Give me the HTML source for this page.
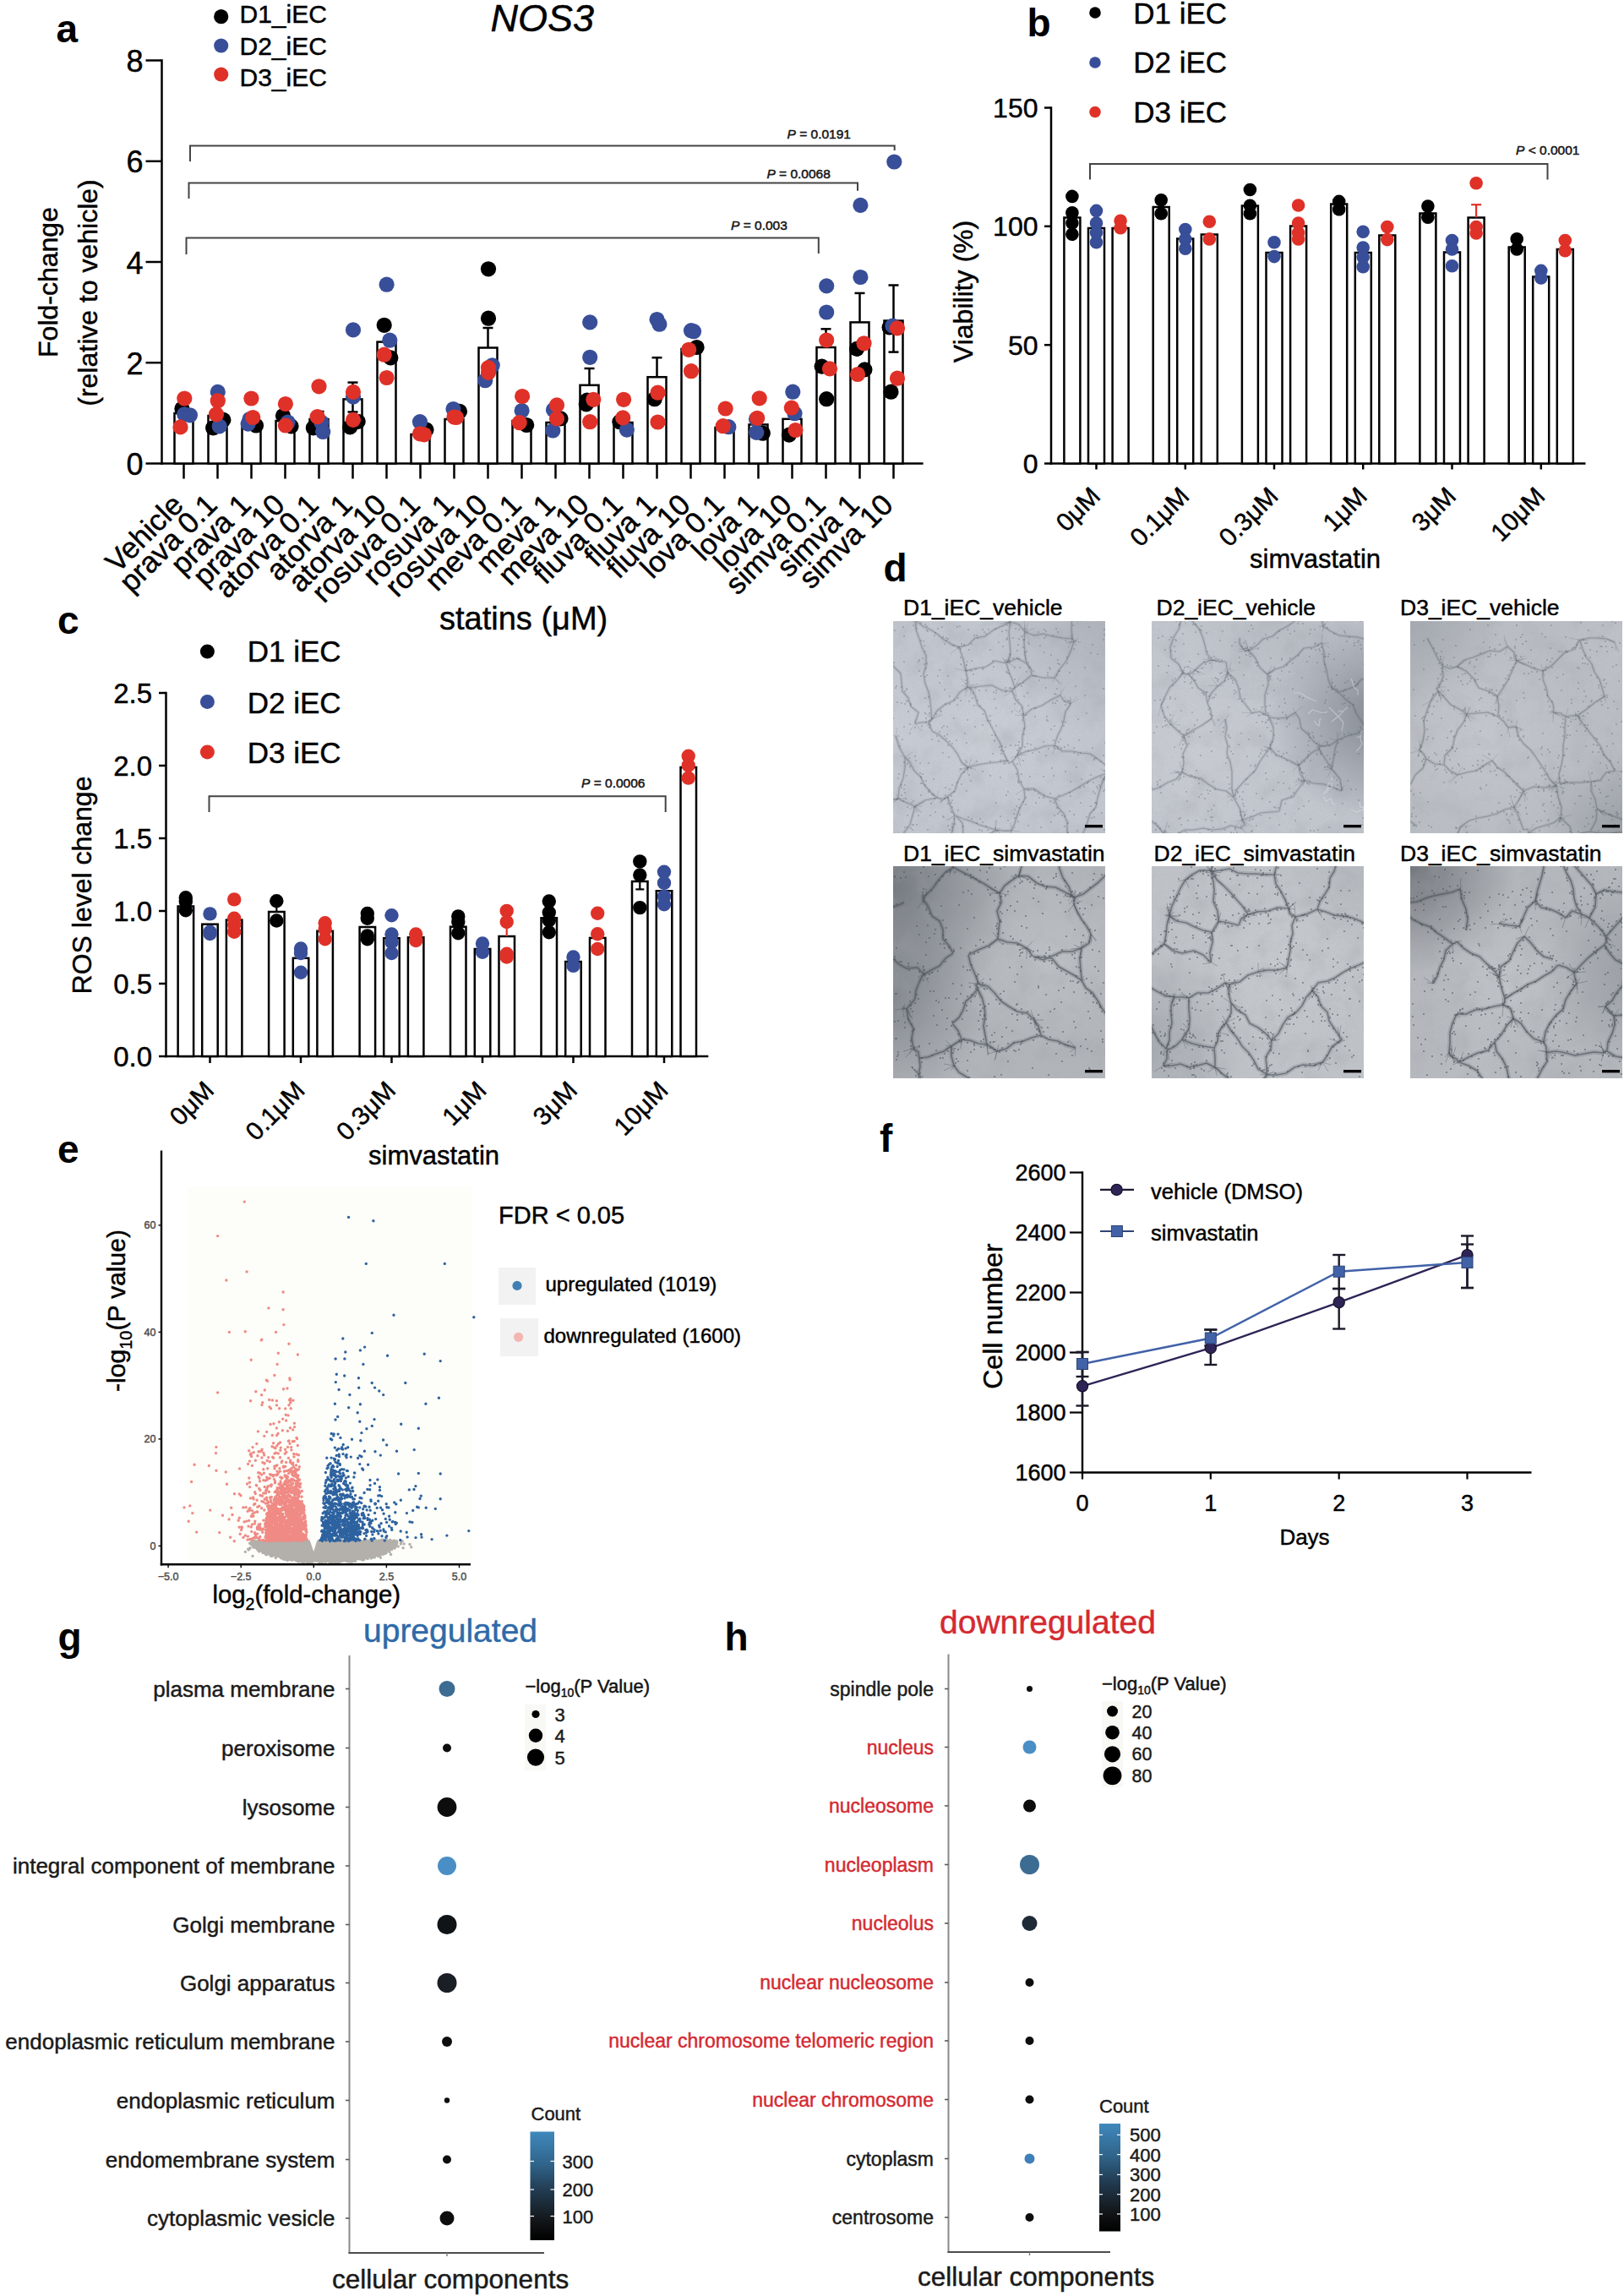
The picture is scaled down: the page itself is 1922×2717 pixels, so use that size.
<!DOCTYPE html>
<html><head><meta charset="utf-8"><style>
html,body{margin:0;padding:0;background:#fff;}
svg{display:block;}
text{font-family:'Liberation Sans', Arial, Helvetica, sans-serif;stroke:#000;stroke-width:0.45px;}
</style></head><body>
<svg width="1922" height="2717" viewBox="0 0 1922 2717">
<rect width="1922" height="2717" fill="#fff"/>
<text x="66.5" y="49.5" font-size="46" font-weight="bold" style="stroke-width:0">a</text>
<text x="1215.5" y="43.1" font-size="46" font-weight="bold" style="stroke-width:0">b</text>
<text x="68.0" y="750.0" font-size="46" font-weight="bold" style="stroke-width:0">c</text>
<text x="1045.5" y="688.0" font-size="46" font-weight="bold" style="stroke-width:0">d</text>
<text x="68.0" y="1375.5" font-size="46" font-weight="bold" style="stroke-width:0">e</text>
<text x="1041.0" y="1362.5" font-size="46" font-weight="bold" style="stroke-width:0">f</text>
<text x="68.5" y="1953.0" font-size="46" font-weight="bold" style="stroke-width:0">g</text>
<text x="857.5" y="1952.5" font-size="46" font-weight="bold" style="stroke-width:0">h</text>
<line x1="191.5" y1="70.3" x2="191.5" y2="549.7" stroke="#000" stroke-width="2.5"/>
<line x1="190.3" y1="548.5" x2="1092.6" y2="548.5" stroke="#000" stroke-width="2.5"/>
<line x1="172.5" y1="548.5" x2="191.5" y2="548.5" stroke="#000" stroke-width="2.5"/>
<text x="169.5" y="562.0" font-size="36" text-anchor="end">0</text>
<line x1="172.5" y1="429.2" x2="191.5" y2="429.2" stroke="#000" stroke-width="2.5"/>
<text x="169.5" y="442.8" font-size="36" text-anchor="end">2</text>
<line x1="172.5" y1="310.0" x2="191.5" y2="310.0" stroke="#000" stroke-width="2.5"/>
<text x="169.5" y="323.5" font-size="36" text-anchor="end">4</text>
<line x1="172.5" y1="190.8" x2="191.5" y2="190.8" stroke="#000" stroke-width="2.5"/>
<text x="169.5" y="204.2" font-size="36" text-anchor="end">6</text>
<line x1="172.5" y1="71.5" x2="191.5" y2="71.5" stroke="#000" stroke-width="2.5"/>
<text x="169.5" y="85.0" font-size="36" text-anchor="end">8</text>
<line x1="217.5" y1="548.5" x2="217.5" y2="566.5" stroke="#000" stroke-width="2.5"/>
<rect x="206.5" y="489.0" width="22" height="59.5" fill="#fff" stroke="#000" stroke-width="2.5"/>
<line x1="257.5" y1="548.5" x2="257.5" y2="566.5" stroke="#000" stroke-width="2.5"/>
<rect x="246.5" y="492.0" width="22" height="56.5" fill="#fff" stroke="#000" stroke-width="2.5"/>
<line x1="297.5" y1="548.5" x2="297.5" y2="566.5" stroke="#000" stroke-width="2.5"/>
<rect x="286.5" y="500.0" width="22" height="48.5" fill="#fff" stroke="#000" stroke-width="2.5"/>
<line x1="337.5" y1="548.5" x2="337.5" y2="566.5" stroke="#000" stroke-width="2.5"/>
<rect x="326.5" y="498.0" width="22" height="50.5" fill="#fff" stroke="#000" stroke-width="2.5"/>
<line x1="377.5" y1="548.5" x2="377.5" y2="566.5" stroke="#000" stroke-width="2.5"/>
<rect x="366.5" y="496.0" width="22" height="52.5" fill="#fff" stroke="#000" stroke-width="2.5"/>
<line x1="377.5" y1="496.0" x2="377.5" y2="487.0" stroke="#000" stroke-width="2.5"/>
<line x1="371.5" y1="487.0" x2="383.5" y2="487.0" stroke="#000" stroke-width="2.5"/>
<line x1="417.5" y1="548.5" x2="417.5" y2="566.5" stroke="#000" stroke-width="2.5"/>
<rect x="406.5" y="472.4" width="22" height="76.1" fill="#fff" stroke="#000" stroke-width="2.5"/>
<line x1="417.5" y1="472.4" x2="417.5" y2="452.6" stroke="#000" stroke-width="2.5"/>
<line x1="411.5" y1="452.6" x2="423.5" y2="452.6" stroke="#000" stroke-width="2.5"/>
<line x1="417.5" y1="472.4" x2="417.5" y2="487.5" stroke="#000" stroke-width="2.5"/>
<line x1="411.5" y1="487.5" x2="423.5" y2="487.5" stroke="#000" stroke-width="2.5"/>
<line x1="457.5" y1="548.5" x2="457.5" y2="566.5" stroke="#000" stroke-width="2.5"/>
<rect x="446.5" y="404.6" width="22" height="143.9" fill="#fff" stroke="#000" stroke-width="2.5"/>
<line x1="497.5" y1="548.5" x2="497.5" y2="566.5" stroke="#000" stroke-width="2.5"/>
<rect x="486.5" y="514.0" width="22" height="34.5" fill="#fff" stroke="#000" stroke-width="2.5"/>
<line x1="537.5" y1="548.5" x2="537.5" y2="566.5" stroke="#000" stroke-width="2.5"/>
<rect x="526.5" y="496.0" width="22" height="52.5" fill="#fff" stroke="#000" stroke-width="2.5"/>
<line x1="577.5" y1="548.5" x2="577.5" y2="566.5" stroke="#000" stroke-width="2.5"/>
<rect x="566.5" y="411.5" width="22" height="137.0" fill="#fff" stroke="#000" stroke-width="2.5"/>
<line x1="577.5" y1="411.5" x2="577.5" y2="388.0" stroke="#000" stroke-width="2.5"/>
<line x1="571.5" y1="388.0" x2="583.5" y2="388.0" stroke="#000" stroke-width="2.5"/>
<line x1="617.5" y1="548.5" x2="617.5" y2="566.5" stroke="#000" stroke-width="2.5"/>
<rect x="606.5" y="498.0" width="22" height="50.5" fill="#fff" stroke="#000" stroke-width="2.5"/>
<line x1="657.5" y1="548.5" x2="657.5" y2="566.5" stroke="#000" stroke-width="2.5"/>
<rect x="646.5" y="500.0" width="22" height="48.5" fill="#fff" stroke="#000" stroke-width="2.5"/>
<line x1="697.5" y1="548.5" x2="697.5" y2="566.5" stroke="#000" stroke-width="2.5"/>
<rect x="686.5" y="455.8" width="22" height="92.7" fill="#fff" stroke="#000" stroke-width="2.5"/>
<line x1="697.5" y1="455.8" x2="697.5" y2="436.0" stroke="#000" stroke-width="2.5"/>
<line x1="691.5" y1="436.0" x2="703.5" y2="436.0" stroke="#000" stroke-width="2.5"/>
<line x1="737.5" y1="548.5" x2="737.5" y2="566.5" stroke="#000" stroke-width="2.5"/>
<rect x="726.5" y="500.0" width="22" height="48.5" fill="#fff" stroke="#000" stroke-width="2.5"/>
<line x1="777.5" y1="548.5" x2="777.5" y2="566.5" stroke="#000" stroke-width="2.5"/>
<rect x="766.5" y="446.2" width="22" height="102.3" fill="#fff" stroke="#000" stroke-width="2.5"/>
<line x1="777.5" y1="446.2" x2="777.5" y2="423.2" stroke="#000" stroke-width="2.5"/>
<line x1="771.5" y1="423.2" x2="783.5" y2="423.2" stroke="#000" stroke-width="2.5"/>
<line x1="817.5" y1="548.5" x2="817.5" y2="566.5" stroke="#000" stroke-width="2.5"/>
<rect x="806.5" y="413.0" width="22" height="135.5" fill="#fff" stroke="#000" stroke-width="2.5"/>
<line x1="857.5" y1="548.5" x2="857.5" y2="566.5" stroke="#000" stroke-width="2.5"/>
<rect x="846.5" y="506.0" width="22" height="42.5" fill="#fff" stroke="#000" stroke-width="2.5"/>
<line x1="897.5" y1="548.5" x2="897.5" y2="566.5" stroke="#000" stroke-width="2.5"/>
<rect x="886.5" y="502.4" width="22" height="46.1" fill="#fff" stroke="#000" stroke-width="2.5"/>
<line x1="937.5" y1="548.5" x2="937.5" y2="566.5" stroke="#000" stroke-width="2.5"/>
<rect x="926.5" y="495.8" width="22" height="52.7" fill="#fff" stroke="#000" stroke-width="2.5"/>
<line x1="977.5" y1="548.5" x2="977.5" y2="566.5" stroke="#000" stroke-width="2.5"/>
<rect x="966.5" y="411.0" width="22" height="137.5" fill="#fff" stroke="#000" stroke-width="2.5"/>
<line x1="977.5" y1="411.0" x2="977.5" y2="389.3" stroke="#000" stroke-width="2.5"/>
<line x1="971.5" y1="389.3" x2="983.5" y2="389.3" stroke="#000" stroke-width="2.5"/>
<line x1="1017.5" y1="548.5" x2="1017.5" y2="566.5" stroke="#000" stroke-width="2.5"/>
<rect x="1006.5" y="381.4" width="22" height="167.1" fill="#fff" stroke="#000" stroke-width="2.5"/>
<line x1="1017.5" y1="381.4" x2="1017.5" y2="346.9" stroke="#000" stroke-width="2.5"/>
<line x1="1011.5" y1="346.9" x2="1023.5" y2="346.9" stroke="#000" stroke-width="2.5"/>
<line x1="1057.5" y1="548.5" x2="1057.5" y2="566.5" stroke="#000" stroke-width="2.5"/>
<rect x="1046.5" y="379.5" width="22" height="169.0" fill="#fff" stroke="#000" stroke-width="2.5"/>
<line x1="1057.5" y1="379.5" x2="1057.5" y2="337.5" stroke="#000" stroke-width="2.5"/>
<line x1="1051.5" y1="337.5" x2="1063.5" y2="337.5" stroke="#000" stroke-width="2.5"/>
<line x1="1057.5" y1="379.5" x2="1057.5" y2="416.6" stroke="#000" stroke-width="2.5"/>
<line x1="1051.5" y1="416.6" x2="1063.5" y2="416.6" stroke="#000" stroke-width="2.5"/>
<circle cx="215.4" cy="483.7" r="9.1" fill="#000"/>
<circle cx="218.3" cy="490.3" r="9.1" fill="#384e98"/>
<circle cx="224.9" cy="491.3" r="9.1" fill="#384e98"/>
<circle cx="218.3" cy="471.5" r="9.1" fill="#df3128"/>
<circle cx="213.5" cy="505.4" r="9.1" fill="#df3128"/>
<circle cx="264.4" cy="496.9" r="9.1" fill="#000"/>
<circle cx="252.2" cy="506.3" r="9.1" fill="#000"/>
<circle cx="257.8" cy="463.9" r="9.1" fill="#384e98"/>
<circle cx="259.7" cy="504.4" r="9.1" fill="#384e98"/>
<circle cx="257.8" cy="474.3" r="9.1" fill="#df3128"/>
<circle cx="256.0" cy="490.3" r="9.1" fill="#df3128"/>
<circle cx="303.0" cy="503.5" r="9.1" fill="#000"/>
<circle cx="295.5" cy="496.0" r="9.1" fill="#384e98"/>
<circle cx="293.6" cy="501.6" r="9.1" fill="#384e98"/>
<circle cx="297.4" cy="471.5" r="9.1" fill="#df3128"/>
<circle cx="299.3" cy="494.0" r="9.1" fill="#df3128"/>
<circle cx="335.0" cy="492.0" r="9.1" fill="#000"/>
<circle cx="344.5" cy="504.4" r="9.1" fill="#000"/>
<circle cx="340.7" cy="499.7" r="9.1" fill="#384e98"/>
<circle cx="337.9" cy="478.0" r="9.1" fill="#df3128"/>
<circle cx="337.9" cy="503.5" r="9.1" fill="#df3128"/>
<circle cx="370.9" cy="506.3" r="9.1" fill="#000"/>
<circle cx="380.3" cy="499.7" r="9.1" fill="#384e98"/>
<circle cx="382.2" cy="511.0" r="9.1" fill="#384e98"/>
<circle cx="377.5" cy="457.3" r="9.1" fill="#df3128"/>
<circle cx="375.6" cy="493.1" r="9.1" fill="#df3128"/>
<circle cx="423.7" cy="498.8" r="9.1" fill="#000"/>
<circle cx="414.2" cy="505.4" r="9.1" fill="#000"/>
<circle cx="418.0" cy="390.4" r="9.1" fill="#384e98"/>
<circle cx="418.0" cy="469.6" r="9.1" fill="#384e98"/>
<circle cx="418.0" cy="463.9" r="9.1" fill="#df3128"/>
<circle cx="418.0" cy="496.9" r="9.1" fill="#df3128"/>
<circle cx="454.7" cy="384.8" r="9.1" fill="#000"/>
<circle cx="462.3" cy="423.4" r="9.1" fill="#000"/>
<circle cx="457.6" cy="336.7" r="9.1" fill="#384e98"/>
<circle cx="461.3" cy="402.7" r="9.1" fill="#384e98"/>
<circle cx="454.7" cy="419.7" r="9.1" fill="#df3128"/>
<circle cx="457.6" cy="447.0" r="9.1" fill="#df3128"/>
<circle cx="504.5" cy="508.6" r="9.1" fill="#000"/>
<circle cx="497.0" cy="499.2" r="9.1" fill="#384e98"/>
<circle cx="497.0" cy="513.3" r="9.1" fill="#df3128"/>
<circle cx="502.0" cy="514.3" r="9.1" fill="#df3128"/>
<circle cx="544.0" cy="486.9" r="9.1" fill="#000"/>
<circle cx="536.5" cy="484.0" r="9.1" fill="#384e98"/>
<circle cx="537.5" cy="493.5" r="9.1" fill="#df3128"/>
<circle cx="540.0" cy="494.0" r="9.1" fill="#df3128"/>
<circle cx="578.0" cy="318.3" r="9.1" fill="#000"/>
<circle cx="578.0" cy="376.7" r="9.1" fill="#000"/>
<circle cx="582.7" cy="432.3" r="9.1" fill="#384e98"/>
<circle cx="574.2" cy="450.2" r="9.1" fill="#384e98"/>
<circle cx="578.0" cy="435.1" r="9.1" fill="#df3128"/>
<circle cx="578.0" cy="440.8" r="9.1" fill="#df3128"/>
<circle cx="623.2" cy="503.0" r="9.1" fill="#000"/>
<circle cx="617.6" cy="486.0" r="9.1" fill="#384e98"/>
<circle cx="618.1" cy="469.0" r="9.1" fill="#df3128"/>
<circle cx="614.7" cy="500.1" r="9.1" fill="#df3128"/>
<circle cx="663.5" cy="495.4" r="9.1" fill="#000"/>
<circle cx="655.0" cy="485.0" r="9.1" fill="#384e98"/>
<circle cx="654.3" cy="509.5" r="9.1" fill="#384e98"/>
<circle cx="659.0" cy="479.4" r="9.1" fill="#df3128"/>
<circle cx="659.0" cy="495.4" r="9.1" fill="#df3128"/>
<circle cx="694.8" cy="473.7" r="9.1" fill="#000"/>
<circle cx="693.8" cy="478.4" r="9.1" fill="#000"/>
<circle cx="698.2" cy="381.4" r="9.1" fill="#384e98"/>
<circle cx="698.2" cy="422.8" r="9.1" fill="#384e98"/>
<circle cx="702.3" cy="472.8" r="9.1" fill="#df3128"/>
<circle cx="698.2" cy="499.2" r="9.1" fill="#df3128"/>
<circle cx="733.4" cy="499.2" r="9.1" fill="#000"/>
<circle cx="741.9" cy="508.6" r="9.1" fill="#384e98"/>
<circle cx="738.1" cy="472.8" r="9.1" fill="#df3128"/>
<circle cx="737.2" cy="494.4" r="9.1" fill="#df3128"/>
<circle cx="774.7" cy="472.2" r="9.1" fill="#000"/>
<circle cx="777.5" cy="378.0" r="9.1" fill="#384e98"/>
<circle cx="780.4" cy="383.7" r="9.1" fill="#384e98"/>
<circle cx="778.5" cy="464.7" r="9.1" fill="#df3128"/>
<circle cx="778.5" cy="499.5" r="9.1" fill="#df3128"/>
<circle cx="824.6" cy="411.0" r="9.1" fill="#000"/>
<circle cx="818.0" cy="391.2" r="9.1" fill="#384e98"/>
<circle cx="821.0" cy="392.2" r="9.1" fill="#384e98"/>
<circle cx="815.2" cy="413.8" r="9.1" fill="#df3128"/>
<circle cx="818.0" cy="439.2" r="9.1" fill="#df3128"/>
<circle cx="862.3" cy="505.2" r="9.1" fill="#384e98"/>
<circle cx="858.6" cy="483.5" r="9.1" fill="#df3128"/>
<circle cx="855.7" cy="504.2" r="9.1" fill="#df3128"/>
<circle cx="902.8" cy="512.7" r="9.1" fill="#000"/>
<circle cx="895.0" cy="496.0" r="9.1" fill="#384e98"/>
<circle cx="895.3" cy="511.8" r="9.1" fill="#384e98"/>
<circle cx="898.7" cy="471.3" r="9.1" fill="#df3128"/>
<circle cx="896.2" cy="494.8" r="9.1" fill="#df3128"/>
<circle cx="933.9" cy="514.6" r="9.1" fill="#000"/>
<circle cx="938.3" cy="463.7" r="9.1" fill="#384e98"/>
<circle cx="940.5" cy="489.2" r="9.1" fill="#384e98"/>
<circle cx="936.8" cy="482.6" r="9.1" fill="#df3128"/>
<circle cx="941.5" cy="509.0" r="9.1" fill="#df3128"/>
<circle cx="972.6" cy="433.6" r="9.1" fill="#000"/>
<circle cx="978.2" cy="472.2" r="9.1" fill="#000"/>
<circle cx="978.2" cy="338.4" r="9.1" fill="#384e98"/>
<circle cx="978.2" cy="369.5" r="9.1" fill="#384e98"/>
<circle cx="978.2" cy="402.5" r="9.1" fill="#df3128"/>
<circle cx="982.0" cy="436.4" r="9.1" fill="#df3128"/>
<circle cx="1014.0" cy="412.9" r="9.1" fill="#000"/>
<circle cx="1023.4" cy="437.4" r="9.1" fill="#000"/>
<circle cx="1018.4" cy="242.9" r="9.1" fill="#384e98"/>
<circle cx="1018.4" cy="328.0" r="9.1" fill="#384e98"/>
<circle cx="1022.5" cy="406.3" r="9.1" fill="#df3128"/>
<circle cx="1015.0" cy="443.0" r="9.1" fill="#df3128"/>
<circle cx="1052.6" cy="387.4" r="9.1" fill="#000"/>
<circle cx="1054.5" cy="463.7" r="9.1" fill="#000"/>
<circle cx="1058.3" cy="191.5" r="9.1" fill="#384e98"/>
<circle cx="1056.4" cy="385.5" r="9.1" fill="#384e98"/>
<circle cx="1062.0" cy="388.4" r="9.1" fill="#df3128"/>
<circle cx="1062.0" cy="447.7" r="9.1" fill="#df3128"/>
<path d="M225.0,191.0V172.4H1058.7V178.0" fill="none" stroke="#444" stroke-width="2"/>
<path d="M223.5,235.0V216.6H1015.0V225.7" fill="none" stroke="#444" stroke-width="2"/>
<path d="M220.5,301.0V281.5H968.8V300.0" fill="none" stroke="#444" stroke-width="2"/>
<text x="931.5" y="163.8" font-size="15.5" fill="#222"><tspan font-style="italic">P</tspan> = 0.0191</text>
<text x="907.4" y="210.5" font-size="15.5" fill="#222"><tspan font-style="italic">P</tspan> = 0.0068</text>
<text x="865.0" y="272.0" font-size="15.5" fill="#222"><tspan font-style="italic">P</tspan> = 0.003</text>
<circle cx="261.7" cy="19.7" r="8.6" fill="#000"/>
<text x="283.5" y="27.1" font-size="30">D1_iEC</text>
<circle cx="261.7" cy="54.0" r="8.6" fill="#384e98"/>
<text x="283.5" y="65.0" font-size="30">D2_iEC</text>
<circle cx="261.7" cy="88.0" r="8.6" fill="#df3128"/>
<text x="283.5" y="101.5" font-size="30">D3_iEC</text>
<text x="580.5" y="37.0" font-size="45" font-style="italic">NOS3</text>
<text x="219.0" y="599.5" font-size="35" text-anchor="end" transform="rotate(-45 219.0 599.5)">Vehicle</text>
<text x="259.0" y="599.5" font-size="35" text-anchor="end" transform="rotate(-45 259.0 599.5)">prava 0.1</text>
<text x="299.0" y="599.5" font-size="35" text-anchor="end" transform="rotate(-45 299.0 599.5)">prava 1</text>
<text x="339.0" y="599.5" font-size="35" text-anchor="end" transform="rotate(-45 339.0 599.5)">prava 10</text>
<text x="379.0" y="599.5" font-size="35" text-anchor="end" transform="rotate(-45 379.0 599.5)">atorva 0.1</text>
<text x="419.0" y="599.5" font-size="35" text-anchor="end" transform="rotate(-45 419.0 599.5)">atorva 1</text>
<text x="459.0" y="599.5" font-size="35" text-anchor="end" transform="rotate(-45 459.0 599.5)">atorva 10</text>
<text x="499.0" y="599.5" font-size="35" text-anchor="end" transform="rotate(-45 499.0 599.5)">rosuva 0.1</text>
<text x="539.0" y="599.5" font-size="35" text-anchor="end" transform="rotate(-45 539.0 599.5)">rosuva 1</text>
<text x="579.0" y="599.5" font-size="35" text-anchor="end" transform="rotate(-45 579.0 599.5)">rosuva 10</text>
<text x="619.0" y="599.5" font-size="35" text-anchor="end" transform="rotate(-45 619.0 599.5)">meva 0.1</text>
<text x="659.0" y="599.5" font-size="35" text-anchor="end" transform="rotate(-45 659.0 599.5)">meva 1</text>
<text x="699.0" y="599.5" font-size="35" text-anchor="end" transform="rotate(-45 699.0 599.5)">meva 10</text>
<text x="739.0" y="599.5" font-size="35" text-anchor="end" transform="rotate(-45 739.0 599.5)">fluva 0.1</text>
<text x="779.0" y="599.5" font-size="35" text-anchor="end" transform="rotate(-45 779.0 599.5)">fluva 1</text>
<text x="819.0" y="599.5" font-size="35" text-anchor="end" transform="rotate(-45 819.0 599.5)">fluva 10</text>
<text x="859.0" y="599.5" font-size="35" text-anchor="end" transform="rotate(-45 859.0 599.5)">lova 0.1</text>
<text x="899.0" y="599.5" font-size="35" text-anchor="end" transform="rotate(-45 899.0 599.5)">lova 1</text>
<text x="939.0" y="599.5" font-size="35" text-anchor="end" transform="rotate(-45 939.0 599.5)">lova 10</text>
<text x="979.0" y="599.5" font-size="35" text-anchor="end" transform="rotate(-45 979.0 599.5)">simva 0.1</text>
<text x="1019.0" y="599.5" font-size="35" text-anchor="end" transform="rotate(-45 1019.0 599.5)">simva 1</text>
<text x="1059.0" y="599.5" font-size="35" text-anchor="end" transform="rotate(-45 1059.0 599.5)">simva 10</text>
<text x="520.0" y="745.0" font-size="38">statins (μM)</text>
<text font-size="32" text-anchor="middle" transform="translate(67.6 334) rotate(-90)">Fold-change</text>
<text font-size="32" text-anchor="middle" transform="translate(115 346.5) rotate(-90)">(relative to vehicle)</text>
<line x1="1244.0" y1="126.3" x2="1244.0" y2="549.7" stroke="#000" stroke-width="2.5"/>
<line x1="1242.8" y1="548.5" x2="1876.5" y2="548.5" stroke="#000" stroke-width="2.5"/>
<line x1="1236.0" y1="548.5" x2="1244.0" y2="548.5" stroke="#000" stroke-width="2.5"/>
<text x="1228.5" y="560.0" font-size="32" text-anchor="end">0</text>
<line x1="1236.0" y1="408.2" x2="1244.0" y2="408.2" stroke="#000" stroke-width="2.5"/>
<text x="1228.5" y="419.7" font-size="32" text-anchor="end">50</text>
<line x1="1236.0" y1="267.8" x2="1244.0" y2="267.8" stroke="#000" stroke-width="2.5"/>
<text x="1228.5" y="279.3" font-size="32" text-anchor="end">100</text>
<line x1="1236.0" y1="127.5" x2="1244.0" y2="127.5" stroke="#000" stroke-width="2.5"/>
<text x="1228.5" y="139.0" font-size="32" text-anchor="end">150</text>
<line x1="1297.5" y1="548.5" x2="1297.5" y2="555.5" stroke="#000" stroke-width="2.5"/>
<rect x="1259.4" y="257.5" width="19" height="291.0" fill="#fff" stroke="#000" stroke-width="2.5"/>
<rect x="1288.0" y="270.0" width="19" height="278.5" fill="#fff" stroke="#000" stroke-width="2.5"/>
<rect x="1316.6" y="270.0" width="19" height="278.5" fill="#fff" stroke="#000" stroke-width="2.5"/>
<line x1="1402.8" y1="548.5" x2="1402.8" y2="555.5" stroke="#000" stroke-width="2.5"/>
<rect x="1364.7" y="245.0" width="19" height="303.5" fill="#fff" stroke="#000" stroke-width="2.5"/>
<rect x="1393.2" y="282.5" width="19" height="266.0" fill="#fff" stroke="#000" stroke-width="2.5"/>
<rect x="1421.8" y="277.5" width="19" height="271.0" fill="#fff" stroke="#000" stroke-width="2.5"/>
<line x1="1508.0" y1="548.5" x2="1508.0" y2="555.5" stroke="#000" stroke-width="2.5"/>
<rect x="1469.9" y="243.5" width="19" height="305.0" fill="#fff" stroke="#000" stroke-width="2.5"/>
<rect x="1498.5" y="299.0" width="19" height="249.5" fill="#fff" stroke="#000" stroke-width="2.5"/>
<rect x="1527.1" y="267.5" width="19" height="281.0" fill="#fff" stroke="#000" stroke-width="2.5"/>
<line x1="1613.2" y1="548.5" x2="1613.2" y2="555.5" stroke="#000" stroke-width="2.5"/>
<rect x="1575.2" y="241.5" width="19" height="307.0" fill="#fff" stroke="#000" stroke-width="2.5"/>
<rect x="1603.8" y="299.0" width="19" height="249.5" fill="#fff" stroke="#000" stroke-width="2.5"/>
<rect x="1632.3" y="278.5" width="19" height="270.0" fill="#fff" stroke="#000" stroke-width="2.5"/>
<line x1="1718.5" y1="548.5" x2="1718.5" y2="555.5" stroke="#000" stroke-width="2.5"/>
<rect x="1680.4" y="252.5" width="19" height="296.0" fill="#fff" stroke="#000" stroke-width="2.5"/>
<rect x="1709.0" y="298.5" width="19" height="250.0" fill="#fff" stroke="#000" stroke-width="2.5"/>
<rect x="1737.6" y="257.5" width="19" height="291.0" fill="#fff" stroke="#000" stroke-width="2.5"/>
<line x1="1823.8" y1="548.5" x2="1823.8" y2="555.5" stroke="#000" stroke-width="2.5"/>
<rect x="1785.7" y="292.5" width="19" height="256.0" fill="#fff" stroke="#000" stroke-width="2.5"/>
<rect x="1814.2" y="327.5" width="19" height="221.0" fill="#fff" stroke="#000" stroke-width="2.5"/>
<rect x="1842.8" y="295.0" width="19" height="253.5" fill="#fff" stroke="#000" stroke-width="2.5"/>
<line x1="1747.1" y1="257.3" x2="1747.1" y2="242.2" stroke="#df3128" stroke-width="2.2"/>
<line x1="1741.1" y1="242.2" x2="1753.1" y2="242.2" stroke="#df3128" stroke-width="2.2"/>
<circle cx="1268.9" cy="232.4" r="7.8" fill="#000"/>
<circle cx="1268.9" cy="251.8" r="7.8" fill="#000"/>
<circle cx="1268.9" cy="264.0" r="7.8" fill="#000"/>
<circle cx="1268.9" cy="277.3" r="7.8" fill="#000"/>
<circle cx="1297.5" cy="249.4" r="7.8" fill="#384e98"/>
<circle cx="1297.5" cy="264.0" r="7.8" fill="#384e98"/>
<circle cx="1297.5" cy="275.4" r="7.8" fill="#384e98"/>
<circle cx="1297.5" cy="286.7" r="7.8" fill="#384e98"/>
<circle cx="1326.1" cy="261.2" r="7.8" fill="#df3128"/>
<circle cx="1326.1" cy="269.7" r="7.8" fill="#df3128"/>
<circle cx="1374.2" cy="236.7" r="7.8" fill="#000"/>
<circle cx="1374.2" cy="252.8" r="7.8" fill="#000"/>
<circle cx="1402.8" cy="271.6" r="7.8" fill="#384e98"/>
<circle cx="1402.8" cy="282.9" r="7.8" fill="#384e98"/>
<circle cx="1402.8" cy="294.2" r="7.8" fill="#384e98"/>
<circle cx="1431.3" cy="262.2" r="7.8" fill="#df3128"/>
<circle cx="1431.3" cy="282.9" r="7.8" fill="#df3128"/>
<circle cx="1479.4" cy="224.5" r="7.8" fill="#000"/>
<circle cx="1479.4" cy="243.3" r="7.8" fill="#000"/>
<circle cx="1479.4" cy="252.8" r="7.8" fill="#000"/>
<circle cx="1508.0" cy="286.7" r="7.8" fill="#384e98"/>
<circle cx="1508.0" cy="303.6" r="7.8" fill="#384e98"/>
<circle cx="1536.6" cy="243.0" r="7.8" fill="#df3128"/>
<circle cx="1536.6" cy="264.0" r="7.8" fill="#df3128"/>
<circle cx="1536.6" cy="275.4" r="7.8" fill="#df3128"/>
<circle cx="1536.6" cy="283.0" r="7.8" fill="#df3128"/>
<circle cx="1584.7" cy="238.4" r="7.8" fill="#000"/>
<circle cx="1584.7" cy="247.8" r="7.8" fill="#000"/>
<circle cx="1613.2" cy="274.2" r="7.8" fill="#384e98"/>
<circle cx="1613.2" cy="293.0" r="7.8" fill="#384e98"/>
<circle cx="1613.2" cy="304.4" r="7.8" fill="#384e98"/>
<circle cx="1613.2" cy="315.7" r="7.8" fill="#384e98"/>
<circle cx="1641.8" cy="268.6" r="7.8" fill="#df3128"/>
<circle cx="1641.8" cy="283.6" r="7.8" fill="#df3128"/>
<circle cx="1689.9" cy="244.0" r="7.8" fill="#000"/>
<circle cx="1689.9" cy="257.3" r="7.8" fill="#000"/>
<circle cx="1718.5" cy="284.6" r="7.8" fill="#384e98"/>
<circle cx="1718.5" cy="295.0" r="7.8" fill="#384e98"/>
<circle cx="1718.5" cy="314.7" r="7.8" fill="#384e98"/>
<circle cx="1747.1" cy="216.7" r="7.8" fill="#df3128"/>
<circle cx="1747.1" cy="268.6" r="7.8" fill="#df3128"/>
<circle cx="1747.1" cy="276.0" r="7.8" fill="#df3128"/>
<circle cx="1795.2" cy="282.7" r="7.8" fill="#000"/>
<circle cx="1795.2" cy="295.0" r="7.8" fill="#000"/>
<circle cx="1823.8" cy="320.4" r="7.8" fill="#384e98"/>
<circle cx="1823.8" cy="328.9" r="7.8" fill="#384e98"/>
<circle cx="1852.3" cy="284.6" r="7.8" fill="#df3128"/>
<circle cx="1852.3" cy="296.8" r="7.8" fill="#df3128"/>
<path d="M1290.0,212.5V194.0H1831.5V212.5" fill="none" stroke="#444" stroke-width="2"/>
<text x="1794.0" y="183.0" font-size="15.5" fill="#222"><tspan font-style="italic">P</tspan> &lt; 0.0001</text>
<circle cx="1296.0" cy="15.0" r="6.8" fill="#000"/>
<text x="1341.2" y="27.5" font-size="35">D1 iEC</text>
<circle cx="1296.0" cy="74.0" r="6.8" fill="#384e98"/>
<text x="1341.2" y="86.0" font-size="35">D2 iEC</text>
<circle cx="1296.0" cy="132.5" r="6.8" fill="#df3128"/>
<text x="1341.2" y="145.0" font-size="35">D3 iEC</text>
<text font-size="32" text-anchor="middle" transform="translate(1150.5 345) rotate(-90)">Viability (%)</text>
<text x="1304.0" y="589.0" font-size="30" text-anchor="end" transform="rotate(-45 1304.0 589.0)">0μM</text>
<text x="1409.2" y="589.0" font-size="30" text-anchor="end" transform="rotate(-45 1409.2 589.0)">0.1μM</text>
<text x="1514.5" y="589.0" font-size="30" text-anchor="end" transform="rotate(-45 1514.5 589.0)">0.3μM</text>
<text x="1619.8" y="589.0" font-size="30" text-anchor="end" transform="rotate(-45 1619.8 589.0)">1μM</text>
<text x="1725.0" y="589.0" font-size="30" text-anchor="end" transform="rotate(-45 1725.0 589.0)">3μM</text>
<text x="1830.2" y="589.0" font-size="30" text-anchor="end" transform="rotate(-45 1830.2 589.0)">10μM</text>
<text x="1479.0" y="671.9" font-size="31">simvastatin</text>
<line x1="196.5" y1="818.8" x2="196.5" y2="1251.2" stroke="#000" stroke-width="2.5"/>
<line x1="195.3" y1="1250.0" x2="838.3" y2="1250.0" stroke="#000" stroke-width="2.5"/>
<line x1="188.0" y1="1250.0" x2="196.5" y2="1250.0" stroke="#000" stroke-width="2.5"/>
<text x="180.0" y="1262.0" font-size="33" text-anchor="end">0.0</text>
<line x1="188.0" y1="1164.0" x2="196.5" y2="1164.0" stroke="#000" stroke-width="2.5"/>
<text x="180.0" y="1176.0" font-size="33" text-anchor="end">0.5</text>
<line x1="188.0" y1="1078.0" x2="196.5" y2="1078.0" stroke="#000" stroke-width="2.5"/>
<text x="180.0" y="1090.0" font-size="33" text-anchor="end">1.0</text>
<line x1="188.0" y1="992.0" x2="196.5" y2="992.0" stroke="#000" stroke-width="2.5"/>
<text x="180.0" y="1004.0" font-size="33" text-anchor="end">1.5</text>
<line x1="188.0" y1="906.0" x2="196.5" y2="906.0" stroke="#000" stroke-width="2.5"/>
<text x="180.0" y="918.0" font-size="33" text-anchor="end">2.0</text>
<line x1="188.0" y1="820.0" x2="196.5" y2="820.0" stroke="#000" stroke-width="2.5"/>
<text x="180.0" y="832.0" font-size="33" text-anchor="end">2.5</text>
<line x1="248.5" y1="1250.0" x2="248.5" y2="1258.0" stroke="#000" stroke-width="2.5"/>
<rect x="210.6" y="1072.5" width="18.5" height="177.5" fill="#fff" stroke="#000" stroke-width="2.5"/>
<rect x="239.2" y="1093.7" width="18.5" height="156.3" fill="#fff" stroke="#000" stroke-width="2.5"/>
<rect x="267.9" y="1088.6" width="18.5" height="161.4" fill="#fff" stroke="#000" stroke-width="2.5"/>
<line x1="356.0" y1="1250.0" x2="356.0" y2="1258.0" stroke="#000" stroke-width="2.5"/>
<rect x="318.1" y="1079.0" width="18.5" height="171.0" fill="#fff" stroke="#000" stroke-width="2.5"/>
<rect x="346.8" y="1133.8" width="18.5" height="116.2" fill="#fff" stroke="#000" stroke-width="2.5"/>
<rect x="375.4" y="1101.8" width="18.5" height="148.2" fill="#fff" stroke="#000" stroke-width="2.5"/>
<line x1="463.5" y1="1250.0" x2="463.5" y2="1258.0" stroke="#000" stroke-width="2.5"/>
<rect x="425.6" y="1097.0" width="18.5" height="153.0" fill="#fff" stroke="#000" stroke-width="2.5"/>
<rect x="454.2" y="1110.2" width="18.5" height="139.8" fill="#fff" stroke="#000" stroke-width="2.5"/>
<rect x="482.9" y="1109.3" width="18.5" height="140.7" fill="#fff" stroke="#000" stroke-width="2.5"/>
<line x1="571.0" y1="1250.0" x2="571.0" y2="1258.0" stroke="#000" stroke-width="2.5"/>
<rect x="533.0" y="1096.7" width="18.5" height="153.3" fill="#fff" stroke="#000" stroke-width="2.5"/>
<rect x="561.8" y="1123.0" width="18.5" height="127.0" fill="#fff" stroke="#000" stroke-width="2.5"/>
<rect x="590.5" y="1108.0" width="18.5" height="142.0" fill="#fff" stroke="#000" stroke-width="2.5"/>
<line x1="678.5" y1="1250.0" x2="678.5" y2="1258.0" stroke="#000" stroke-width="2.5"/>
<rect x="640.5" y="1086.3" width="18.5" height="163.7" fill="#fff" stroke="#000" stroke-width="2.5"/>
<rect x="669.2" y="1138.0" width="18.5" height="112.0" fill="#fff" stroke="#000" stroke-width="2.5"/>
<rect x="698.0" y="1109.9" width="18.5" height="140.1" fill="#fff" stroke="#000" stroke-width="2.5"/>
<line x1="786.0" y1="1250.0" x2="786.0" y2="1258.0" stroke="#000" stroke-width="2.5"/>
<rect x="748.0" y="1043.0" width="18.5" height="207.0" fill="#fff" stroke="#000" stroke-width="2.5"/>
<rect x="776.8" y="1054.3" width="18.5" height="195.7" fill="#fff" stroke="#000" stroke-width="2.5"/>
<rect x="805.5" y="908.0" width="18.5" height="342.0" fill="#fff" stroke="#000" stroke-width="2.5"/>
<line x1="599.7" y1="1108.0" x2="599.7" y2="1090.0" stroke="#df3128" stroke-width="2.2"/>
<line x1="594.7" y1="1090.0" x2="604.7" y2="1090.0" stroke="#df3128" stroke-width="2.2"/>
<line x1="757.3" y1="1043.0" x2="757.3" y2="1033.0" stroke="#000" stroke-width="2.2"/>
<line x1="752.3" y1="1033.0" x2="762.3" y2="1033.0" stroke="#000" stroke-width="2.2"/>
<line x1="757.3" y1="1043.0" x2="757.3" y2="1052.4" stroke="#000" stroke-width="2.2"/>
<line x1="752.3" y1="1052.4" x2="762.3" y2="1052.4" stroke="#000" stroke-width="2.2"/>
<line x1="327.3" y1="1079.0" x2="327.3" y2="1070.0" stroke="#000" stroke-width="2.2"/>
<line x1="322.3" y1="1070.0" x2="332.3" y2="1070.0" stroke="#000" stroke-width="2.2"/>
<circle cx="219.8" cy="1062.2" r="8.2" fill="#000"/>
<circle cx="219.8" cy="1066.9" r="8.2" fill="#000"/>
<circle cx="219.8" cy="1077.3" r="8.2" fill="#000"/>
<circle cx="248.5" cy="1081.4" r="8.2" fill="#384e98"/>
<circle cx="248.5" cy="1102.7" r="8.2" fill="#384e98"/>
<circle cx="248.5" cy="1105.0" r="8.2" fill="#384e98"/>
<circle cx="277.2" cy="1064.4" r="8.2" fill="#df3128"/>
<circle cx="277.2" cy="1086.7" r="8.2" fill="#df3128"/>
<circle cx="277.2" cy="1094.2" r="8.2" fill="#df3128"/>
<circle cx="277.2" cy="1102.7" r="8.2" fill="#df3128"/>
<circle cx="327.3" cy="1066.3" r="8.2" fill="#000"/>
<circle cx="327.3" cy="1089.5" r="8.2" fill="#000"/>
<circle cx="356.0" cy="1122.5" r="8.2" fill="#384e98"/>
<circle cx="356.0" cy="1128.0" r="8.2" fill="#384e98"/>
<circle cx="356.0" cy="1150.7" r="8.2" fill="#384e98"/>
<circle cx="384.7" cy="1092.3" r="8.2" fill="#df3128"/>
<circle cx="384.7" cy="1099.9" r="8.2" fill="#df3128"/>
<circle cx="384.7" cy="1111.2" r="8.2" fill="#df3128"/>
<circle cx="434.8" cy="1081.0" r="8.2" fill="#000"/>
<circle cx="434.8" cy="1086.7" r="8.2" fill="#000"/>
<circle cx="434.8" cy="1107.4" r="8.2" fill="#000"/>
<circle cx="434.8" cy="1111.2" r="8.2" fill="#000"/>
<circle cx="463.5" cy="1083.3" r="8.2" fill="#384e98"/>
<circle cx="463.5" cy="1105.5" r="8.2" fill="#384e98"/>
<circle cx="463.5" cy="1115.0" r="8.2" fill="#384e98"/>
<circle cx="463.5" cy="1128.0" r="8.2" fill="#384e98"/>
<circle cx="492.2" cy="1105.5" r="8.2" fill="#df3128"/>
<circle cx="492.2" cy="1113.0" r="8.2" fill="#df3128"/>
<circle cx="542.3" cy="1084.4" r="8.2" fill="#000"/>
<circle cx="542.3" cy="1091.0" r="8.2" fill="#000"/>
<circle cx="542.3" cy="1104.2" r="8.2" fill="#000"/>
<circle cx="571.0" cy="1116.5" r="8.2" fill="#384e98"/>
<circle cx="571.0" cy="1126.8" r="8.2" fill="#384e98"/>
<circle cx="599.7" cy="1077.9" r="8.2" fill="#df3128"/>
<circle cx="599.7" cy="1091.0" r="8.2" fill="#df3128"/>
<circle cx="599.7" cy="1128.7" r="8.2" fill="#df3128"/>
<circle cx="599.7" cy="1132.5" r="8.2" fill="#df3128"/>
<circle cx="649.8" cy="1066.5" r="8.2" fill="#000"/>
<circle cx="649.8" cy="1079.7" r="8.2" fill="#000"/>
<circle cx="649.8" cy="1089.2" r="8.2" fill="#000"/>
<circle cx="649.8" cy="1103.3" r="8.2" fill="#000"/>
<circle cx="678.5" cy="1132.5" r="8.2" fill="#384e98"/>
<circle cx="678.5" cy="1142.9" r="8.2" fill="#384e98"/>
<circle cx="707.2" cy="1080.7" r="8.2" fill="#df3128"/>
<circle cx="707.2" cy="1105.2" r="8.2" fill="#df3128"/>
<circle cx="707.2" cy="1123.0" r="8.2" fill="#df3128"/>
<circle cx="757.3" cy="1019.4" r="8.2" fill="#000"/>
<circle cx="757.3" cy="1035.5" r="8.2" fill="#000"/>
<circle cx="757.3" cy="1074.1" r="8.2" fill="#000"/>
<circle cx="786.0" cy="1031.7" r="8.2" fill="#384e98"/>
<circle cx="786.0" cy="1044.9" r="8.2" fill="#384e98"/>
<circle cx="786.0" cy="1060.9" r="8.2" fill="#384e98"/>
<circle cx="786.0" cy="1070.3" r="8.2" fill="#384e98"/>
<circle cx="814.7" cy="894.7" r="8.2" fill="#df3128"/>
<circle cx="814.7" cy="905.8" r="8.2" fill="#df3128"/>
<circle cx="814.7" cy="920.6" r="8.2" fill="#df3128"/>
<path d="M247.5,961.0V942.2H787.7V961.0" fill="none" stroke="#444" stroke-width="2"/>
<text x="688.0" y="931.5" font-size="15.5" fill="#222"><tspan font-style="italic">P</tspan> = 0.0006</text>
<circle cx="245.4" cy="770.9" r="8.5" fill="#000"/>
<text x="292.7" y="783.3" font-size="35">D1 iEC</text>
<circle cx="245.4" cy="830.5" r="8.5" fill="#384e98"/>
<text x="292.7" y="843.6" font-size="35">D2 iEC</text>
<circle cx="245.4" cy="890.1" r="8.5" fill="#df3128"/>
<text x="292.7" y="902.6" font-size="35">D3 iEC</text>
<text font-size="32" text-anchor="middle" transform="translate(108 1047.5) rotate(-90)">ROS level change</text>
<text x="255.0" y="1292.0" font-size="30" text-anchor="end" transform="rotate(-45 255.0 1292.0)">0μM</text>
<text x="362.5" y="1292.0" font-size="30" text-anchor="end" transform="rotate(-45 362.5 1292.0)">0.1μM</text>
<text x="470.0" y="1292.0" font-size="30" text-anchor="end" transform="rotate(-45 470.0 1292.0)">0.3μM</text>
<text x="577.5" y="1292.0" font-size="30" text-anchor="end" transform="rotate(-45 577.5 1292.0)">1μM</text>
<text x="685.0" y="1292.0" font-size="30" text-anchor="end" transform="rotate(-45 685.0 1292.0)">3μM</text>
<text x="792.5" y="1292.0" font-size="30" text-anchor="end" transform="rotate(-45 792.5 1292.0)">10μM</text>
<text x="436.0" y="1377.5" font-size="31">simvastatin</text>
<defs>
<filter id="grain" x="0" y="0" width="100%" height="100%"><feTurbulence type="fractalNoise" baseFrequency="0.9" numOctaves="2" seed="3" result="n"/><feColorMatrix type="matrix" values="0 0 0 0 0.3  0 0 0 0 0.32  0 0 0 0 0.35  0 0 0 -2.2 1.25"/></filter>
<filter id="grain2" x="0" y="0" width="100%" height="100%"><feTurbulence type="fractalNoise" baseFrequency="0.035" numOctaves="3" seed="8"/><feColorMatrix type="matrix" values="0 0 0 0 0.35  0 0 0 0 0.37  0 0 0 0 0.4  0 0 0 -1.4 0.75"/></filter>
<clipPath id="clip0"><rect x="1057" y="735" width="251" height="251"/></clipPath>
<radialGradient id="g0_0" cx="1321" cy="722" r="151" gradientUnits="userSpaceOnUse"><stop offset="0" stop-color="#959aa2" stop-opacity="0.5"/><stop offset="1" stop-color="#959aa2" stop-opacity="0"/></radialGradient>
<radialGradient id="g0_1" cx="1170" cy="873" r="113" gradientUnits="userSpaceOnUse"><stop offset="0" stop-color="#d2d6dc" stop-opacity="0.5"/><stop offset="1" stop-color="#d2d6dc" stop-opacity="0"/></radialGradient>
<radialGradient id="g0_2" cx="1044" cy="860" r="75" gradientUnits="userSpaceOnUse"><stop offset="0" stop-color="#d4d7dc" stop-opacity="0.4"/><stop offset="1" stop-color="#d4d7dc" stop-opacity="0"/></radialGradient>
<clipPath id="clip1"><rect x="1363" y="735" width="251" height="251"/></clipPath>
<radialGradient id="g1_0" cx="1627" cy="848" r="126" gradientUnits="userSpaceOnUse"><stop offset="0" stop-color="#767c85" stop-opacity="0.8"/><stop offset="1" stop-color="#767c85" stop-opacity="0"/></radialGradient>
<radialGradient id="g1_1" cx="1514" cy="735" r="113" gradientUnits="userSpaceOnUse"><stop offset="0" stop-color="#a9aeb5" stop-opacity="0.4"/><stop offset="1" stop-color="#a9aeb5" stop-opacity="0"/></radialGradient>
<radialGradient id="g1_2" cx="1413" cy="886" r="113" gradientUnits="userSpaceOnUse"><stop offset="0" stop-color="#cfd3d8" stop-opacity="0.5"/><stop offset="1" stop-color="#cfd3d8" stop-opacity="0"/></radialGradient>
<clipPath id="clip2"><rect x="1669" y="735" width="251" height="251"/></clipPath>
<radialGradient id="g2_0" cx="1656" cy="722" r="126" gradientUnits="userSpaceOnUse"><stop offset="0" stop-color="#8f949b" stop-opacity="0.6"/><stop offset="1" stop-color="#8f949b" stop-opacity="0"/></radialGradient>
<radialGradient id="g2_1" cx="1933" cy="999" r="113" gradientUnits="userSpaceOnUse"><stop offset="0" stop-color="#7f848b" stop-opacity="0.7"/><stop offset="1" stop-color="#7f848b" stop-opacity="0"/></radialGradient>
<radialGradient id="g2_2" cx="1757" cy="873" r="113" gradientUnits="userSpaceOnUse"><stop offset="0" stop-color="#cdd0d5" stop-opacity="0.55"/><stop offset="1" stop-color="#cdd0d5" stop-opacity="0"/></radialGradient>
<radialGradient id="g2_3" cx="1920" cy="760" r="75" gradientUnits="userSpaceOnUse"><stop offset="0" stop-color="#c6c9ce" stop-opacity="0.4"/><stop offset="1" stop-color="#c6c9ce" stop-opacity="0"/></radialGradient>
<clipPath id="clip3"><rect x="1057" y="1025" width="251" height="251"/></clipPath>
<radialGradient id="g3_0" cx="1057" cy="1050" r="151" gradientUnits="userSpaceOnUse"><stop offset="0" stop-color="#6a6f75" stop-opacity="0.85"/><stop offset="1" stop-color="#6a6f75" stop-opacity="0"/></radialGradient>
<radialGradient id="g3_1" cx="1057" cy="1188" r="113" gradientUnits="userSpaceOnUse"><stop offset="0" stop-color="#72777d" stop-opacity="0.7"/><stop offset="1" stop-color="#72777d" stop-opacity="0"/></radialGradient>
<radialGradient id="g3_2" cx="1245" cy="1138" r="113" gradientUnits="userSpaceOnUse"><stop offset="0" stop-color="#c4c7cb" stop-opacity="0.6"/><stop offset="1" stop-color="#c4c7cb" stop-opacity="0"/></radialGradient>
<clipPath id="clip4"><rect x="1363" y="1025" width="251" height="251"/></clipPath>
<radialGradient id="g4_0" cx="1363" cy="1238" r="113" gradientUnits="userSpaceOnUse"><stop offset="0" stop-color="#92979d" stop-opacity="0.55"/><stop offset="1" stop-color="#92979d" stop-opacity="0"/></radialGradient>
<radialGradient id="g4_1" cx="1514" cy="1138" r="113" gradientUnits="userSpaceOnUse"><stop offset="0" stop-color="#cfd2d6" stop-opacity="0.5"/><stop offset="1" stop-color="#cfd2d6" stop-opacity="0"/></radialGradient>
<radialGradient id="g4_2" cx="1614" cy="1038" r="88" gradientUnits="userSpaceOnUse"><stop offset="0" stop-color="#aaaeb4" stop-opacity="0.45"/><stop offset="1" stop-color="#aaaeb4" stop-opacity="0"/></radialGradient>
<clipPath id="clip5"><rect x="1669" y="1025" width="251" height="251"/></clipPath>
<radialGradient id="g5_0" cx="1669" cy="1025" r="126" gradientUnits="userSpaceOnUse"><stop offset="0" stop-color="#65696f" stop-opacity="0.85"/><stop offset="1" stop-color="#65696f" stop-opacity="0"/></radialGradient>
<radialGradient id="g5_1" cx="1933" cy="1150" r="113" gradientUnits="userSpaceOnUse"><stop offset="0" stop-color="#888d93" stop-opacity="0.6"/><stop offset="1" stop-color="#888d93" stop-opacity="0"/></radialGradient>
<radialGradient id="g5_2" cx="1782" cy="1163" r="100" gradientUnits="userSpaceOnUse"><stop offset="0" stop-color="#cbced2" stop-opacity="0.55"/><stop offset="1" stop-color="#cbced2" stop-opacity="0"/></radialGradient>
<radialGradient id="g5_3" cx="1744" cy="1276" r="88" gradientUnits="userSpaceOnUse"><stop offset="0" stop-color="#c4c7cb" stop-opacity="0.4"/><stop offset="1" stop-color="#c4c7cb" stop-opacity="0"/></radialGradient>
</defs>
<g clip-path="url(#clip0)">
<rect x="1057" y="735" width="251" height="251" fill="#c3c7cf"/>
<rect x="1057" y="735" width="251" height="251" fill="url(#g0_0)"/>
<rect x="1057" y="735" width="251" height="251" fill="url(#g0_1)"/>
<rect x="1057" y="735" width="251" height="251" fill="url(#g0_2)"/>
<rect x="1057" y="735" width="251" height="251" filter="url(#grain2)" opacity="0.5"/>
<rect x="1057" y="735" width="251" height="251" filter="url(#grain)" opacity="0.2"/>
<path d="M1058 994L1050 988L1041 981L1033 974L1025 967L1016 962L1009 953L999 949L990 943L983 934M1197 983L1201 974L1204 964L1208 954L1213 945L1212 934M1276 1003L1270 994L1263 985L1263 973L1259 963L1252 955L1248 945M1248 945L1236 942L1225 934L1212 934M1310 915L1299 919L1289 924L1279 930L1269 936L1258 941L1248 945M1310 915L1305 924L1302 934L1299 944L1297 955L1290 963L1287 973L1283 983L1279 993L1276 1003M983 934L993 937L1004 935L1013 937L1023 942L1033 942L1043 945L1053 947L1063 945M1063 945L1064 933L1069 921L1071 908L1071 896M1060 871L1064 884L1071 896M1197 691L1206 696L1213 704L1223 709L1231 714L1242 714L1252 718L1260 725L1269 728M1271 722L1269 725L1269 728M1269 728L1268 742L1269 756M1271 759L1270 757L1269 756M1310 915L1316 913L1319 907M1016 685L1018 695L1019 705L1025 714L1030 723L1036 731L1037 742L1038 753L1045 761L1048 771L1052 780L1058 789L1066 797L1067 807L1068 818L1075 826L1078 836L1087 843L1083 856M1084 734L1084 745L1088 756L1091 766L1096 776L1096 787L1093 798L1095 809L1099 819L1101 830L1102 841L1103 851M1083 856L1091 855L1099 855M1103 851L1101 853L1099 855M1058 994L1063 997L1068 997M1063 945L1073 950L1083 954M1083 954L1080 965L1077 976L1070 985L1068 997M1071 896L1077 903L1082 912L1090 920L1094 929L1101 937L1109 944M1083 954L1095 947L1109 944M1146 908L1138 916L1133 926L1130 936L1121 943M1146 908L1138 902L1133 892L1127 884L1120 877L1112 870L1103 865L1099 855M1109 944L1115 946L1121 943M1197 691L1198 702L1198 714L1195 724L1195 736M1084 734L1092 741L1101 745L1109 750L1117 757L1126 762L1135 766M1195 736L1185 741L1175 746L1166 753L1154 755L1146 763L1135 766M1319 907L1308 905L1299 898L1290 892L1279 891L1269 889L1257 889L1248 882M1267 833L1261 842L1259 853L1256 862L1251 872L1248 882M1121 943L1125 954L1130 965M1068 997L1072 1008L1080 1017L1086 1027L1090 1038L1098 1048M1130 965L1129 976L1126 987L1121 997L1116 1007L1111 1017L1108 1028L1103 1038L1098 1048M1269 756L1257 755L1246 753L1235 750L1224 752L1213 748M1195 736L1194 738L1196 736M1213 748L1206 739L1196 736M1103 851L1109 841L1118 834L1129 829L1136 819L1145 813M1135 766L1140 780L1143 794M1145 813L1145 803L1143 794M1178 982L1169 979L1159 976L1150 972L1140 969L1131 965M1178 982L1169 990L1158 997L1151 1008M1151 1008L1149 996L1140 987L1139 974L1131 965M1197 983L1187 983L1178 982M1146 908L1157 905L1169 903L1180 902L1192 900M1145 813L1146 814L1148 814M1148 814L1154 823L1157 834L1165 841L1169 852L1174 861L1179 871L1184 880L1187 890L1192 900M1212 934L1206 923L1204 911L1198 901M1248 882L1236 883L1226 887L1215 889L1204 894M1204 894L1201 898L1198 901M1192 900L1194 903L1198 901M1271 759L1267 771L1262 782L1254 792L1248 802M1267 833L1259 829L1255 823M1204 894L1210 883L1210 871L1213 860L1211 847M1255 823L1244 828L1233 835L1221 839L1211 847M1148 814L1161 812L1174 811L1186 817L1198 818M1211 847L1210 836L1202 828L1198 818M1201 814L1211 807L1221 799M1201 814L1198 804L1194 795L1191 785M1192 784L1204 779L1215 785M1192 784L1189 783L1191 785M1215 785L1220 791L1221 799M1248 802L1234 802L1221 799M1198 818L1199 816L1201 814M1143 794L1155 791L1167 789L1178 782L1191 785M1213 748L1212 760L1213 773L1215 785M1196 736L1194 748L1195 760L1196 773L1192 784" fill="none" stroke="#5a6068" stroke-opacity="0.10" stroke-width="3.8" stroke-linejoin="round"/>
<path d="M1058 994L1050 988L1041 981L1033 974L1025 967L1016 962L1009 953L999 949L990 943L983 934M1197 983L1201 974L1204 964L1208 954L1213 945L1212 934M1276 1003L1270 994L1263 985L1263 973L1259 963L1252 955L1248 945M1248 945L1236 942L1225 934L1212 934M1310 915L1299 919L1289 924L1279 930L1269 936L1258 941L1248 945M1310 915L1305 924L1302 934L1299 944L1297 955L1290 963L1287 973L1283 983L1279 993L1276 1003M983 934L993 937L1004 935L1013 937L1023 942L1033 942L1043 945L1053 947L1063 945M1063 945L1064 933L1069 921L1071 908L1071 896M1060 871L1064 884L1071 896M1197 691L1206 696L1213 704L1223 709L1231 714L1242 714L1252 718L1260 725L1269 728M1271 722L1269 725L1269 728M1269 728L1268 742L1269 756M1271 759L1270 757L1269 756M1310 915L1316 913L1319 907M1016 685L1018 695L1019 705L1025 714L1030 723L1036 731L1037 742L1038 753L1045 761L1048 771L1052 780L1058 789L1066 797L1067 807L1068 818L1075 826L1078 836L1087 843L1083 856M1084 734L1084 745L1088 756L1091 766L1096 776L1096 787L1093 798L1095 809L1099 819L1101 830L1102 841L1103 851M1083 856L1091 855L1099 855M1103 851L1101 853L1099 855M1058 994L1063 997L1068 997M1063 945L1073 950L1083 954M1083 954L1080 965L1077 976L1070 985L1068 997M1071 896L1077 903L1082 912L1090 920L1094 929L1101 937L1109 944M1083 954L1095 947L1109 944M1146 908L1138 916L1133 926L1130 936L1121 943M1146 908L1138 902L1133 892L1127 884L1120 877L1112 870L1103 865L1099 855M1109 944L1115 946L1121 943M1197 691L1198 702L1198 714L1195 724L1195 736M1084 734L1092 741L1101 745L1109 750L1117 757L1126 762L1135 766M1195 736L1185 741L1175 746L1166 753L1154 755L1146 763L1135 766M1319 907L1308 905L1299 898L1290 892L1279 891L1269 889L1257 889L1248 882M1267 833L1261 842L1259 853L1256 862L1251 872L1248 882M1121 943L1125 954L1130 965M1068 997L1072 1008L1080 1017L1086 1027L1090 1038L1098 1048M1130 965L1129 976L1126 987L1121 997L1116 1007L1111 1017L1108 1028L1103 1038L1098 1048M1269 756L1257 755L1246 753L1235 750L1224 752L1213 748M1195 736L1194 738L1196 736M1213 748L1206 739L1196 736M1103 851L1109 841L1118 834L1129 829L1136 819L1145 813M1135 766L1140 780L1143 794M1145 813L1145 803L1143 794M1178 982L1169 979L1159 976L1150 972L1140 969L1131 965M1178 982L1169 990L1158 997L1151 1008M1151 1008L1149 996L1140 987L1139 974L1131 965M1197 983L1187 983L1178 982M1146 908L1157 905L1169 903L1180 902L1192 900M1145 813L1146 814L1148 814M1148 814L1154 823L1157 834L1165 841L1169 852L1174 861L1179 871L1184 880L1187 890L1192 900M1212 934L1206 923L1204 911L1198 901M1248 882L1236 883L1226 887L1215 889L1204 894M1204 894L1201 898L1198 901M1192 900L1194 903L1198 901M1271 759L1267 771L1262 782L1254 792L1248 802M1267 833L1259 829L1255 823M1204 894L1210 883L1210 871L1213 860L1211 847M1255 823L1244 828L1233 835L1221 839L1211 847M1148 814L1161 812L1174 811L1186 817L1198 818M1211 847L1210 836L1202 828L1198 818M1201 814L1211 807L1221 799M1201 814L1198 804L1194 795L1191 785M1192 784L1204 779L1215 785M1192 784L1189 783L1191 785M1215 785L1220 791L1221 799M1248 802L1234 802L1221 799M1198 818L1199 816L1201 814M1143 794L1155 791L1167 789L1178 782L1191 785M1213 748L1212 760L1213 773L1215 785M1196 736L1194 748L1195 760L1196 773L1192 784" fill="none" stroke="#4a5058" stroke-opacity="0.30" stroke-width="1.2" stroke-linejoin="round"/>
<path d="M1058 994l-1 -9M1058 994l-4 -11M1058 994l5 0M1197 983l10 1M1197 983l-10 1M1197 983l-1 -10M1276 1003l2 4M1276 1003l6 3M1276 1003l-9 5M1248 945l-6 6M1248 945l7 3M1248 945l1 6M1310 915l-8 -6M1310 915l2 -7M1310 915l-5 12M1310 915l-3 9M1310 915l9 4M1310 915l3 7M983 934l3 8M983 934l-11 -4M983 934l-9 -3M1063 945l-7 6M1063 945l4 3M1063 945l-3 -6M1060 871l-14 -3M1060 871l6 11M1060 871l2 -10M1197 691l-4 -9M1197 691l0 11M1197 691l-2 -9M1271 722l7 -3M1271 722l3 8M1271 722l-10 -1M1269 728l10 8M1269 728l7 9M1269 728l-8 4M1271 759l-9 1M1271 759l-5 2M1271 759l9 1M1310 915l-5 8M1310 915l4 -9M1310 915l4 -11M1016 685l5 5M1016 685l5 1M1016 685l11 7M1084 734l8 -3M1084 734l-3 4M1084 734l-5 2M1083 856l0 -5M1083 856l-6 9M1083 856l8 9M1103 851l-9 -8M1103 851l13 -5M1103 851l-5 9M1058 994l-7 4M1058 994l-5 -8M1058 994l5 -9M1063 945l10 -0M1063 945l-12 2M1063 945l-5 4M1083 954l11 -5M1083 954l7 8M1083 954l2 5M1071 896l9 -6M1071 896l-6 -2M1071 896l8 6M1083 954l8 7M1083 954l8 0M1083 954l-8 4M1146 908l-9 -4M1146 908l4 -11M1146 908l-1 8M1146 908l-5 1M1146 908l-12 5M1146 908l9 3M1109 944l-8 7M1109 944l6 1M1109 944l2 -8M1197 691l-6 -8M1197 691l-5 -13M1197 691l-1 7M1084 734l-1 10M1084 734l-3 -5M1084 734l-6 -9M1195 736l-12 2M1195 736l11 -7M1195 736l-1 6M1319 907l-6 -2M1319 907l12 -0M1319 907l-7 6M1267 833l1 -7M1267 833l10 -6M1267 833l7 -9M1121 943l-10 7M1121 943l-8 7M1121 943l4 6M1068 997l6 -5M1068 997l3 -11M1068 997l10 8M1130 965l-8 6M1130 965l-7 -8M1130 965l-11 6M1269 756l0 -5M1269 756l-5 11M1269 756l-3 -5M1195 736l2 -5M1195 736l4 6M1195 736l-9 6M1213 748l6 10M1213 748l-1 -14M1213 748l-0 -9M1103 851l12 -7M1103 851l-6 8M1103 851l-4 -6M1135 766l-11 -3M1135 766l-11 8M1135 766l7 -2M1145 813l-3 11M1145 813l-3 5M1145 813l13 -4M1178 982l6 -2M1178 982l6 2M1178 982l-0 10M1178 982l2 -12M1178 982l-0 -12M1178 982l-10 7M1151 1008l4 4M1151 1008l-3 14M1151 1008l7 8M1197 983l5 -5M1197 983l1 9M1197 983l-2 6M1146 908l-11 2M1146 908l10 -7M1146 908l-10 -9M1145 813l10 6M1145 813l0 -11M1145 813l-8 -11M1148 814l1 9M1148 814l3 -5M1148 814l-10 -3M1212 934l5 -3M1212 934l-10 6M1212 934l12 -2M1248 882l-2 11M1248 882l6 3M1248 882l10 3M1204 894l5 7M1204 894l-8 3M1204 894l11 -1M1192 900l-9 -1M1192 900l-3 -9M1192 900l-5 3M1271 759l6 -4M1271 759l-9 2M1271 759l3 5M1267 833l-4 7M1267 833l-1 -9M1267 833l-8 -9M1204 894l3 -9M1204 894l2 -10M1204 894l4 13M1255 823l-9 -2M1255 823l1 -8M1255 823l5 -10M1148 814l-1 -8M1148 814l-4 5M1148 814l7 2M1211 847l-11 -8M1211 847l1 -5M1211 847l-10 -1M1201 814l3 -7M1201 814l-7 1M1201 814l6 -12M1201 814l2 11M1201 814l-6 2M1201 814l-5 5M1192 784l4 -8M1192 784l-5 -4M1192 784l3 -5M1192 784l9 5M1192 784l-6 -6M1192 784l5 -7M1215 785l-3 -12M1215 785l3 9M1215 785l6 8M1248 802l-2 5M1248 802l9 8M1248 802l6 7M1198 818l5 6M1198 818l-2 -6M1198 818l-10 6M1143 794l-13 -3M1143 794l1 -9M1143 794l-6 -8M1213 748l-3 7M1213 748l4 -11M1213 748l12 -5M1196 736l6 -10M1196 736l-6 1M1196 736l3 -9" fill="none" stroke="#4a5058" stroke-opacity="0.18" stroke-width="1"/>
<path d="M1007 949h0M1001 953h0M1012 963h0M1033 975h0M1027 974h0M985 932h0M1043 984h0M1026 967h0M997 943h0M1046 980h0M1056 989h0M1028 967h0M1041 979h0M995 939h0M1015 950h0M998 943h0M1206 956h0M1201 968h0M1214 944h0M1214 952h0M1205 972h0M1206 946h0M1201 958h0M1203 954h0M1275 983h0M1247 950h0M1268 987h0M1276 987h0M1266 960h0M1257 965h0M1264 974h0M1251 956h0M1264 985h0M1271 990h0M1229 939h0M1217 935h0M1236 941h0M1243 948h0M1230 944h0M1235 944h0M1283 931h0M1287 927h0M1303 920h0M1291 917h0M1253 941h0M1278 932h0M1267 942h0M1288 925h0M1266 938h0M1280 922h0M1251 946h0M1296 939h0M1296 950h0M1272 999h0M1301 929h0M1298 951h0M1299 933h0M1306 936h0M1306 922h0M1281 990h0M1302 931h0M1298 931h0M1286 967h0M1280 987h0M1309 924h0M1295 958h0M1033 936h0M1024 934h0M985 929h0M1007 935h0M1006 936h0M1006 936h0M1048 944h0M1016 940h0M1025 931h0M1044 943h0M1005 937h0M988 938h0M1051 944h0M1067 932h0M1070 934h0M1061 946h0M1071 929h0M1071 938h0M1067 932h0M1067 941h0M1070 902h0M1065 883h0M1054 876h0M1063 871h0M1068 875h0M1260 726h0M1267 723h0M1234 709h0M1249 711h0M1269 725h0M1206 696h0M1215 699h0M1237 706h0M1237 712h0M1257 719h0M1223 708h0M1221 705h0M1229 708h0M1266 730h0M1270 731h0M1270 740h0M1269 756h0M1263 732h0M1307 912h0M1318 909h0M1074 830h0M1075 842h0M1038 742h0M1022 681h0M1023 705h0M1058 784h0M1071 818h0M1024 709h0M1061 812h0M1067 813h0M1049 782h0M1046 771h0M1023 701h0M1017 695h0M1047 774h0M1077 857h0M1052 783h0M1073 829h0M1027 702h0M1036 739h0M1040 743h0M1044 756h0M1056 765h0M1044 749h0M1024 722h0M1060 814h0M1042 749h0M1054 776h0M1058 784h0M1073 816h0M1099 836h0M1090 737h0M1097 785h0M1100 844h0M1095 826h0M1088 794h0M1096 850h0M1097 799h0M1095 801h0M1095 771h0M1094 786h0M1094 764h0M1081 740h0M1099 825h0M1096 791h0M1087 783h0M1085 744h0M1088 781h0M1103 850h0M1091 859h0M1096 854h0M1064 988h0M1079 950h0M1081 948h0M1072 945h0M1071 979h0M1078 980h0M1082 955h0M1070 996h0M1080 982h0M1080 976h0M1074 979h0M1077 907h0M1096 924h0M1105 941h0M1100 935h0M1089 915h0M1090 927h0M1091 927h0M1092 916h0M1090 919h0M1074 904h0M1102 951h0M1103 940h0M1099 937h0M1106 945h0M1124 934h0M1126 942h0M1129 937h0M1119 941h0M1118 945h0M1138 928h0M1141 914h0M1118 871h0M1111 877h0M1109 871h0M1149 909h0M1123 896h0M1099 853h0M1112 866h0M1122 882h0M1124 877h0M1145 910h0M1121 869h0M1114 948h0M1122 944h0M1196 728h0M1198 727h0M1198 719h0M1198 696h0M1199 731h0M1195 691h0M1197 704h0M1107 749h0M1116 754h0M1118 762h0M1097 746h0M1110 744h0M1120 758h0M1097 741h0M1135 765h0M1095 739h0M1098 747h0M1186 747h0M1153 752h0M1170 745h0M1178 744h0M1192 740h0M1165 748h0M1167 750h0M1191 746h0M1157 755h0M1150 762h0M1137 768h0M1271 891h0M1295 898h0M1306 894h0M1279 891h0M1260 884h0M1303 901h0M1297 897h0M1295 899h0M1252 886h0M1256 886h0M1313 905h0M1264 882h0M1247 876h0M1259 859h0M1261 855h0M1261 834h0M1249 886h0M1266 830h0M1255 875h0M1257 854h0M1122 944h0M1126 950h0M1122 951h0M1083 1017h0M1102 1051h0M1075 1013h0M1083 1008h0M1084 1021h0M1090 1031h0M1080 1015h0M1089 1033h0M1091 1034h0M1108 1028h0M1124 982h0M1106 1014h0M1115 1012h0M1114 1017h0M1099 1041h0M1116 999h0M1129 969h0M1122 977h0M1118 1002h0M1127 975h0M1105 1020h0M1130 975h0M1098 1039h0M1216 748h0M1229 748h0M1261 758h0M1252 748h0M1238 747h0M1236 755h0M1215 745h0M1238 753h0M1246 752h0M1215 745h0M1206 745h0M1212 744h0M1124 833h0M1129 828h0M1114 842h0M1119 833h0M1113 841h0M1133 834h0M1137 829h0M1134 826h0M1143 815h0M1137 778h0M1128 764h0M1137 786h0M1134 767h0M1143 809h0M1144 793h0M1144 794h0M1156 974h0M1160 969h0M1163 973h0M1169 982h0M1150 969h0M1167 978h0M1134 959h0M1171 986h0M1159 991h0M1155 1007h0M1150 1000h0M1179 984h0M1178 980h0M1155 1005h0M1127 980h0M1140 978h0M1145 987h0M1149 995h0M1147 1001h0M1127 978h0M1146 1006h0M1182 986h0M1181 983h0M1187 987h0M1147 917h0M1143 900h0M1172 901h0M1156 901h0M1190 903h0M1163 913h0M1144 902h0M1174 870h0M1163 845h0M1177 877h0M1188 889h0M1163 858h0M1190 884h0M1153 835h0M1160 835h0M1157 829h0M1184 901h0M1169 853h0M1178 870h0M1183 884h0M1151 826h0M1177 876h0M1209 916h0M1205 926h0M1205 924h0M1203 916h0M1209 925h0M1206 926h0M1241 886h0M1247 884h0M1225 885h0M1208 891h0M1222 891h0M1230 890h0M1204 893h0M1202 896h0M1193 900h0M1254 786h0M1251 799h0M1254 794h0M1252 781h0M1253 794h0M1273 758h0M1252 785h0M1271 768h0M1264 829h0M1260 830h0M1212 862h0M1204 888h0M1202 882h0M1211 900h0M1205 882h0M1206 878h0M1207 885h0M1225 848h0M1226 838h0M1207 841h0M1246 832h0M1251 829h0M1249 832h0M1249 821h0M1225 838h0M1155 814h0M1159 817h0M1152 820h0M1167 817h0M1179 820h0M1190 819h0M1176 819h0M1191 818h0M1205 828h0M1211 845h0M1201 833h0M1215 846h0M1209 838h0M1209 812h0M1205 810h0M1211 808h0M1207 809h0M1193 783h0M1192 796h0M1191 795h0M1201 804h0M1194 797h0M1204 779h0M1191 781h0M1199 779h0M1223 794h0M1218 790h0M1230 805h0M1240 799h0M1240 796h0M1223 800h0M1150 794h0M1148 793h0M1195 784h0M1176 789h0M1163 792h0M1144 787h0M1155 792h0M1164 791h0M1206 780h0M1206 756h0M1212 757h0M1215 771h0M1217 784h0M1211 766h0M1192 756h0M1196 775h0M1199 755h0M1192 740h0M1195 774h0M1202 744h0M1192 755h0M1191 757h0M1115 742h0M1090 758h0M1179 817h0M1253 878h0M1239 852h0M1191 941h0M1289 742h0M1244 775h0M1220 881h0M1099 903h0M1133 926h0M1276 851h0M1073 918h0M1273 812h0M1245 909h0M1150 782h0M1143 805h0M1235 878h0M1244 973h0M1267 925h0M1188 904h0M1145 852h0M1090 800h0M1195 782h0M1286 844h0M1212 824h0M1217 977h0M1195 814h0M1307 982h0M1204 770h0M1070 783h0M1210 852h0M1216 880h0M1211 849h0M1057 850h0M1276 893h0M1118 816h0M1152 798h0M1074 965h0M1266 796h0M1231 764h0M1100 861h0M1250 744h0M1284 790h0M1107 961h0M1110 800h0M1299 774h0M1112 808h0M1172 847h0M1121 860h0M1117 859h0M1211 949h0M1073 815h0M1200 963h0M1076 897h0M1172 853h0M1067 832h0M1129 850h0M1127 955h0M1252 963h0M1132 876h0M1211 757h0M1095 844h0M1182 760h0M1163 745h0M1090 920h0M1226 950h0M1247 918h0M1205 763h0M1236 772h0M1232 979h0M1271 964h0M1142 868h0M1185 892h0M1306 757h0M1154 860h0M1201 790h0M1184 966h0M1120 755h0M1185 888h0M1294 937h0M1184 920h0M1117 967h0M1306 815h0M1263 785h0M1084 900h0M1308 879h0M1238 814h0M1293 763h0M1119 932h0M1291 954h0M1242 790h0M1144 879h0M1212 869h0M1243 792h0M1136 741h0M1064 916h0M1175 782h0M1077 868h0M1304 962h0M1243 939h0M1138 762h0M1162 983h0M1146 967h0M1224 934h0M1124 824h0M1101 858h0M1085 960h0M1122 800h0M1069 948h0M1112 793h0M1248 859h0M1127 947h0M1062 945h0M1235 919h0M1115 861h0M1209 753h0M1293 885h0M1083 861h0M1295 967h0M1207 790h0M1217 835h0M1193 937h0M1240 853h0M1294 926h0M1126 961h0M1070 753h0M1239 848h0M1236 745h0M1070 860h0M1120 874h0M1179 859h0M1291 773h0M1238 894h0M1215 795h0M1260 966h0M1271 885h0M1297 950h0M1175 892h0M1307 745h0M1284 823h0M1244 863h0M1093 759h0M1260 978h0M1274 908h0M1127 929h0M1308 935h0M1263 778h0M1225 936h0M1279 950h0M1187 765h0M1098 982h0M1147 769h0M1207 964h0M1069 742h0M1103 875h0M1156 752h0M1172 918h0M1101 852h0M1074 955h0M1186 883h0M1219 919h0M1105 922h0M1190 814h0M1216 820h0M1127 880h0M1127 983h0M1198 842h0M1146 745h0M1144 936h0M1108 845h0M1213 847h0M1179 838h0M1217 889h0M1179 950h0M1149 924h0M1141 763h0M1172 769h0M1292 968h0M1090 941h0M1078 833h0M1122 756h0M1085 976h0M1081 976h0M1116 891h0M1067 929h0M1063 921h0M1083 895h0M1159 982h0M1092 779h0M1254 961h0M1062 831h0M1071 833h0M1087 965h0M1248 965h0M1217 760h0M1078 834h0M1059 746h0M1204 904h0M1196 882h0M1147 830h0M1213 884h0M1137 910h0M1095 929h0M1101 965h0M1177 827h0M1193 971h0M1307 751h0M1261 913h0M1218 762h0M1145 783h0M1213 772h0M1116 966h0M1133 742h0M1277 876h0M1089 903h0M1270 740h0M1226 800h0M1106 752h0M1251 815h0" stroke="#4f555c" stroke-opacity="0.30" stroke-width="2.2" stroke-linecap="round"/>
</g>
<rect x="1284" y="976" width="21" height="3.4" fill="#000"/>
<text x="1069.0" y="727.5" font-size="26.5">D1_iEC_vehicle</text>
<g clip-path="url(#clip1)">
<rect x="1363" y="735" width="251" height="251" fill="#c3c7ce"/>
<rect x="1363" y="735" width="251" height="251" fill="url(#g1_0)"/>
<rect x="1363" y="735" width="251" height="251" fill="url(#g1_1)"/>
<rect x="1363" y="735" width="251" height="251" fill="url(#g1_2)"/>
<rect x="1363" y="735" width="251" height="251" filter="url(#grain2)" opacity="0.5"/>
<rect x="1363" y="735" width="251" height="251" filter="url(#grain)" opacity="0.2"/>
<path d="M1333 950L1343 944L1355 944L1362 935L1372 932L1382 926L1392 922L1399 914M1399 914L1401 903L1400 892L1405 882L1401 871M1385 857L1393 864L1401 871M1544 924L1537 933L1530 943L1517 947L1514 960M1544 924L1555 927L1567 928L1578 932L1588 936M1377 986L1379 983L1380 986M1333 950L1341 959L1350 966L1360 970L1370 977L1377 986M1468 980L1457 977L1446 981L1435 982L1424 980L1413 982L1402 982L1391 989L1380 986M1398 731L1396 743L1389 754L1385 766L1386 779M1374 835L1379 824L1384 814L1393 805L1400 796M1400 796L1395 786L1386 779M1385 857L1378 847L1374 835M1398 731L1400 728L1403 726M1414 793L1411 796L1406 797M1406 797L1413 805L1418 814L1427 820L1429 832M1441 812L1433 821L1429 832M1401 871L1412 864L1423 858L1434 850M1400 796L1403 798L1406 797M1434 850L1433 841L1429 832M1453 796L1462 804L1466 815L1468 826L1475 835L1482 844M1453 796L1449 806L1441 812M1399 914L1409 919L1421 921L1430 928L1440 934L1451 936L1460 943M1450 851L1452 861L1450 872L1453 882L1452 892L1456 902L1458 913L1458 923L1458 933L1460 943M1470 970L1467 956L1460 944M1470 970L1481 967L1492 962L1503 961L1514 960M1544 924L1539 916L1537 906M1537 906L1528 901L1519 897L1510 893L1503 885M1503 885L1497 893L1491 901L1486 911L1479 918L1471 926L1464 934L1460 944M1470 970L1473 976L1468 980M1460 943L1461 943L1460 944M1588 936L1586 922L1576 910M1537 906L1544 899L1552 891L1561 886M1576 910L1569 899L1561 886M1434 781L1428 773L1426 763L1423 753L1419 744M1434 781L1443 783L1451 783M1471 768L1467 762L1467 755M1414 793L1423 785L1434 781M1403 726L1411 735L1419 744M1453 796L1452 790L1451 783M1482 844L1491 842L1498 846M1478 770L1486 779L1491 790L1500 798M1478 770L1475 767L1471 768M1500 798L1501 810L1497 822L1497 834L1498 846M1503 885L1507 873L1507 861L1502 849M1498 846L1501 847L1502 849M1566 741L1575 747L1585 752L1596 753L1607 754L1617 757L1626 762L1636 767L1644 775L1656 775L1666 777M1566 741L1565 730L1560 719M1669 777L1667 778L1666 777M1478 770L1487 764L1495 756L1506 753L1514 746L1524 741L1532 735L1540 727L1551 724L1560 719M1500 798L1509 792L1519 789L1527 782L1536 775L1543 767L1554 766L1564 761M1576 814L1581 816L1584 819M1584 819L1592 827L1601 834L1605 844L1611 853L1617 863M1533 843L1538 851L1540 862L1548 869L1554 877L1563 883M1563 883L1574 882L1583 876M1583 876L1594 871L1606 868L1617 863M1502 849L1513 850L1524 849L1533 843M1564 761L1567 772L1567 783L1570 793L1572 804L1576 814M1666 777L1656 781L1646 784L1638 790L1630 797L1621 802L1611 804L1604 812L1594 816L1584 819M1561 886L1561 884L1563 883M1576 910L1578 899L1580 887L1583 876" fill="none" stroke="#5a6068" stroke-opacity="0.10" stroke-width="3.8" stroke-linejoin="round"/>
<path d="M1333 950L1343 944L1355 944L1362 935L1372 932L1382 926L1392 922L1399 914M1399 914L1401 903L1400 892L1405 882L1401 871M1385 857L1393 864L1401 871M1544 924L1537 933L1530 943L1517 947L1514 960M1544 924L1555 927L1567 928L1578 932L1588 936M1377 986L1379 983L1380 986M1333 950L1341 959L1350 966L1360 970L1370 977L1377 986M1468 980L1457 977L1446 981L1435 982L1424 980L1413 982L1402 982L1391 989L1380 986M1398 731L1396 743L1389 754L1385 766L1386 779M1374 835L1379 824L1384 814L1393 805L1400 796M1400 796L1395 786L1386 779M1385 857L1378 847L1374 835M1398 731L1400 728L1403 726M1414 793L1411 796L1406 797M1406 797L1413 805L1418 814L1427 820L1429 832M1441 812L1433 821L1429 832M1401 871L1412 864L1423 858L1434 850M1400 796L1403 798L1406 797M1434 850L1433 841L1429 832M1453 796L1462 804L1466 815L1468 826L1475 835L1482 844M1453 796L1449 806L1441 812M1399 914L1409 919L1421 921L1430 928L1440 934L1451 936L1460 943M1450 851L1452 861L1450 872L1453 882L1452 892L1456 902L1458 913L1458 923L1458 933L1460 943M1470 970L1467 956L1460 944M1470 970L1481 967L1492 962L1503 961L1514 960M1544 924L1539 916L1537 906M1537 906L1528 901L1519 897L1510 893L1503 885M1503 885L1497 893L1491 901L1486 911L1479 918L1471 926L1464 934L1460 944M1470 970L1473 976L1468 980M1460 943L1461 943L1460 944M1588 936L1586 922L1576 910M1537 906L1544 899L1552 891L1561 886M1576 910L1569 899L1561 886M1434 781L1428 773L1426 763L1423 753L1419 744M1434 781L1443 783L1451 783M1471 768L1467 762L1467 755M1414 793L1423 785L1434 781M1403 726L1411 735L1419 744M1453 796L1452 790L1451 783M1482 844L1491 842L1498 846M1478 770L1486 779L1491 790L1500 798M1478 770L1475 767L1471 768M1500 798L1501 810L1497 822L1497 834L1498 846M1503 885L1507 873L1507 861L1502 849M1498 846L1501 847L1502 849M1566 741L1575 747L1585 752L1596 753L1607 754L1617 757L1626 762L1636 767L1644 775L1656 775L1666 777M1566 741L1565 730L1560 719M1669 777L1667 778L1666 777M1478 770L1487 764L1495 756L1506 753L1514 746L1524 741L1532 735L1540 727L1551 724L1560 719M1500 798L1509 792L1519 789L1527 782L1536 775L1543 767L1554 766L1564 761M1576 814L1581 816L1584 819M1584 819L1592 827L1601 834L1605 844L1611 853L1617 863M1533 843L1538 851L1540 862L1548 869L1554 877L1563 883M1563 883L1574 882L1583 876M1583 876L1594 871L1606 868L1617 863M1502 849L1513 850L1524 849L1533 843M1564 761L1567 772L1567 783L1570 793L1572 804L1576 814M1666 777L1656 781L1646 784L1638 790L1630 797L1621 802L1611 804L1604 812L1594 816L1584 819M1561 886L1561 884L1563 883M1576 910L1578 899L1580 887L1583 876" fill="none" stroke="#4a5058" stroke-opacity="0.30" stroke-width="1.2" stroke-linejoin="round"/>
<path d="M1333 950l-3 12M1333 950l4 -9M1333 950l-10 -3M1399 914l-3 -13M1399 914l-14 1M1399 914l-3 8M1385 857l12 1M1385 857l3 -4M1385 857l4 -12M1544 924l-8 -3M1544 924l-5 1M1544 924l-11 -1M1544 924l5 -2M1544 924l-4 -12M1544 924l-13 2M1377 986l5 -13M1377 986l4 9M1377 986l-6 -6M1333 950l-6 2M1333 950l9 -2M1333 950l6 -6M1468 980l2 -9M1468 980l5 2M1468 980l10 8M1398 731l-6 4M1398 731l6 8M1398 731l7 -2M1374 835l-3 12M1374 835l5 -9M1374 835l2 -5M1400 796l-5 8M1400 796l-4 5M1400 796l-5 -10M1385 857l-3 5M1385 857l8 -3M1385 857l8 5M1398 731l-4 12M1398 731l-10 1M1398 731l4 -6M1414 793l-11 -5M1414 793l12 5M1414 793l12 -4M1406 797l5 6M1406 797l-5 6M1406 797l10 1M1441 812l7 -1M1441 812l-7 -10M1441 812l-11 -1M1401 871l2 10M1401 871l-6 12M1401 871l12 -5M1400 796l-6 -4M1400 796l2 7M1400 796l8 3M1434 850l-7 6M1434 850l5 8M1434 850l4 10M1453 796l-8 6M1453 796l-6 -3M1453 796l4 -12M1453 796l-0 6M1453 796l8 -3M1453 796l8 10M1399 914l-11 -2M1399 914l5 -4M1399 914l5 2M1450 851l-0 13M1450 851l-8 9M1450 851l5 -6M1470 970l-8 2M1470 970l-2 -13M1470 970l-9 9M1470 970l10 2M1470 970l6 -12M1470 970l4 4M1544 924l-2 6M1544 924l2 -7M1544 924l-12 6M1537 906l-7 6M1537 906l5 10M1537 906l-2 -6M1503 885l-12 6M1503 885l-7 -2M1503 885l-8 -1M1470 970l11 8M1470 970l6 8M1470 970l5 -7M1460 943l-8 -0M1460 943l-8 7M1460 943l-3 -12M1588 936l3 -7M1588 936l-1 -10M1588 936l1 -5M1537 906l5 -8M1537 906l-2 -6M1537 906l-10 -4M1576 910l-5 10M1576 910l-9 1M1576 910l-5 -3M1434 781l6 1M1434 781l10 0M1434 781l0 11M1434 781l-5 1M1434 781l-11 -1M1434 781l13 2M1471 768l-3 -7M1471 768l6 -2M1471 768l6 4M1414 793l7 6M1414 793l6 3M1414 793l-4 11M1403 726l-7 6M1403 726l5 10M1403 726l5 -5M1453 796l-3 6M1453 796l-4 -5M1453 796l1 8M1482 844l-13 -1M1482 844l6 -5M1482 844l-7 4M1478 770l-5 -1M1478 770l-13 1M1478 770l-4 -12M1478 770l-5 -13M1478 770l13 -4M1478 770l-12 -2M1500 798l8 -6M1500 798l6 8M1500 798l8 -4M1503 885l1 -8M1503 885l-7 3M1503 885l2 7M1498 846l7 1M1498 846l-10 0M1498 846l-6 -8M1566 741l-5 2M1566 741l-6 -1M1566 741l6 -6M1566 741l-1 7M1566 741l1 5M1566 741l-6 -10M1669 777l-5 -12M1669 777l8 5M1669 777l8 8M1478 770l-0 7M1478 770l-7 -1M1478 770l6 -8M1500 798l5 -10M1500 798l-5 -4M1500 798l4 -5M1576 814l5 4M1576 814l8 7M1576 814l0 -12M1584 819l-2 -5M1584 819l-5 1M1584 819l-7 -6M1533 843l-3 -5M1533 843l9 -7M1533 843l-2 6M1563 883l6 -7M1563 883l-3 -7M1563 883l-6 10M1583 876l-1 -10M1583 876l2 -9M1583 876l-10 -2M1502 849l-4 -8M1502 849l-5 7M1502 849l7 9M1564 761l9 0M1564 761l1 -11M1564 761l9 5M1666 777l-9 1M1666 777l6 2M1666 777l-4 4M1561 886l3 8M1561 886l0 -5M1561 886l3 5M1576 910l6 6M1576 910l-0 -8M1576 910l-9 -3" fill="none" stroke="#4a5058" stroke-opacity="0.18" stroke-width="1"/>
<path d="M1337 942h0M1373 923h0M1340 951h0M1394 913h0M1337 951h0M1363 932h0M1370 928h0M1395 915h0M1356 930h0M1355 936h0M1370 925h0M1392 914h0M1400 881h0M1399 896h0M1400 910h0M1400 876h0M1401 896h0M1407 872h0M1398 886h0M1404 867h0M1399 872h0M1396 865h0M1521 963h0M1513 956h0M1528 942h0M1521 951h0M1531 938h0M1540 924h0M1549 928h0M1550 924h0M1583 929h0M1547 927h0M1547 927h0M1574 931h0M1582 934h0M1575 925h0M1370 978h0M1370 987h0M1362 972h0M1368 982h0M1349 970h0M1344 957h0M1373 980h0M1368 974h0M1358 968h0M1462 980h0M1434 984h0M1401 988h0M1430 982h0M1436 979h0M1450 973h0M1405 986h0M1395 985h0M1420 986h0M1462 982h0M1460 986h0M1403 984h0M1450 982h0M1387 987h0M1386 770h0M1394 734h0M1390 765h0M1400 750h0M1391 757h0M1396 739h0M1391 771h0M1392 758h0M1388 805h0M1373 828h0M1385 825h0M1388 811h0M1385 827h0M1401 796h0M1399 797h0M1402 790h0M1391 780h0M1401 793h0M1376 841h0M1385 852h0M1385 846h0M1385 853h0M1403 727h0M1409 794h0M1429 819h0M1409 809h0M1428 819h0M1409 809h0M1415 805h0M1423 820h0M1413 805h0M1435 826h0M1435 826h0M1437 825h0M1401 873h0M1401 869h0M1417 852h0M1407 863h0M1414 858h0M1413 866h0M1432 845h0M1430 840h0M1432 838h0M1459 805h0M1473 827h0M1470 830h0M1466 827h0M1457 803h0M1463 819h0M1461 821h0M1456 800h0M1459 808h0M1450 806h0M1454 804h0M1441 806h0M1409 917h0M1401 919h0M1432 936h0M1415 921h0M1414 919h0M1396 916h0M1419 922h0M1410 918h0M1429 935h0M1411 918h0M1436 925h0M1455 933h0M1455 884h0M1451 903h0M1457 889h0M1459 892h0M1465 938h0M1462 941h0M1453 920h0M1452 897h0M1455 883h0M1448 861h0M1462 935h0M1448 861h0M1454 872h0M1455 928h0M1473 964h0M1468 965h0M1472 954h0M1471 960h0M1510 956h0M1492 965h0M1483 969h0M1508 955h0M1472 961h0M1503 968h0M1479 970h0M1544 901h0M1541 914h0M1537 922h0M1519 892h0M1523 891h0M1538 911h0M1499 889h0M1517 895h0M1513 889h0M1465 937h0M1492 892h0M1486 905h0M1485 907h0M1470 946h0M1474 928h0M1504 886h0M1490 895h0M1471 937h0M1477 928h0M1463 945h0M1480 906h0M1473 965h0M1577 907h0M1579 920h0M1582 923h0M1574 905h0M1548 893h0M1539 909h0M1559 893h0M1548 896h0M1537 905h0M1563 892h0M1571 879h0M1571 907h0M1571 894h0M1429 771h0M1422 746h0M1439 779h0M1437 777h0M1434 778h0M1420 745h0M1446 781h0M1442 780h0M1472 761h0M1470 765h0M1430 779h0M1423 791h0M1427 786h0M1412 739h0M1415 739h0M1403 733h0M1456 792h0M1446 796h0M1490 847h0M1484 839h0M1488 784h0M1486 784h0M1480 777h0M1488 788h0M1503 800h0M1480 774h0M1474 771h0M1500 821h0M1502 805h0M1504 800h0M1499 836h0M1495 845h0M1503 835h0M1494 837h0M1503 881h0M1501 852h0M1506 878h0M1500 861h0M1504 865h0M1607 760h0M1571 743h0M1608 758h0M1658 777h0M1658 776h0M1659 773h0M1597 754h0M1592 749h0M1650 769h0M1610 763h0M1623 765h0M1639 766h0M1628 767h0M1594 759h0M1591 747h0M1579 750h0M1656 773h0M1559 731h0M1558 723h0M1568 739h0M1530 733h0M1512 755h0M1542 738h0M1558 723h0M1524 745h0M1480 766h0M1536 738h0M1546 728h0M1544 728h0M1548 727h0M1556 715h0M1527 750h0M1549 725h0M1514 747h0M1555 724h0M1537 735h0M1508 790h0M1527 779h0M1523 787h0M1530 785h0M1517 794h0M1557 769h0M1517 781h0M1550 777h0M1556 762h0M1564 766h0M1557 761h0M1502 801h0M1577 808h0M1596 826h0M1602 834h0M1590 818h0M1597 836h0M1610 860h0M1611 862h0M1592 832h0M1591 823h0M1550 868h0M1553 867h0M1555 873h0M1549 869h0M1558 880h0M1548 866h0M1554 871h0M1550 873h0M1565 883h0M1568 883h0M1570 878h0M1591 869h0M1596 867h0M1614 866h0M1588 875h0M1611 869h0M1608 865h0M1501 844h0M1513 851h0M1523 849h0M1522 846h0M1518 843h0M1565 774h0M1568 786h0M1568 795h0M1572 777h0M1580 812h0M1573 774h0M1569 777h0M1567 777h0M1576 813h0M1665 772h0M1626 792h0M1653 786h0M1595 806h0M1644 789h0M1665 781h0M1664 782h0M1647 790h0M1592 808h0M1603 807h0M1640 790h0M1592 816h0M1657 779h0M1616 805h0M1635 788h0M1573 882h0M1584 879h0M1580 893h0M1580 893h0M1583 890h0M1571 881h0M1406 789h0M1430 939h0M1537 957h0M1536 862h0M1487 977h0M1491 871h0M1561 768h0M1438 934h0M1408 783h0M1416 971h0M1611 768h0M1461 817h0M1440 803h0M1519 913h0M1392 735h0M1407 880h0M1543 954h0M1483 744h0M1503 949h0M1481 984h0M1582 799h0M1590 769h0M1547 783h0M1383 788h0M1514 976h0M1419 927h0M1458 764h0M1570 819h0M1381 858h0M1519 927h0M1569 829h0M1595 924h0M1444 758h0M1526 795h0M1507 935h0M1411 843h0M1456 873h0M1468 815h0M1526 857h0M1562 770h0M1603 761h0M1404 937h0M1549 948h0M1538 824h0M1515 805h0M1523 900h0M1469 868h0M1480 966h0M1514 836h0M1426 945h0M1367 829h0M1431 824h0M1526 933h0M1552 768h0M1411 814h0M1555 983h0M1374 938h0M1559 884h0M1608 892h0M1533 884h0M1379 853h0M1432 785h0M1422 741h0M1494 945h0M1538 825h0M1482 983h0M1458 947h0M1462 760h0M1508 817h0M1421 894h0M1568 908h0M1603 764h0M1383 978h0M1523 851h0M1549 889h0M1494 854h0M1381 796h0M1482 970h0M1500 895h0M1371 755h0M1395 969h0M1467 943h0M1612 976h0M1613 968h0M1398 841h0M1530 815h0M1402 807h0M1386 754h0M1481 740h0M1434 971h0M1508 870h0M1579 780h0M1464 985h0M1376 860h0M1521 832h0M1532 747h0M1568 832h0M1495 811h0M1478 747h0M1382 837h0M1573 979h0M1369 860h0M1520 827h0M1422 940h0M1478 875h0M1430 960h0M1401 762h0M1457 985h0M1500 757h0M1427 970h0M1391 803h0M1454 870h0M1442 852h0M1467 784h0M1371 788h0M1434 889h0M1591 787h0M1370 929h0M1391 827h0M1504 779h0M1438 802h0M1472 799h0M1548 882h0M1551 983h0M1379 769h0M1425 821h0M1379 859h0M1416 912h0M1425 822h0M1418 774h0M1405 948h0M1551 969h0M1517 779h0M1447 747h0M1551 745h0M1433 866h0M1542 826h0M1434 958h0M1468 961h0M1400 794h0M1454 837h0M1390 884h0M1498 855h0M1475 775h0M1384 757h0M1512 803h0M1397 968h0M1580 964h0M1605 934h0M1589 951h0M1487 855h0M1405 864h0M1498 751h0M1550 750h0M1484 914h0M1376 753h0M1566 845h0M1608 947h0M1466 881h0M1366 867h0M1610 735h0M1428 749h0M1373 931h0M1503 803h0M1576 816h0M1556 745h0M1589 833h0M1537 776h0M1471 951h0M1398 976h0M1564 871h0M1560 982h0M1551 900h0M1433 967h0M1475 922h0M1378 849h0M1418 795h0M1410 807h0M1599 934h0M1510 894h0M1448 866h0M1435 847h0M1489 768h0M1614 786h0M1444 797h0M1487 939h0M1560 764h0M1572 813h0M1559 784h0M1467 778h0M1439 822h0M1549 877h0M1498 915h0M1435 967h0M1523 860h0M1437 953h0M1419 943h0M1493 887h0M1592 808h0M1485 761h0M1499 922h0M1395 923h0M1442 804h0M1543 915h0M1388 928h0M1406 971h0M1397 921h0M1420 872h0M1511 856h0M1484 959h0M1476 895h0M1425 783h0M1607 810h0M1541 802h0M1533 971h0M1415 748h0M1599 869h0M1513 926h0M1574 898h0" stroke="#4f555c" stroke-opacity="0.30" stroke-width="2.2" stroke-linecap="round"/>
<path d="M1566 940L1569 936L1571 933L1576 932L1576 926M1573 837L1579 843L1585 849L1590 855L1588 865M1580 952L1577 951L1575 945L1569 948L1567 943M1607 823L1607 817L1602 813L1601 808L1599 803M1558 830L1551 827L1545 824L1539 820L1531 820M1605 889L1609 885L1612 880L1610 875L1610 870M1589 842L1588 842L1586 841L1585 841L1584 843M1576 854L1581 850L1586 846L1590 841L1595 837M1564 851L1562 851L1561 859L1558 857L1555 853M1599 958L1606 961L1611 959L1617 956L1622 954M1569 939L1572 935L1571 929L1575 925L1577 920M1605 873L1608 872L1611 871L1611 866L1614 865M1571 842L1566 844L1560 842L1553 840L1548 845M1609 949L1610 955L1617 956L1622 959L1624 964" fill="none" stroke="#e4e7eb" stroke-opacity="0.45" stroke-width="1.2"/>
</g>
<rect x="1590" y="976" width="21" height="3.4" fill="#000"/>
<text x="1368.5" y="727.5" font-size="26.5">D2_iEC_vehicle</text>
<g clip-path="url(#clip2)">
<rect x="1669" y="735" width="251" height="251" fill="#bbbfc5"/>
<rect x="1669" y="735" width="251" height="251" fill="url(#g2_0)"/>
<rect x="1669" y="735" width="251" height="251" fill="url(#g2_1)"/>
<rect x="1669" y="735" width="251" height="251" fill="url(#g2_2)"/>
<rect x="1669" y="735" width="251" height="251" fill="url(#g2_3)"/>
<rect x="1669" y="735" width="251" height="251" filter="url(#grain2)" opacity="0.5"/>
<rect x="1669" y="735" width="251" height="251" filter="url(#grain)" opacity="0.2"/>
<path d="M1680 888L1684 877L1686 865L1685 853L1689 841L1693 830M1911 760L1901 756L1891 755L1880 755L1870 758M1899 824L1896 814L1893 804L1887 795L1884 786L1877 777L1873 768L1870 758M1795 782L1792 772L1784 765M1795 782L1805 786L1815 791L1826 794M1826 794L1836 788L1844 780L1852 772L1864 768L1869 757M1869 757L1867 761L1870 758M1795 782L1790 793L1785 804L1779 814L1772 824M1784 765L1775 771L1763 770L1753 774L1743 778L1733 781L1724 789M1772 824L1762 818L1750 814L1744 803L1735 794L1724 789M1794 860L1797 871L1803 880L1811 887L1817 895L1823 904L1829 913L1834 922L1841 930M1794 860L1789 860L1785 861M1841 930L1828 932L1815 931L1803 936M1803 936L1796 929L1788 921L1781 914L1772 908L1766 900M1839 843L1838 833L1832 824L1830 814L1826 804L1826 794M1772 824L1774 836L1773 848M1785 861L1780 854L1773 848M1867 847L1860 847L1853 848M1867 847L1873 856L1880 865L1887 874L1894 883L1898 893L1906 902L1911 912M1853 848L1852 860L1852 871L1850 882L1850 894L1848 905L1845 916L1846 927M1846 927L1859 926L1871 926L1883 925M1911 912L1901 914L1894 923L1883 925M1899 824L1888 831L1878 839L1867 847M1839 843L1847 844L1853 848M1841 930L1842 929L1842 930M1703 813L1708 801L1707 788M1707 788L1701 778L1695 766L1689 755M1702 818L1710 826L1717 834L1727 839L1736 845M1702 818L1700 815L1703 813M1724 789L1716 791L1707 788M1736 845L1748 844L1761 843L1773 848M1693 830L1697 824L1702 818M1883 925L1883 936L1888 946L1890 957M1953 978L1944 972L1931 974L1921 970L1910 966L1900 962L1890 957M1842 930L1844 943L1848 955L1847 968M1847 968L1858 978L1862 993M1890 957L1889 971L1882 984M1862 993L1871 986L1882 984M1953 978L1941 980L1930 984L1918 985L1906 986M1906 986L1894 986L1882 984M1847 968L1838 974L1828 977L1818 980L1809 986M1766 900L1756 906L1747 912L1736 914L1725 917M1736 845L1732 855L1725 864L1721 875L1719 885L1710 894L1709 905M1725 917L1716 912L1709 905M1654 944L1659 953L1666 961L1668 971L1677 978M1680 888L1685 892L1688 898M1654 944L1662 936L1670 927L1675 917L1684 909L1688 898M1688 898L1698 904L1709 905M1792 955L1781 958L1771 963L1760 966L1749 968L1739 971L1729 978M1792 955L1798 968L1803 982M1729 978L1725 986L1724 994M1731 1025L1732 1014L1726 1004L1724 994M1803 936L1798 946L1792 955M1809 986L1808 981L1803 982" fill="none" stroke="#5a6068" stroke-opacity="0.11" stroke-width="3.8" stroke-linejoin="round"/>
<path d="M1680 888L1684 877L1686 865L1685 853L1689 841L1693 830M1911 760L1901 756L1891 755L1880 755L1870 758M1899 824L1896 814L1893 804L1887 795L1884 786L1877 777L1873 768L1870 758M1795 782L1792 772L1784 765M1795 782L1805 786L1815 791L1826 794M1826 794L1836 788L1844 780L1852 772L1864 768L1869 757M1869 757L1867 761L1870 758M1795 782L1790 793L1785 804L1779 814L1772 824M1784 765L1775 771L1763 770L1753 774L1743 778L1733 781L1724 789M1772 824L1762 818L1750 814L1744 803L1735 794L1724 789M1794 860L1797 871L1803 880L1811 887L1817 895L1823 904L1829 913L1834 922L1841 930M1794 860L1789 860L1785 861M1841 930L1828 932L1815 931L1803 936M1803 936L1796 929L1788 921L1781 914L1772 908L1766 900M1839 843L1838 833L1832 824L1830 814L1826 804L1826 794M1772 824L1774 836L1773 848M1785 861L1780 854L1773 848M1867 847L1860 847L1853 848M1867 847L1873 856L1880 865L1887 874L1894 883L1898 893L1906 902L1911 912M1853 848L1852 860L1852 871L1850 882L1850 894L1848 905L1845 916L1846 927M1846 927L1859 926L1871 926L1883 925M1911 912L1901 914L1894 923L1883 925M1899 824L1888 831L1878 839L1867 847M1839 843L1847 844L1853 848M1841 930L1842 929L1842 930M1703 813L1708 801L1707 788M1707 788L1701 778L1695 766L1689 755M1702 818L1710 826L1717 834L1727 839L1736 845M1702 818L1700 815L1703 813M1724 789L1716 791L1707 788M1736 845L1748 844L1761 843L1773 848M1693 830L1697 824L1702 818M1883 925L1883 936L1888 946L1890 957M1953 978L1944 972L1931 974L1921 970L1910 966L1900 962L1890 957M1842 930L1844 943L1848 955L1847 968M1847 968L1858 978L1862 993M1890 957L1889 971L1882 984M1862 993L1871 986L1882 984M1953 978L1941 980L1930 984L1918 985L1906 986M1906 986L1894 986L1882 984M1847 968L1838 974L1828 977L1818 980L1809 986M1766 900L1756 906L1747 912L1736 914L1725 917M1736 845L1732 855L1725 864L1721 875L1719 885L1710 894L1709 905M1725 917L1716 912L1709 905M1654 944L1659 953L1666 961L1668 971L1677 978M1680 888L1685 892L1688 898M1654 944L1662 936L1670 927L1675 917L1684 909L1688 898M1688 898L1698 904L1709 905M1792 955L1781 958L1771 963L1760 966L1749 968L1739 971L1729 978M1792 955L1798 968L1803 982M1729 978L1725 986L1724 994M1731 1025L1732 1014L1726 1004L1724 994M1803 936L1798 946L1792 955M1809 986L1808 981L1803 982" fill="none" stroke="#4a5058" stroke-opacity="0.32" stroke-width="1.2" stroke-linejoin="round"/>
<path d="M1680 888l-2 8M1680 888l3 -7M1680 888l-2 7M1911 760l2 10M1911 760l-9 -4M1911 760l5 12M1899 824l5 -2M1899 824l-10 7M1899 824l1 8M1795 782l-8 -5M1795 782l10 -6M1795 782l-10 -1M1795 782l-4 -8M1795 782l-4 -6M1795 782l8 -2M1826 794l3 -5M1826 794l-2 -8M1826 794l2 7M1869 757l11 1M1869 757l6 -2M1869 757l-12 -2M1795 782l9 5M1795 782l12 -3M1795 782l12 6M1784 765l-3 10M1784 765l-4 -13M1784 765l-4 -9M1772 824l-6 -1M1772 824l7 -4M1772 824l-1 9M1794 860l4 4M1794 860l5 7M1794 860l2 -8M1794 860l6 2M1794 860l10 4M1794 860l-7 2M1841 930l-3 -5M1841 930l3 -10M1841 930l-5 6M1803 936l2 13M1803 936l5 11M1803 936l-3 7M1839 843l-1 12M1839 843l-2 7M1839 843l-7 -1M1772 824l-3 10M1772 824l7 6M1772 824l-8 -9M1785 861l-4 -4M1785 861l-2 7M1785 861l2 12M1867 847l8 5M1867 847l-4 -5M1867 847l-5 0M1867 847l6 -6M1867 847l10 1M1867 847l5 9M1853 848l10 4M1853 848l-12 -3M1853 848l3 -10M1846 927l8 -1M1846 927l-8 -1M1846 927l5 12M1911 912l13 2M1911 912l5 6M1911 912l-3 5M1899 824l-5 -2M1899 824l4 -2M1899 824l2 5M1839 843l-6 2M1839 843l11 7M1839 843l5 2M1841 930l-5 8M1841 930l6 -6M1841 930l-9 4M1703 813l8 0M1703 813l9 10M1703 813l-1 -7M1707 788l2 -12M1707 788l-2 -11M1707 788l6 7M1702 818l4 13M1702 818l-2 -8M1702 818l9 -1M1702 818l4 9M1702 818l4 10M1702 818l6 2M1724 789l8 2M1724 789l-5 1M1724 789l12 -8M1736 845l5 9M1736 845l4 -8M1736 845l9 6M1693 830l4 -10M1693 830l5 -3M1693 830l-10 5M1883 925l13 -1M1883 925l3 13M1883 925l-3 -12M1953 978l2 9M1953 978l3 -13M1953 978l11 -3M1842 930l-6 -8M1842 930l-9 5M1842 930l10 3M1847 968l-6 12M1847 968l-2 6M1847 968l-5 -8M1890 957l10 9M1890 957l8 8M1890 957l12 8M1862 993l-8 3M1862 993l4 10M1862 993l-6 -0M1953 978l4 -7M1953 978l9 9M1953 978l3 -5M1906 986l-3 7M1906 986l8 5M1906 986l8 -1M1847 968l13 -4M1847 968l1 6M1847 968l-1 5M1766 900l5 5M1766 900l7 -8M1766 900l-12 -7M1736 845l-6 4M1736 845l-9 -0M1736 845l4 -9M1725 917l6 -10M1725 917l-9 10M1725 917l-11 8M1654 944l-8 -9M1654 944l-3 6M1654 944l-6 0M1680 888l-13 4M1680 888l-0 -12M1680 888l-6 -3M1654 944l11 -6M1654 944l3 -6M1654 944l-3 10M1688 898l-6 -7M1688 898l4 2M1688 898l-6 2M1792 955l8 10M1792 955l-0 7M1792 955l-5 12M1792 955l-3 -8M1792 955l-4 -12M1792 955l6 -0M1729 978l12 -1M1729 978l-7 3M1729 978l-4 10M1731 1025l-4 -5M1731 1025l-0 -8M1731 1025l-9 -7M1803 936l-6 12M1803 936l-10 -8M1803 936l6 3M1809 986l6 -11M1809 986l9 -1M1809 986l-6 8" fill="none" stroke="#4a5058" stroke-opacity="0.19" stroke-width="1"/>
<path d="M1689 863h0M1681 882h0M1689 853h0M1683 850h0M1682 884h0M1692 836h0M1685 848h0M1690 843h0M1685 853h0M1917 761h0M1900 759h0M1874 757h0M1866 763h0M1878 761h0M1894 765h0M1873 779h0M1876 776h0M1901 809h0M1870 767h0M1876 785h0M1879 786h0M1883 799h0M1898 805h0M1892 811h0M1899 813h0M1902 825h0M1882 769h0M1795 776h0M1788 779h0M1793 767h0M1800 777h0M1819 795h0M1816 790h0M1794 785h0M1813 795h0M1854 772h0M1829 793h0M1848 771h0M1853 770h0M1855 771h0M1831 781h0M1845 771h0M1830 789h0M1863 766h0M1785 799h0M1779 811h0M1790 790h0M1786 804h0M1785 799h0M1788 793h0M1782 803h0M1761 777h0M1748 780h0M1770 775h0M1769 768h0M1745 789h0M1763 777h0M1775 763h0M1740 783h0M1764 774h0M1752 773h0M1737 809h0M1726 789h0M1734 797h0M1746 806h0M1740 806h0M1741 803h0M1762 820h0M1731 798h0M1749 804h0M1841 925h0M1829 909h0M1800 864h0M1803 871h0M1798 876h0M1796 871h0M1803 872h0M1831 916h0M1834 929h0M1828 917h0M1829 922h0M1823 909h0M1809 896h0M1839 909h0M1789 854h0M1827 934h0M1833 930h0M1821 936h0M1821 930h0M1821 932h0M1818 928h0M1803 933h0M1786 919h0M1769 912h0M1780 910h0M1795 935h0M1783 918h0M1772 909h0M1795 935h0M1837 842h0M1837 830h0M1826 794h0M1822 804h0M1831 823h0M1832 830h0M1834 836h0M1828 816h0M1771 817h0M1775 847h0M1770 840h0M1773 856h0M1785 852h0M1865 846h0M1865 845h0M1878 862h0M1906 900h0M1876 865h0M1892 890h0M1890 875h0M1870 857h0M1890 882h0M1894 886h0M1898 893h0M1911 910h0M1876 858h0M1879 858h0M1887 873h0M1850 871h0M1850 894h0M1850 861h0M1846 921h0M1855 870h0M1852 894h0M1848 928h0M1852 923h0M1850 918h0M1856 859h0M1856 849h0M1853 925h0M1854 886h0M1875 924h0M1863 928h0M1855 925h0M1851 927h0M1879 925h0M1860 927h0M1904 923h0M1904 914h0M1887 925h0M1902 909h0M1905 915h0M1869 849h0M1879 844h0M1895 830h0M1884 829h0M1880 836h0M1868 842h0M1850 851h0M1841 844h0M1708 806h0M1707 795h0M1702 803h0M1703 810h0M1708 786h0M1705 777h0M1706 771h0M1703 785h0M1701 773h0M1705 780h0M1703 823h0M1734 853h0M1708 823h0M1734 839h0M1714 817h0M1736 847h0M1721 836h0M1713 787h0M1717 788h0M1751 841h0M1759 847h0M1768 847h0M1734 841h0M1767 845h0M1747 842h0M1701 830h0M1696 822h0M1886 955h0M1894 938h0M1883 945h0M1888 930h0M1882 951h0M1913 962h0M1908 966h0M1899 959h0M1913 961h0M1906 964h0M1915 963h0M1909 954h0M1946 978h0M1904 964h0M1897 960h0M1940 974h0M1844 956h0M1841 937h0M1849 964h0M1841 930h0M1851 969h0M1843 937h0M1858 984h0M1846 972h0M1850 976h0M1850 993h0M1876 978h0M1880 975h0M1885 967h0M1885 966h0M1868 984h0M1873 990h0M1872 989h0M1951 980h0M1955 978h0M1910 990h0M1945 979h0M1933 971h0M1932 988h0M1948 978h0M1892 983h0M1884 987h0M1892 987h0M1881 990h0M1822 983h0M1820 994h0M1833 978h0M1832 971h0M1824 971h0M1845 968h0M1833 970h0M1755 900h0M1747 912h0M1733 910h0M1752 910h0M1743 906h0M1753 913h0M1763 905h0M1718 884h0M1720 872h0M1719 885h0M1722 889h0M1738 849h0M1732 840h0M1717 866h0M1714 894h0M1704 904h0M1712 888h0M1734 859h0M1719 909h0M1718 915h0M1710 911h0M1664 962h0M1680 973h0M1671 963h0M1657 952h0M1671 966h0M1656 947h0M1682 889h0M1679 894h0M1665 937h0M1661 930h0M1664 933h0M1657 936h0M1669 935h0M1664 932h0M1683 901h0M1662 942h0M1667 934h0M1700 893h0M1701 910h0M1698 907h0M1747 966h0M1780 961h0M1787 951h0M1788 958h0M1762 970h0M1747 972h0M1783 963h0M1766 962h0M1772 960h0M1783 964h0M1735 979h0M1790 964h0M1797 970h0M1797 961h0M1799 984h0M1723 979h0M1731 989h0M1730 1018h0M1727 1010h0M1730 1011h0M1724 1023h0M1727 1000h0M1793 943h0M1799 953h0M1799 938h0M1815 988h0M1877 824h0M1712 804h0M1843 802h0M1837 779h0M1795 740h0M1670 936h0M1752 932h0M1721 839h0M1912 737h0M1893 934h0M1897 753h0M1882 778h0M1793 765h0M1916 806h0M1901 906h0M1803 820h0M1844 897h0M1908 970h0M1836 942h0M1835 783h0M1829 754h0M1691 896h0M1802 751h0M1705 798h0M1807 963h0M1864 951h0M1753 826h0M1690 949h0M1774 950h0M1908 766h0M1812 785h0M1868 901h0M1850 937h0M1709 926h0M1809 797h0M1786 971h0M1804 797h0M1706 850h0M1875 818h0M1890 874h0M1819 972h0M1844 908h0M1791 925h0M1890 802h0M1835 767h0M1721 778h0M1896 765h0M1871 737h0M1800 754h0M1755 907h0M1731 810h0M1697 767h0M1848 968h0M1796 927h0M1730 920h0M1867 790h0M1909 880h0M1740 745h0M1727 906h0M1812 769h0M1911 976h0M1900 978h0M1910 830h0M1750 881h0M1764 913h0M1908 935h0M1675 847h0M1880 746h0M1729 806h0M1696 874h0M1903 942h0M1795 829h0M1884 915h0M1713 873h0M1736 985h0M1752 865h0M1894 903h0M1868 808h0M1847 860h0M1759 929h0M1762 892h0M1766 816h0M1739 785h0M1874 847h0M1825 918h0M1718 865h0M1869 791h0M1804 826h0M1886 881h0M1695 845h0M1673 940h0M1777 870h0M1892 814h0M1673 977h0M1919 913h0M1836 740h0M1723 764h0M1782 842h0M1697 836h0M1908 868h0M1689 875h0M1852 907h0M1753 934h0M1896 834h0M1848 817h0M1784 970h0M1770 751h0M1888 959h0M1883 830h0M1853 754h0M1860 832h0M1698 891h0M1726 904h0M1685 792h0M1806 759h0M1914 965h0M1826 953h0M1854 873h0M1690 872h0M1859 854h0M1674 763h0M1839 953h0M1861 767h0M1761 740h0M1914 839h0M1771 917h0M1897 740h0M1902 883h0M1724 886h0M1746 804h0M1749 905h0M1869 942h0M1712 914h0M1834 890h0M1890 771h0M1915 902h0M1865 851h0M1868 815h0M1832 887h0M1901 765h0M1846 951h0M1676 966h0M1878 968h0M1836 949h0M1850 798h0M1794 757h0M1691 977h0M1789 954h0M1826 868h0M1716 899h0M1917 922h0M1724 980h0M1809 784h0M1747 781h0M1779 849h0M1763 766h0M1899 804h0M1708 757h0M1903 838h0M1694 979h0M1751 828h0M1902 771h0M1849 939h0M1919 854h0M1673 816h0M1858 870h0M1734 838h0M1866 865h0M1759 814h0M1913 857h0M1805 940h0M1845 894h0M1788 942h0M1860 828h0M1913 787h0M1685 758h0M1917 930h0M1726 801h0M1763 819h0M1901 951h0M1706 791h0M1837 790h0M1885 890h0M1704 901h0M1827 951h0M1828 960h0M1756 760h0M1825 750h0M1868 984h0M1787 974h0M1901 943h0M1825 884h0M1681 938h0M1829 906h0M1849 856h0M1685 905h0M1908 735h0M1749 900h0M1685 898h0M1876 761h0M1763 893h0M1824 886h0M1873 785h0M1874 830h0M1871 942h0M1699 911h0M1721 871h0M1673 956h0M1723 926h0M1827 936h0M1802 762h0M1746 797h0M1910 979h0M1825 893h0M1763 816h0M1877 883h0M1895 961h0M1909 789h0M1808 897h0M1806 956h0" stroke="#4f555c" stroke-opacity="0.32" stroke-width="2.2" stroke-linecap="round"/>
</g>
<rect x="1896" y="976" width="21" height="3.4" fill="#000"/>
<text x="1657.0" y="727.5" font-size="26.5">D3_iEC_vehicle</text>
<g clip-path="url(#clip3)">
<rect x="1057" y="1025" width="251" height="251" fill="#b2b6bb"/>
<rect x="1057" y="1025" width="251" height="251" fill="url(#g3_0)"/>
<rect x="1057" y="1025" width="251" height="251" fill="url(#g3_1)"/>
<rect x="1057" y="1025" width="251" height="251" fill="url(#g3_2)"/>
<rect x="1057" y="1025" width="251" height="251" filter="url(#grain2)" opacity="0.5"/>
<rect x="1057" y="1025" width="251" height="251" filter="url(#grain)" opacity="0.2"/>
<path d="M1164 1300L1157 1292L1152 1283L1145 1275L1135 1269L1129 1261M1333 1016L1323 1022L1316 1030L1307 1037L1300 1044L1291 1051L1282 1058L1272 1062M1272 1062L1271 1066L1271 1070M1271 1070L1275 1079L1280 1088L1286 1096L1291 1105M1273 1240L1262 1237L1252 1232L1241 1230L1232 1225M1326 1215L1318 1208L1310 1201L1304 1193L1299 1184L1293 1175L1285 1169L1280 1160M1280 1160L1271 1154L1262 1149L1253 1144L1245 1134L1234 1133L1223 1132M1224 1207L1229 1215L1232 1225M1180 1244L1191 1241L1200 1234L1211 1232L1221 1228L1232 1225M1291 1105L1289 1116L1280 1122M1280 1122L1278 1135L1279 1147L1280 1160M1280 1122L1269 1126L1257 1126L1246 1131L1235 1136L1223 1132M1215 1122L1219 1127L1222 1132M1269 1060L1265 1049L1258 1039L1254 1028L1252 1016L1246 1005M1269 1060L1259 1055L1249 1050L1237 1049L1227 1045L1217 1037L1206 1036M1206 1036L1209 1025L1207 1013L1210 1002L1214 991L1211 980M1246 1005L1238 998L1228 994L1218 990L1211 980M1333 1016L1322 1013L1312 1010L1300 1012L1289 1013L1279 1008L1268 1008L1257 1007L1246 1005M1272 1062L1271 1061L1269 1060M991 1099L1001 1096L1011 1091L1022 1089L1031 1084L1041 1081L1050 1074L1061 1072L1070 1068M1206 1036L1197 1042L1189 1048L1183 1057M1128 1026L1137 1031L1147 1036L1156 1041L1165 1046L1174 1052L1183 1057M1128 1026L1119 1032L1111 1041L1104 1051L1096 1059M1096 1059L1092 1061L1093 1065M1215 1122L1204 1116L1192 1115L1181 1111M1183 1057L1185 1068L1180 1078L1183 1090L1182 1100L1181 1111M1099 1290L1093 1281L1087 1272M991 1099L1001 1103L1008 1111L1017 1117L1028 1120L1037 1125L1046 1131L1056 1134L1064 1141L1073 1146L1086 1145L1093 1153M1093 1065L1099 1074L1103 1084L1112 1090L1116 1100L1116 1111L1123 1119L1128 1128M1093 1153L1102 1148L1112 1143L1119 1134L1128 1128M1224 1207L1216 1199L1204 1197L1194 1191L1185 1185L1177 1175L1169 1167L1158 1164M1181 1111L1170 1119L1158 1124L1146 1130M1158 1164L1154 1153L1149 1142L1146 1130M1129 1261L1126 1250L1126 1238M1087 1272L1089 1262L1088 1252M1126 1238L1117 1244L1108 1247L1098 1251L1088 1252M1081 1241L1087 1245L1088 1252M1068 1194L1070 1193L1073 1194M1081 1241L1079 1229L1081 1217L1075 1206L1073 1194M1093 1153L1088 1162L1084 1172L1083 1182M1073 1194L1078 1188L1083 1182M1168 1236L1166 1225L1164 1214L1166 1202L1165 1191L1162 1180L1157 1170M1168 1236L1158 1235L1148 1231L1138 1230M1157 1170L1151 1178L1143 1185L1140 1195L1135 1204L1127 1211M1138 1230L1134 1220L1127 1211M1180 1244L1174 1240L1168 1236M1158 1164L1155 1166L1157 1170M1126 1238L1132 1234L1138 1230" fill="none" stroke="#5a6068" stroke-opacity="0.22" stroke-width="5.4" stroke-linejoin="round"/>
<path d="M1164 1300L1157 1292L1152 1283L1145 1275L1135 1269L1129 1261M1333 1016L1323 1022L1316 1030L1307 1037L1300 1044L1291 1051L1282 1058L1272 1062M1272 1062L1271 1066L1271 1070M1271 1070L1275 1079L1280 1088L1286 1096L1291 1105M1273 1240L1262 1237L1252 1232L1241 1230L1232 1225M1326 1215L1318 1208L1310 1201L1304 1193L1299 1184L1293 1175L1285 1169L1280 1160M1280 1160L1271 1154L1262 1149L1253 1144L1245 1134L1234 1133L1223 1132M1224 1207L1229 1215L1232 1225M1180 1244L1191 1241L1200 1234L1211 1232L1221 1228L1232 1225M1291 1105L1289 1116L1280 1122M1280 1122L1278 1135L1279 1147L1280 1160M1280 1122L1269 1126L1257 1126L1246 1131L1235 1136L1223 1132M1215 1122L1219 1127L1222 1132M1269 1060L1265 1049L1258 1039L1254 1028L1252 1016L1246 1005M1269 1060L1259 1055L1249 1050L1237 1049L1227 1045L1217 1037L1206 1036M1206 1036L1209 1025L1207 1013L1210 1002L1214 991L1211 980M1246 1005L1238 998L1228 994L1218 990L1211 980M1333 1016L1322 1013L1312 1010L1300 1012L1289 1013L1279 1008L1268 1008L1257 1007L1246 1005M1272 1062L1271 1061L1269 1060M991 1099L1001 1096L1011 1091L1022 1089L1031 1084L1041 1081L1050 1074L1061 1072L1070 1068M1206 1036L1197 1042L1189 1048L1183 1057M1128 1026L1137 1031L1147 1036L1156 1041L1165 1046L1174 1052L1183 1057M1128 1026L1119 1032L1111 1041L1104 1051L1096 1059M1096 1059L1092 1061L1093 1065M1215 1122L1204 1116L1192 1115L1181 1111M1183 1057L1185 1068L1180 1078L1183 1090L1182 1100L1181 1111M1099 1290L1093 1281L1087 1272M991 1099L1001 1103L1008 1111L1017 1117L1028 1120L1037 1125L1046 1131L1056 1134L1064 1141L1073 1146L1086 1145L1093 1153M1093 1065L1099 1074L1103 1084L1112 1090L1116 1100L1116 1111L1123 1119L1128 1128M1093 1153L1102 1148L1112 1143L1119 1134L1128 1128M1224 1207L1216 1199L1204 1197L1194 1191L1185 1185L1177 1175L1169 1167L1158 1164M1181 1111L1170 1119L1158 1124L1146 1130M1158 1164L1154 1153L1149 1142L1146 1130M1129 1261L1126 1250L1126 1238M1087 1272L1089 1262L1088 1252M1126 1238L1117 1244L1108 1247L1098 1251L1088 1252M1081 1241L1087 1245L1088 1252M1068 1194L1070 1193L1073 1194M1081 1241L1079 1229L1081 1217L1075 1206L1073 1194M1093 1153L1088 1162L1084 1172L1083 1182M1073 1194L1078 1188L1083 1182M1168 1236L1166 1225L1164 1214L1166 1202L1165 1191L1162 1180L1157 1170M1168 1236L1158 1235L1148 1231L1138 1230M1157 1170L1151 1178L1143 1185L1140 1195L1135 1204L1127 1211M1138 1230L1134 1220L1127 1211M1180 1244L1174 1240L1168 1236M1158 1164L1155 1166L1157 1170M1126 1238L1132 1234L1138 1230" fill="none" stroke="#4a5058" stroke-opacity="0.62" stroke-width="1.7" stroke-linejoin="round"/>
<path d="M1164 1300l11 -2M1164 1300l9 -8M1164 1300l0 -6M1333 1016l11 -1M1333 1016l-9 -11M1333 1016l-5 -1M1272 1062l-7 8M1272 1062l6 5M1272 1062l9 -7M1271 1070l5 13M1271 1070l-7 9M1271 1070l10 -4M1273 1240l-7 5M1273 1240l-8 -9M1273 1240l-1 10M1326 1215l10 2M1326 1215l1 -13M1326 1215l4 -4M1280 1160l-4 3M1280 1160l5 -1M1280 1160l3 -5M1224 1207l3 7M1224 1207l2 6M1224 1207l8 8M1180 1244l-3 11M1180 1244l2 -8M1180 1244l-11 3M1291 1105l7 8M1291 1105l6 9M1291 1105l1 10M1280 1122l-1 8M1280 1122l-1 -7M1280 1122l6 -7M1280 1122l3 -8M1280 1122l-13 1M1280 1122l-9 -4M1215 1122l-0 13M1215 1122l7 3M1215 1122l7 -8M1269 1060l-5 6M1269 1060l7 10M1269 1060l-7 -10M1269 1060l-11 1M1269 1060l-5 -3M1269 1060l5 -6M1206 1036l2 -7M1206 1036l12 5M1206 1036l3 9M1246 1005l7 -6M1246 1005l1 12M1246 1005l-1 -8M1333 1016l0 9M1333 1016l-8 9M1333 1016l4 -6M1272 1062l0 -9M1272 1062l-10 -1M1272 1062l-10 -5M991 1099l-13 -5M991 1099l-0 -10M991 1099l6 11M1206 1036l-10 1M1206 1036l5 2M1206 1036l2 -7M1128 1026l2 -9M1128 1026l-5 -3M1128 1026l-5 11M1128 1026l3 -12M1128 1026l-5 6M1128 1026l1 9M1096 1059l-4 12M1096 1059l-6 7M1096 1059l-0 -8M1215 1122l6 3M1215 1122l-9 2M1215 1122l-6 0M1183 1057l-13 -0M1183 1057l11 2M1183 1057l-11 -7M1099 1290l8 1M1099 1290l1 7M1099 1290l-0 8M991 1099l11 5M991 1099l-11 2M991 1099l-5 12M1093 1065l5 -9M1093 1065l-7 10M1093 1065l7 6M1093 1153l6 10M1093 1153l-7 3M1093 1153l12 -3M1224 1207l11 -0M1224 1207l-4 -12M1224 1207l1 10M1181 1111l4 6M1181 1111l-10 9M1181 1111l-6 -8M1158 1164l9 9M1158 1164l-12 -1M1158 1164l9 5M1129 1261l-12 6M1129 1261l-3 5M1129 1261l-12 -2M1087 1272l6 2M1087 1272l-8 -9M1087 1272l-9 -10M1126 1238l-7 3M1126 1238l4 7M1126 1238l7 -5M1081 1241l-5 6M1081 1241l-12 3M1081 1241l8 -2M1068 1194l2 10M1068 1194l-9 1M1068 1194l3 -6M1081 1241l7 -4M1081 1241l-9 10M1081 1241l6 10M1093 1153l-6 6M1093 1153l1 -7M1093 1153l-1 -11M1073 1194l7 12M1073 1194l5 4M1073 1194l6 10M1168 1236l1 5M1168 1236l11 -4M1168 1236l1 13M1168 1236l-5 -4M1168 1236l-5 4M1168 1236l2 12M1157 1170l9 -5M1157 1170l3 11M1157 1170l-2 8M1138 1230l-0 6M1138 1230l-1 11M1138 1230l9 2M1180 1244l-2 9M1180 1244l7 -2M1180 1244l-8 -7M1158 1164l-6 1M1158 1164l7 -7M1158 1164l-2 -9M1126 1238l-1 9M1126 1238l-7 -7M1126 1238l-7 -1" fill="none" stroke="#4a5058" stroke-opacity="0.37" stroke-width="1"/>
<path d="M1153 1279h0M1146 1285h0M1160 1295h0M1134 1256h0M1130 1261h0M1150 1283h0M1131 1258h0M1155 1288h0M1327 1024h0M1329 1029h0M1318 1026h0M1278 1057h0M1328 1017h0M1290 1050h0M1304 1035h0M1328 1019h0M1271 1066h0M1317 1028h0M1294 1041h0M1313 1030h0M1267 1061h0M1283 1092h0M1278 1075h0M1290 1100h0M1276 1069h0M1296 1101h0M1282 1082h0M1232 1227h0M1261 1236h0M1243 1227h0M1279 1238h0M1264 1233h0M1264 1237h0M1254 1235h0M1294 1186h0M1304 1197h0M1294 1179h0M1302 1190h0M1291 1175h0M1312 1201h0M1311 1199h0M1315 1201h0M1330 1210h0M1292 1163h0M1286 1158h0M1225 1136h0M1229 1132h0M1251 1146h0M1256 1149h0M1245 1137h0M1245 1140h0M1270 1161h0M1267 1161h0M1262 1153h0M1275 1163h0M1230 1220h0M1228 1218h0M1235 1221h0M1210 1232h0M1191 1244h0M1208 1236h0M1186 1240h0M1200 1234h0M1227 1224h0M1209 1234h0M1227 1218h0M1206 1242h0M1289 1114h0M1280 1115h0M1282 1107h0M1274 1144h0M1274 1155h0M1278 1133h0M1276 1162h0M1280 1133h0M1279 1149h0M1257 1124h0M1242 1131h0M1251 1131h0M1238 1128h0M1272 1128h0M1228 1125h0M1226 1133h0M1269 1130h0M1237 1132h0M1207 1124h0M1223 1126h0M1250 1024h0M1254 1019h0M1255 1020h0M1269 1055h0M1249 1013h0M1248 1014h0M1251 1021h0M1246 1012h0M1252 1019h0M1232 1043h0M1224 1051h0M1216 1041h0M1206 1037h0M1229 1038h0M1234 1047h0M1239 1050h0M1261 1059h0M1225 1047h0M1251 1059h0M1219 1044h0M1206 1005h0M1218 977h0M1212 1009h0M1212 983h0M1213 981h0M1209 1009h0M1211 981h0M1204 1007h0M1209 1008h0M1217 982h0M1220 988h0M1216 989h0M1227 992h0M1227 988h0M1214 982h0M1221 985h0M1253 1001h0M1319 1018h0M1303 1010h0M1275 1012h0M1266 1011h0M1314 1018h0M1274 1007h0M1255 1009h0M1320 1018h0M1305 1009h0M1302 1015h0M1322 1013h0M1256 999h0M1257 1005h0M1036 1079h0M1012 1085h0M1027 1083h0M1040 1076h0M1035 1086h0M1004 1093h0M1043 1080h0M1008 1098h0M1043 1075h0M1032 1086h0M1058 1073h0M1015 1100h0M1028 1090h0M1024 1085h0M1190 1060h0M1193 1055h0M1200 1039h0M1202 1035h0M1207 1045h0M1152 1038h0M1131 1032h0M1155 1040h0M1159 1044h0M1127 1019h0M1169 1053h0M1142 1035h0M1142 1035h0M1149 1035h0M1145 1029h0M1125 1030h0M1112 1042h0M1116 1037h0M1124 1032h0M1124 1031h0M1121 1032h0M1093 1052h0M1094 1063h0M1205 1118h0M1210 1127h0M1204 1118h0M1208 1113h0M1199 1111h0M1184 1090h0M1181 1105h0M1185 1061h0M1183 1056h0M1179 1096h0M1185 1091h0M1180 1093h0M1183 1068h0M1184 1079h0M1090 1277h0M1087 1276h0M1084 1273h0M1016 1116h0M1059 1132h0M1055 1128h0M1075 1140h0M1094 1153h0M1076 1148h0M1088 1150h0M994 1099h0M1059 1135h0M1067 1138h0M1025 1115h0M1007 1104h0M1075 1143h0M1010 1105h0M1014 1117h0M1026 1122h0M1065 1138h0M1086 1140h0M1053 1125h0M1120 1112h0M1113 1117h0M1100 1081h0M1097 1075h0M1096 1077h0M1117 1117h0M1123 1121h0M1119 1112h0M1092 1067h0M1118 1122h0M1107 1100h0M1116 1107h0M1100 1153h0M1103 1151h0M1129 1126h0M1129 1124h0M1119 1138h0M1110 1149h0M1095 1154h0M1165 1170h0M1204 1201h0M1163 1163h0M1183 1188h0M1229 1201h0M1210 1200h0M1224 1205h0M1179 1183h0M1185 1183h0M1168 1170h0M1217 1204h0M1204 1188h0M1184 1176h0M1171 1121h0M1164 1115h0M1155 1119h0M1158 1127h0M1187 1104h0M1187 1117h0M1148 1148h0M1156 1155h0M1150 1142h0M1158 1153h0M1157 1162h0M1128 1246h0M1132 1253h0M1130 1241h0M1083 1266h0M1089 1270h0M1088 1271h0M1091 1257h0M1103 1249h0M1118 1247h0M1084 1249h0M1122 1244h0M1091 1252h0M1082 1239h0M1089 1252h0M1078 1232h0M1079 1212h0M1075 1206h0M1078 1241h0M1080 1220h0M1078 1238h0M1080 1197h0M1085 1177h0M1093 1160h0M1087 1182h0M1094 1148h0M1098 1158h0M1078 1190h0M1077 1185h0M1160 1201h0M1154 1179h0M1161 1239h0M1158 1208h0M1166 1191h0M1168 1214h0M1167 1206h0M1165 1201h0M1160 1189h0M1172 1233h0M1163 1206h0M1149 1245h0M1145 1234h0M1153 1237h0M1141 1229h0M1161 1232h0M1145 1179h0M1155 1170h0M1150 1177h0M1140 1187h0M1144 1190h0M1149 1185h0M1157 1168h0M1144 1196h0M1134 1224h0M1135 1231h0M1138 1232h0M1177 1242h0M1172 1240h0M1136 1233h0M1134 1242h0M1077 1174h0M1203 1189h0M1271 1174h0M1223 1231h0M1163 1193h0M1290 1266h0M1145 1267h0M1177 1066h0M1193 1256h0M1108 1243h0M1113 1252h0M1123 1181h0M1128 1164h0M1284 1075h0M1092 1056h0M1229 1067h0M1078 1194h0M1185 1272h0M1198 1200h0M1204 1207h0M1291 1176h0M1072 1038h0M1270 1062h0M1306 1063h0M1189 1025h0M1198 1220h0M1063 1248h0M1137 1122h0M1061 1254h0M1202 1244h0M1292 1071h0M1209 1194h0M1160 1197h0M1099 1037h0M1219 1126h0M1186 1081h0M1177 1274h0M1171 1027h0M1277 1145h0M1223 1063h0M1093 1026h0M1206 1038h0M1188 1173h0M1253 1172h0M1126 1214h0M1255 1068h0M1085 1096h0M1300 1061h0M1261 1049h0M1242 1124h0M1195 1145h0M1306 1163h0M1070 1032h0M1201 1162h0M1059 1037h0M1093 1144h0M1272 1100h0M1160 1112h0M1101 1173h0M1238 1052h0M1149 1039h0M1247 1039h0M1164 1230h0M1204 1153h0M1063 1208h0M1269 1033h0M1061 1176h0M1174 1225h0M1209 1144h0M1204 1067h0M1289 1264h0M1180 1057h0M1102 1054h0M1257 1256h0M1081 1219h0M1220 1211h0M1148 1127h0M1145 1099h0M1234 1081h0M1059 1038h0M1259 1169h0M1184 1028h0M1109 1213h0M1261 1079h0M1169 1041h0M1114 1072h0M1214 1084h0M1239 1235h0M1059 1209h0M1207 1131h0M1239 1049h0M1236 1131h0M1100 1110h0M1168 1032h0M1250 1247h0M1115 1195h0M1062 1250h0M1296 1144h0M1085 1268h0M1061 1070h0M1120 1098h0M1305 1233h0M1137 1176h0M1242 1137h0M1250 1034h0M1210 1043h0M1116 1089h0M1193 1235h0M1238 1177h0M1292 1244h0M1119 1181h0M1108 1184h0M1145 1148h0M1116 1252h0M1303 1176h0M1222 1264h0M1061 1229h0M1229 1169h0M1170 1188h0M1096 1115h0M1098 1095h0M1150 1177h0M1121 1205h0M1177 1222h0M1301 1126h0M1146 1054h0M1172 1159h0M1105 1202h0M1271 1209h0M1305 1230h0M1091 1252h0M1201 1078h0M1303 1220h0M1191 1216h0M1165 1202h0M1285 1230h0M1302 1192h0M1159 1218h0M1250 1037h0M1183 1245h0M1079 1230h0M1140 1144h0M1100 1235h0M1285 1175h0M1287 1241h0M1082 1218h0M1215 1098h0M1184 1089h0M1066 1039h0M1269 1249h0M1080 1263h0M1153 1242h0M1186 1227h0M1172 1059h0M1192 1077h0M1196 1108h0M1105 1173h0M1092 1059h0M1150 1058h0M1135 1071h0M1153 1086h0M1111 1186h0M1176 1233h0M1107 1035h0M1180 1099h0M1200 1243h0M1145 1255h0M1201 1195h0M1096 1130h0M1216 1197h0M1248 1194h0M1088 1238h0M1106 1105h0M1201 1049h0M1229 1167h0M1288 1197h0M1295 1034h0M1071 1210h0M1233 1216h0M1208 1128h0M1178 1050h0M1160 1030h0M1090 1033h0M1120 1218h0M1273 1216h0M1293 1124h0M1138 1166h0M1140 1056h0M1298 1187h0M1196 1072h0M1260 1042h0M1063 1245h0M1088 1106h0M1060 1176h0M1071 1216h0M1139 1206h0M1243 1197h0M1300 1149h0M1161 1196h0M1242 1121h0M1209 1096h0M1240 1216h0M1220 1206h0M1258 1221h0M1083 1187h0M1153 1235h0M1061 1122h0M1241 1272h0M1148 1168h0M1290 1205h0M1060 1229h0M1262 1108h0M1256 1186h0M1219 1132h0M1147 1275h0M1132 1182h0M1236 1138h0M1272 1134h0M1153 1129h0M1127 1209h0" stroke="#4f555c" stroke-opacity="0.62" stroke-width="2.2" stroke-linecap="round"/>
</g>
<rect x="1284" y="1266" width="21" height="3.4" fill="#000"/>
<text x="1069.0" y="1019.0" font-size="26.5">D1_iEC_simvastatin</text>
<g clip-path="url(#clip4)">
<rect x="1363" y="1025" width="251" height="251" fill="#c0c4c9"/>
<rect x="1363" y="1025" width="251" height="251" fill="url(#g4_0)"/>
<rect x="1363" y="1025" width="251" height="251" fill="url(#g4_1)"/>
<rect x="1363" y="1025" width="251" height="251" fill="url(#g4_2)"/>
<rect x="1363" y="1025" width="251" height="251" filter="url(#grain2)" opacity="0.5"/>
<rect x="1363" y="1025" width="251" height="251" filter="url(#grain)" opacity="0.2"/>
<path d="M1384 1083L1387 1072L1392 1062L1397 1051L1403 1041M1403 1041L1411 1035L1420 1030L1431 1030M1384 1083L1382 1083L1384 1084M1325 1160L1333 1152L1343 1146L1350 1137L1360 1131L1369 1124L1378 1117M1384 1084L1381 1095L1380 1106L1378 1117M1384 1084L1393 1090L1404 1092L1414 1097L1424 1101L1434 1103M1378 1117L1388 1125L1399 1128L1413 1125L1424 1130L1433 1139M1433 1139L1432 1127L1435 1115L1434 1103M1582 1021L1579 1031L1574 1039L1573 1050L1568 1058L1562 1067L1559 1076M1559 1076L1569 1079L1579 1083L1589 1084L1600 1086L1610 1090L1619 1095L1630 1095L1641 1094L1651 1100L1660 1104L1671 1105L1682 1105M1533 1085L1546 1082L1559 1076M1533 1085L1527 1082L1525 1075M1521 1009L1512 1021L1508 1035M1521 1009L1531 1011L1542 1010L1551 1015L1561 1017L1572 1017L1582 1021M1525 1075L1521 1065L1516 1055L1510 1046L1508 1035M1433 1031L1436 1043L1437 1054L1436 1067L1441 1078L1442 1090M1433 1031L1434 1030L1434 1031M1434 1031L1440 1041L1448 1048L1456 1056L1463 1064L1471 1073L1477 1082M1442 1090L1454 1092L1466 1095M1477 1082L1469 1087L1466 1095M1431 1030L1432 1030L1433 1031M1434 1103L1439 1097L1442 1090M1508 1035L1497 1035L1486 1034L1476 1034L1465 1033L1455 1028L1444 1030L1434 1031M1525 1075L1512 1074L1501 1078L1489 1079L1477 1082M1523 1145L1512 1148L1500 1148L1489 1150M1523 1145L1525 1135L1527 1125L1527 1115L1530 1105L1529 1095L1533 1085M1489 1150L1477 1154L1467 1162L1455 1165M1450 1163L1452 1164L1455 1165M1479 1305L1484 1293L1493 1283L1499 1272M1565 1257L1554 1261L1542 1260L1532 1263L1522 1270L1511 1272L1499 1272M1565 1257L1571 1249L1576 1239L1584 1233M1584 1233L1588 1230L1585 1226M1682 1105L1673 1111L1665 1117L1653 1117L1644 1123L1636 1128L1625 1131L1617 1138L1608 1142L1598 1146L1589 1151L1580 1157L1571 1161L1560 1163L1553 1172M1585 1226L1579 1217L1573 1208L1571 1198L1563 1190L1560 1180L1553 1172M1553 1172L1554 1169L1553 1172M1326 1160L1336 1165L1348 1164L1359 1167L1369 1173L1379 1178L1390 1180M1326 1160L1331 1170L1338 1178L1347 1185L1351 1195L1357 1204L1362 1214L1367 1224L1372 1233L1380 1241M1390 1180L1386 1190L1386 1200L1387 1211L1384 1221L1384 1231L1380 1241M1325 1160L1326 1160L1326 1160M1450 1163L1440 1170L1430 1175L1417 1175L1407 1181M1390 1180L1399 1180L1407 1181M1505 1231L1504 1241L1498 1251L1499 1261L1499 1271M1505 1231L1498 1223L1489 1216L1479 1211L1474 1201L1464 1195L1457 1187M1499 1271L1489 1265L1484 1255L1478 1246L1470 1238L1464 1228L1457 1220L1451 1210M1457 1187L1457 1199L1451 1210M1499 1272L1501 1271L1499 1271M1553 1172L1546 1180L1541 1190L1534 1198L1524 1204L1518 1213L1513 1223L1505 1231M1455 1165L1454 1176L1457 1187M1479 1305L1472 1296L1462 1289L1456 1278L1447 1271L1438 1263M1438 1263L1428 1258L1417 1261L1407 1263L1397 1259L1387 1261L1377 1261M1380 1241L1383 1241L1381 1243M1377 1261L1381 1253L1381 1243M1407 1218L1403 1224L1399 1230M1399 1230L1411 1235L1424 1238L1437 1240M1442 1222L1441 1232L1437 1240M1407 1181L1407 1193L1408 1206L1407 1218M1381 1243L1391 1238L1399 1230M1451 1210L1446 1216L1442 1222M1438 1263L1438 1252L1437 1240" fill="none" stroke="#5a6068" stroke-opacity="0.20" stroke-width="5.4" stroke-linejoin="round"/>
<path d="M1384 1083L1387 1072L1392 1062L1397 1051L1403 1041M1403 1041L1411 1035L1420 1030L1431 1030M1384 1083L1382 1083L1384 1084M1325 1160L1333 1152L1343 1146L1350 1137L1360 1131L1369 1124L1378 1117M1384 1084L1381 1095L1380 1106L1378 1117M1384 1084L1393 1090L1404 1092L1414 1097L1424 1101L1434 1103M1378 1117L1388 1125L1399 1128L1413 1125L1424 1130L1433 1139M1433 1139L1432 1127L1435 1115L1434 1103M1582 1021L1579 1031L1574 1039L1573 1050L1568 1058L1562 1067L1559 1076M1559 1076L1569 1079L1579 1083L1589 1084L1600 1086L1610 1090L1619 1095L1630 1095L1641 1094L1651 1100L1660 1104L1671 1105L1682 1105M1533 1085L1546 1082L1559 1076M1533 1085L1527 1082L1525 1075M1521 1009L1512 1021L1508 1035M1521 1009L1531 1011L1542 1010L1551 1015L1561 1017L1572 1017L1582 1021M1525 1075L1521 1065L1516 1055L1510 1046L1508 1035M1433 1031L1436 1043L1437 1054L1436 1067L1441 1078L1442 1090M1433 1031L1434 1030L1434 1031M1434 1031L1440 1041L1448 1048L1456 1056L1463 1064L1471 1073L1477 1082M1442 1090L1454 1092L1466 1095M1477 1082L1469 1087L1466 1095M1431 1030L1432 1030L1433 1031M1434 1103L1439 1097L1442 1090M1508 1035L1497 1035L1486 1034L1476 1034L1465 1033L1455 1028L1444 1030L1434 1031M1525 1075L1512 1074L1501 1078L1489 1079L1477 1082M1523 1145L1512 1148L1500 1148L1489 1150M1523 1145L1525 1135L1527 1125L1527 1115L1530 1105L1529 1095L1533 1085M1489 1150L1477 1154L1467 1162L1455 1165M1450 1163L1452 1164L1455 1165M1479 1305L1484 1293L1493 1283L1499 1272M1565 1257L1554 1261L1542 1260L1532 1263L1522 1270L1511 1272L1499 1272M1565 1257L1571 1249L1576 1239L1584 1233M1584 1233L1588 1230L1585 1226M1682 1105L1673 1111L1665 1117L1653 1117L1644 1123L1636 1128L1625 1131L1617 1138L1608 1142L1598 1146L1589 1151L1580 1157L1571 1161L1560 1163L1553 1172M1585 1226L1579 1217L1573 1208L1571 1198L1563 1190L1560 1180L1553 1172M1553 1172L1554 1169L1553 1172M1326 1160L1336 1165L1348 1164L1359 1167L1369 1173L1379 1178L1390 1180M1326 1160L1331 1170L1338 1178L1347 1185L1351 1195L1357 1204L1362 1214L1367 1224L1372 1233L1380 1241M1390 1180L1386 1190L1386 1200L1387 1211L1384 1221L1384 1231L1380 1241M1325 1160L1326 1160L1326 1160M1450 1163L1440 1170L1430 1175L1417 1175L1407 1181M1390 1180L1399 1180L1407 1181M1505 1231L1504 1241L1498 1251L1499 1261L1499 1271M1505 1231L1498 1223L1489 1216L1479 1211L1474 1201L1464 1195L1457 1187M1499 1271L1489 1265L1484 1255L1478 1246L1470 1238L1464 1228L1457 1220L1451 1210M1457 1187L1457 1199L1451 1210M1499 1272L1501 1271L1499 1271M1553 1172L1546 1180L1541 1190L1534 1198L1524 1204L1518 1213L1513 1223L1505 1231M1455 1165L1454 1176L1457 1187M1479 1305L1472 1296L1462 1289L1456 1278L1447 1271L1438 1263M1438 1263L1428 1258L1417 1261L1407 1263L1397 1259L1387 1261L1377 1261M1380 1241L1383 1241L1381 1243M1377 1261L1381 1253L1381 1243M1407 1218L1403 1224L1399 1230M1399 1230L1411 1235L1424 1238L1437 1240M1442 1222L1441 1232L1437 1240M1407 1181L1407 1193L1408 1206L1407 1218M1381 1243L1391 1238L1399 1230M1451 1210L1446 1216L1442 1222M1438 1263L1438 1252L1437 1240" fill="none" stroke="#4a5058" stroke-opacity="0.58" stroke-width="1.7" stroke-linejoin="round"/>
<path d="M1384 1083l-4 -9M1384 1083l7 9M1384 1083l-3 -14M1403 1041l9 -5M1403 1041l4 10M1403 1041l-9 2M1384 1083l-0 -10M1384 1083l12 1M1384 1083l0 10M1325 1160l-8 7M1325 1160l-2 -10M1325 1160l6 -8M1384 1084l-3 8M1384 1084l-6 -1M1384 1084l2 -7M1384 1084l6 -5M1384 1084l5 3M1384 1084l10 1M1378 1117l-7 -3M1378 1117l-6 3M1378 1117l12 7M1433 1139l2 -10M1433 1139l8 4M1433 1139l-10 2M1582 1021l-8 5M1582 1021l-3 5M1582 1021l8 -4M1559 1076l5 7M1559 1076l3 6M1559 1076l6 10M1533 1085l-1 -14M1533 1085l2 7M1533 1085l4 6M1533 1085l7 6M1533 1085l-9 -9M1533 1085l-3 -4M1521 1009l0 -7M1521 1009l-7 -1M1521 1009l6 1M1521 1009l-9 -8M1521 1009l-5 7M1521 1009l6 7M1525 1075l-4 -12M1525 1075l8 1M1525 1075l6 -6M1433 1031l12 2M1433 1031l1 -6M1433 1031l7 -1M1433 1031l-0 -7M1433 1031l-4 -7M1433 1031l-5 3M1434 1031l10 6M1434 1031l3 -11M1434 1031l-9 -10M1442 1090l0 -7M1442 1090l-6 7M1442 1090l3 -10M1477 1082l11 2M1477 1082l13 -4M1477 1082l-7 7M1431 1030l-6 -9M1431 1030l8 5M1431 1030l8 -10M1434 1103l4 -8M1434 1103l2 10M1434 1103l-8 5M1508 1035l5 9M1508 1035l6 0M1508 1035l8 0M1525 1075l9 -7M1525 1075l8 -8M1525 1075l0 7M1523 1145l-5 2M1523 1145l-10 -7M1523 1145l-9 8M1523 1145l0 8M1523 1145l-6 -5M1523 1145l6 -11M1489 1150l7 -5M1489 1150l5 5M1489 1150l-0 -11M1450 1163l-3 -11M1450 1163l10 6M1450 1163l6 11M1479 1305l8 2M1479 1305l-10 -8M1479 1305l11 3M1565 1257l10 -5M1565 1257l7 11M1565 1257l-14 2M1565 1257l10 3M1565 1257l-5 5M1565 1257l-5 10M1584 1233l8 -2M1584 1233l-6 6M1584 1233l-11 -4M1682 1105l-9 -8M1682 1105l1 6M1682 1105l5 9M1585 1226l-2 -11M1585 1226l2 -13M1585 1226l1 9M1553 1172l3 5M1553 1172l-4 11M1553 1172l9 3M1326 1160l3 -14M1326 1160l-5 6M1326 1160l-4 -9M1326 1160l1 11M1326 1160l4 -5M1326 1160l9 8M1390 1180l-7 5M1390 1180l-2 -5M1390 1180l-4 7M1325 1160l9 -4M1325 1160l4 -8M1325 1160l-6 4M1450 1163l2 5M1450 1163l3 8M1450 1163l14 -1M1390 1180l1 -5M1390 1180l-5 8M1390 1180l-13 -1M1505 1231l7 1M1505 1231l2 -6M1505 1231l3 -9M1505 1231l10 -1M1505 1231l-4 4M1505 1231l-4 5M1499 1271l-7 7M1499 1271l-8 1M1499 1271l3 -9M1457 1187l-9 -6M1457 1187l7 7M1457 1187l12 6M1499 1272l9 -4M1499 1272l-4 7M1499 1272l1 11M1553 1172l-2 -6M1553 1172l2 7M1553 1172l-5 8M1455 1165l-3 8M1455 1165l3 10M1455 1165l11 -6M1479 1305l2 5M1479 1305l-13 2M1479 1305l10 3M1438 1263l13 2M1438 1263l2 10M1438 1263l-9 6M1380 1241l-6 5M1380 1241l2 -6M1380 1241l4 -10M1377 1261l8 3M1377 1261l11 -3M1377 1261l-11 7M1407 1218l3 7M1407 1218l-7 6M1407 1218l-7 -7M1399 1230l4 -9M1399 1230l5 11M1399 1230l8 8M1442 1222l-1 11M1442 1222l4 -7M1442 1222l10 2M1407 1181l-10 -5M1407 1181l5 -2M1407 1181l-9 -7M1381 1243l-5 4M1381 1243l4 3M1381 1243l3 11M1451 1210l-3 7M1451 1210l11 -5M1451 1210l-4 -8M1438 1263l-12 -5M1438 1263l-6 1M1438 1263l6 4" fill="none" stroke="#4a5058" stroke-opacity="0.35" stroke-width="1"/>
<path d="M1390 1064h0M1393 1060h0M1389 1061h0M1393 1066h0M1382 1074h0M1383 1077h0M1396 1058h0M1421 1031h0M1424 1031h0M1424 1034h0M1428 1032h0M1406 1040h0M1375 1120h0M1358 1128h0M1361 1137h0M1336 1152h0M1359 1124h0M1327 1151h0M1353 1139h0M1343 1153h0M1324 1163h0M1367 1123h0M1337 1148h0M1379 1114h0M1380 1102h0M1380 1113h0M1387 1100h0M1383 1103h0M1402 1079h0M1437 1102h0M1396 1083h0M1417 1092h0M1416 1096h0M1394 1089h0M1387 1092h0M1427 1102h0M1390 1128h0M1403 1126h0M1414 1127h0M1408 1135h0M1390 1116h0M1402 1125h0M1374 1119h0M1393 1123h0M1428 1128h0M1435 1130h0M1432 1109h0M1427 1115h0M1433 1112h0M1430 1137h0M1430 1110h0M1565 1063h0M1573 1045h0M1573 1032h0M1562 1062h0M1567 1049h0M1569 1068h0M1573 1044h0M1559 1065h0M1569 1062h0M1573 1050h0M1622 1090h0M1645 1100h0M1647 1089h0M1583 1082h0M1600 1094h0M1580 1087h0M1588 1082h0M1612 1093h0M1598 1086h0M1677 1110h0M1587 1088h0M1631 1097h0M1564 1079h0M1606 1083h0M1579 1083h0M1614 1092h0M1638 1093h0M1578 1086h0M1590 1085h0M1593 1083h0M1603 1089h0M1544 1082h0M1552 1076h0M1542 1089h0M1541 1083h0M1529 1085h0M1526 1076h0M1511 1016h0M1516 1020h0M1520 1010h0M1509 1033h0M1533 1013h0M1569 1015h0M1573 1018h0M1582 1016h0M1525 1013h0M1573 1022h0M1565 1024h0M1582 1012h0M1568 1017h0M1537 1007h0M1517 1048h0M1525 1069h0M1522 1071h0M1512 1059h0M1509 1058h0M1512 1057h0M1516 1056h0M1440 1071h0M1438 1068h0M1434 1039h0M1439 1088h0M1433 1046h0M1438 1084h0M1436 1038h0M1439 1058h0M1437 1083h0M1438 1037h0M1461 1059h0M1478 1085h0M1458 1061h0M1473 1074h0M1435 1034h0M1439 1036h0M1451 1059h0M1479 1078h0M1466 1081h0M1459 1062h0M1458 1096h0M1454 1097h0M1450 1093h0M1453 1096h0M1472 1089h0M1473 1087h0M1442 1092h0M1444 1091h0M1488 1039h0M1493 1036h0M1436 1031h0M1458 1031h0M1499 1035h0M1465 1036h0M1495 1033h0M1503 1030h0M1460 1027h0M1492 1030h0M1430 1036h0M1477 1037h0M1511 1076h0M1484 1082h0M1498 1080h0M1501 1082h0M1472 1082h0M1503 1078h0M1477 1078h0M1516 1076h0M1510 1152h0M1509 1143h0M1512 1147h0M1508 1149h0M1491 1155h0M1535 1097h0M1523 1135h0M1528 1111h0M1527 1143h0M1531 1120h0M1523 1147h0M1527 1120h0M1524 1108h0M1528 1114h0M1525 1118h0M1482 1146h0M1478 1158h0M1488 1155h0M1468 1153h0M1496 1148h0M1455 1160h0M1487 1288h0M1487 1284h0M1495 1277h0M1501 1267h0M1484 1303h0M1486 1287h0M1507 1274h0M1524 1268h0M1510 1270h0M1537 1262h0M1563 1259h0M1557 1260h0M1509 1270h0M1556 1261h0M1545 1262h0M1496 1266h0M1500 1264h0M1582 1243h0M1570 1249h0M1572 1238h0M1574 1252h0M1578 1239h0M1579 1230h0M1592 1163h0M1621 1135h0M1629 1139h0M1566 1168h0M1601 1156h0M1619 1145h0M1583 1160h0M1675 1114h0M1647 1125h0M1654 1112h0M1635 1131h0M1598 1149h0M1573 1163h0M1597 1147h0M1614 1153h0M1637 1122h0M1559 1171h0M1595 1141h0M1655 1109h0M1667 1108h0M1581 1163h0M1643 1125h0M1607 1148h0M1642 1126h0M1574 1194h0M1584 1234h0M1553 1172h0M1555 1170h0M1573 1214h0M1560 1184h0M1563 1200h0M1578 1217h0M1564 1189h0M1568 1208h0M1332 1161h0M1354 1168h0M1374 1174h0M1379 1173h0M1340 1164h0M1350 1172h0M1389 1179h0M1345 1164h0M1385 1179h0M1342 1167h0M1381 1176h0M1365 1213h0M1338 1181h0M1337 1182h0M1374 1245h0M1349 1187h0M1360 1208h0M1332 1175h0M1375 1237h0M1351 1200h0M1371 1231h0M1373 1221h0M1355 1208h0M1323 1156h0M1343 1181h0M1364 1222h0M1367 1223h0M1379 1223h0M1393 1188h0M1386 1216h0M1382 1207h0M1390 1189h0M1383 1214h0M1377 1248h0M1387 1201h0M1383 1236h0M1389 1190h0M1448 1167h0M1440 1167h0M1431 1168h0M1435 1173h0M1440 1173h0M1408 1176h0M1434 1170h0M1396 1183h0M1396 1184h0M1503 1238h0M1503 1261h0M1507 1246h0M1499 1251h0M1505 1260h0M1504 1243h0M1467 1195h0M1468 1206h0M1494 1229h0M1500 1229h0M1474 1196h0M1468 1198h0M1470 1192h0M1494 1222h0M1506 1224h0M1498 1218h0M1460 1222h0M1461 1216h0M1478 1235h0M1482 1261h0M1463 1235h0M1448 1212h0M1458 1220h0M1484 1259h0M1489 1253h0M1459 1222h0M1494 1267h0M1468 1228h0M1453 1195h0M1456 1203h0M1447 1209h0M1449 1213h0M1532 1200h0M1525 1206h0M1521 1222h0M1538 1183h0M1509 1230h0M1530 1201h0M1553 1180h0M1558 1178h0M1523 1212h0M1529 1196h0M1532 1198h0M1531 1212h0M1462 1184h0M1454 1168h0M1462 1166h0M1445 1270h0M1480 1304h0M1452 1272h0M1472 1298h0M1464 1284h0M1453 1274h0M1451 1277h0M1463 1278h0M1453 1270h0M1405 1262h0M1410 1259h0M1391 1264h0M1416 1260h0M1425 1267h0M1413 1261h0M1414 1257h0M1375 1264h0M1413 1264h0M1377 1261h0M1383 1261h0M1374 1247h0M1379 1262h0M1404 1227h0M1404 1224h0M1424 1239h0M1430 1243h0M1415 1228h0M1412 1226h0M1411 1242h0M1419 1239h0M1445 1232h0M1440 1223h0M1434 1232h0M1411 1193h0M1408 1223h0M1407 1185h0M1405 1208h0M1415 1195h0M1407 1212h0M1403 1230h0M1389 1238h0M1385 1245h0M1446 1215h0M1440 1226h0M1439 1234h0M1446 1243h0M1435 1243h0M1458 1119h0M1565 1125h0M1529 1122h0M1467 1207h0M1405 1180h0M1590 1084h0M1514 1202h0M1378 1102h0M1413 1263h0M1456 1040h0M1501 1084h0M1365 1129h0M1451 1089h0M1401 1219h0M1497 1075h0M1389 1054h0M1578 1144h0M1387 1255h0M1566 1173h0M1418 1048h0M1430 1188h0M1449 1153h0M1438 1028h0M1385 1196h0M1434 1104h0M1522 1058h0M1553 1179h0M1412 1224h0M1459 1083h0M1465 1203h0M1530 1176h0M1408 1227h0M1535 1204h0M1478 1248h0M1587 1054h0M1550 1062h0M1447 1232h0M1501 1093h0M1516 1127h0M1561 1066h0M1417 1186h0M1386 1141h0M1412 1107h0M1512 1135h0M1583 1139h0M1491 1228h0M1607 1110h0M1559 1028h0M1425 1030h0M1590 1222h0M1464 1036h0M1435 1185h0M1501 1225h0M1548 1244h0M1413 1272h0M1383 1273h0M1494 1049h0M1526 1212h0M1550 1136h0M1374 1106h0M1435 1026h0M1613 1145h0M1417 1063h0M1378 1226h0M1547 1203h0M1533 1158h0M1506 1178h0M1538 1045h0M1600 1251h0M1597 1202h0M1517 1195h0M1595 1084h0M1510 1050h0M1410 1228h0M1446 1154h0M1547 1130h0M1461 1160h0M1412 1082h0M1501 1222h0M1528 1193h0M1387 1144h0M1492 1082h0M1412 1040h0M1460 1211h0M1428 1061h0M1598 1144h0M1432 1110h0M1579 1159h0M1597 1243h0M1415 1274h0M1486 1242h0M1455 1176h0M1542 1163h0M1445 1158h0M1504 1141h0M1467 1047h0M1534 1116h0M1514 1247h0M1405 1073h0M1499 1184h0M1396 1171h0M1528 1136h0M1581 1258h0M1609 1185h0M1478 1076h0M1542 1124h0M1421 1177h0M1453 1225h0M1530 1070h0M1377 1258h0M1412 1110h0M1446 1030h0M1571 1111h0M1614 1098h0M1409 1265h0M1560 1189h0M1378 1267h0M1457 1274h0M1542 1181h0M1591 1172h0M1463 1170h0M1522 1155h0M1577 1200h0M1371 1129h0M1547 1084h0M1516 1036h0M1416 1057h0M1513 1027h0M1554 1209h0M1417 1133h0M1369 1194h0M1545 1223h0M1425 1231h0M1565 1203h0M1402 1075h0M1374 1226h0M1574 1204h0M1572 1122h0M1413 1226h0M1390 1123h0M1385 1070h0M1598 1182h0M1567 1175h0M1488 1058h0M1434 1104h0M1495 1035h0M1434 1028h0M1491 1264h0M1512 1141h0M1372 1186h0M1597 1182h0M1550 1259h0M1472 1098h0M1503 1092h0M1602 1249h0M1612 1160h0M1531 1178h0M1420 1093h0M1422 1265h0M1475 1084h0M1609 1274h0M1392 1109h0M1446 1179h0M1421 1196h0M1504 1222h0M1479 1093h0M1419 1080h0M1379 1225h0M1398 1218h0M1443 1134h0M1578 1135h0M1498 1204h0M1571 1069h0M1411 1272h0M1408 1151h0M1410 1026h0M1478 1057h0M1535 1089h0M1548 1243h0M1476 1121h0M1444 1226h0M1595 1090h0M1564 1208h0M1594 1227h0M1486 1029h0M1541 1269h0M1567 1088h0M1592 1238h0M1597 1054h0M1483 1227h0M1490 1119h0M1587 1070h0M1583 1201h0M1449 1246h0M1542 1083h0M1504 1088h0M1581 1025h0M1441 1195h0M1426 1104h0M1522 1123h0M1435 1177h0M1592 1081h0M1527 1206h0M1512 1077h0M1457 1119h0M1465 1125h0M1591 1102h0M1395 1040h0M1410 1040h0M1594 1084h0M1474 1090h0M1428 1255h0M1385 1062h0M1544 1196h0M1604 1145h0M1486 1077h0M1609 1162h0M1490 1093h0M1515 1183h0M1576 1177h0" stroke="#4f555c" stroke-opacity="0.58" stroke-width="2.2" stroke-linecap="round"/>
</g>
<rect x="1590" y="1266" width="21" height="3.4" fill="#000"/>
<text x="1365.5" y="1019.0" font-size="26.5">D2_iEC_simvastatin</text>
<g clip-path="url(#clip5)">
<rect x="1669" y="1025" width="251" height="251" fill="#b5b9be"/>
<rect x="1669" y="1025" width="251" height="251" fill="url(#g5_0)"/>
<rect x="1669" y="1025" width="251" height="251" fill="url(#g5_1)"/>
<rect x="1669" y="1025" width="251" height="251" fill="url(#g5_2)"/>
<rect x="1669" y="1025" width="251" height="251" fill="url(#g5_3)"/>
<rect x="1669" y="1025" width="251" height="251" filter="url(#grain2)" opacity="0.5"/>
<rect x="1669" y="1025" width="251" height="251" filter="url(#grain)" opacity="0.2"/>
<path d="M1719 1251L1724 1253L1727 1257M1797 1326L1789 1319L1780 1312L1770 1306L1766 1295L1759 1286L1754 1276L1748 1267L1738 1261L1727 1257M1719 1251L1716 1249L1715 1245M1910 1202L1911 1213L1908 1223L1903 1233L1902 1244M1910 1202L1921 1201L1931 1196L1941 1193L1952 1193L1962 1187L1972 1184L1982 1180L1993 1180M1923 1252L1912 1250L1902 1244M1900 1191L1908 1184L1913 1175L1920 1167L1923 1157L1930 1149M1900 1191L1905 1197L1910 1202M1898 1246L1899 1244L1902 1244M1728 1052L1730 1064L1735 1076L1737 1088L1735 1101M1645 1069L1656 1066L1667 1068L1677 1067L1687 1063L1697 1060L1707 1058L1718 1056L1728 1052M1830 1245L1830 1239L1827 1233M1830 1245L1831 1256L1825 1265L1820 1275L1815 1285L1809 1294L1804 1303L1801 1314M1801 1314L1796 1304L1790 1295L1788 1284L1785 1273L1783 1263L1778 1253L1771 1244L1769 1233M1827 1233L1815 1229L1807 1221L1800 1211L1791 1205M1791 1205L1783 1214L1777 1224L1769 1233M1898 1246L1886 1245L1875 1247L1864 1249L1853 1246L1842 1244L1830 1245M1866 1164L1859 1173L1853 1183L1850 1194L1841 1202L1834 1211L1829 1221L1827 1233M1797 1326L1797 1319L1801 1314M1727 1257L1738 1251L1749 1246L1761 1243L1769 1233M1724 1200L1735 1200L1746 1195L1757 1194L1768 1191L1779 1189M1774 1156L1777 1169L1781 1182M1774 1156L1767 1147L1759 1140L1751 1132L1741 1128L1732 1122L1724 1114M1696 1164L1701 1155L1704 1145L1709 1135L1711 1125L1719 1117M1779 1189L1781 1186L1781 1182M1719 1117L1722 1116L1724 1114M1715 1245L1716 1234L1716 1222L1719 1211L1724 1200M1791 1205L1788 1194L1779 1189M1645 1069L1655 1075L1664 1081L1672 1088L1682 1093L1693 1097L1701 1104L1710 1110L1719 1117M1774 1093L1786 1095L1798 1096M1833 981L1832 983L1833 986M1833 986L1832 996L1829 1006L1824 1015L1827 1026L1825 1036L1822 1046L1819 1056L1817 1066M1798 1096L1803 1085L1808 1074L1817 1066M1774 1156L1776 1144L1786 1137L1791 1126L1796 1116L1804 1108M1833 981L1839 989L1847 997L1851 1007L1856 1016L1863 1024L1870 1032L1877 1040L1884 1048L1889 1058M1950 1051L1940 1051L1930 1053L1920 1056L1909 1055L1899 1053L1889 1058M1853 1086L1861 1078L1872 1082M1872 1082L1877 1084L1881 1086M1881 1086L1892 1097L1901 1108M1863 1151L1871 1142L1880 1133L1890 1125L1899 1118M1863 1151L1854 1145L1844 1142M1901 1108L1901 1111L1901 1115M1901 1115L1900 1116L1899 1118M1817 1066L1824 1074L1835 1076L1844 1080L1853 1086M1804 1108L1812 1116L1819 1125L1827 1132L1838 1135M1833 986L1836 996L1839 1006L1846 1014L1850 1024L1854 1033L1859 1042L1862 1052L1863 1063L1866 1073L1872 1082M1889 1058L1888 1073L1881 1086M1950 1051L1943 1059L1935 1067L1930 1077L1922 1084L1915 1092L1908 1100L1901 1108M1866 1164L1864 1158L1863 1151M1930 1149L1922 1141L1912 1136L1905 1128L1899 1118M1781 1182L1790 1176L1799 1171L1808 1165L1818 1161L1827 1155L1836 1150L1844 1142" fill="none" stroke="#5a6068" stroke-opacity="0.22" stroke-width="5.4" stroke-linejoin="round"/>
<path d="M1719 1251L1724 1253L1727 1257M1797 1326L1789 1319L1780 1312L1770 1306L1766 1295L1759 1286L1754 1276L1748 1267L1738 1261L1727 1257M1719 1251L1716 1249L1715 1245M1910 1202L1911 1213L1908 1223L1903 1233L1902 1244M1910 1202L1921 1201L1931 1196L1941 1193L1952 1193L1962 1187L1972 1184L1982 1180L1993 1180M1923 1252L1912 1250L1902 1244M1900 1191L1908 1184L1913 1175L1920 1167L1923 1157L1930 1149M1900 1191L1905 1197L1910 1202M1898 1246L1899 1244L1902 1244M1728 1052L1730 1064L1735 1076L1737 1088L1735 1101M1645 1069L1656 1066L1667 1068L1677 1067L1687 1063L1697 1060L1707 1058L1718 1056L1728 1052M1830 1245L1830 1239L1827 1233M1830 1245L1831 1256L1825 1265L1820 1275L1815 1285L1809 1294L1804 1303L1801 1314M1801 1314L1796 1304L1790 1295L1788 1284L1785 1273L1783 1263L1778 1253L1771 1244L1769 1233M1827 1233L1815 1229L1807 1221L1800 1211L1791 1205M1791 1205L1783 1214L1777 1224L1769 1233M1898 1246L1886 1245L1875 1247L1864 1249L1853 1246L1842 1244L1830 1245M1866 1164L1859 1173L1853 1183L1850 1194L1841 1202L1834 1211L1829 1221L1827 1233M1797 1326L1797 1319L1801 1314M1727 1257L1738 1251L1749 1246L1761 1243L1769 1233M1724 1200L1735 1200L1746 1195L1757 1194L1768 1191L1779 1189M1774 1156L1777 1169L1781 1182M1774 1156L1767 1147L1759 1140L1751 1132L1741 1128L1732 1122L1724 1114M1696 1164L1701 1155L1704 1145L1709 1135L1711 1125L1719 1117M1779 1189L1781 1186L1781 1182M1719 1117L1722 1116L1724 1114M1715 1245L1716 1234L1716 1222L1719 1211L1724 1200M1791 1205L1788 1194L1779 1189M1645 1069L1655 1075L1664 1081L1672 1088L1682 1093L1693 1097L1701 1104L1710 1110L1719 1117M1774 1093L1786 1095L1798 1096M1833 981L1832 983L1833 986M1833 986L1832 996L1829 1006L1824 1015L1827 1026L1825 1036L1822 1046L1819 1056L1817 1066M1798 1096L1803 1085L1808 1074L1817 1066M1774 1156L1776 1144L1786 1137L1791 1126L1796 1116L1804 1108M1833 981L1839 989L1847 997L1851 1007L1856 1016L1863 1024L1870 1032L1877 1040L1884 1048L1889 1058M1950 1051L1940 1051L1930 1053L1920 1056L1909 1055L1899 1053L1889 1058M1853 1086L1861 1078L1872 1082M1872 1082L1877 1084L1881 1086M1881 1086L1892 1097L1901 1108M1863 1151L1871 1142L1880 1133L1890 1125L1899 1118M1863 1151L1854 1145L1844 1142M1901 1108L1901 1111L1901 1115M1901 1115L1900 1116L1899 1118M1817 1066L1824 1074L1835 1076L1844 1080L1853 1086M1804 1108L1812 1116L1819 1125L1827 1132L1838 1135M1833 986L1836 996L1839 1006L1846 1014L1850 1024L1854 1033L1859 1042L1862 1052L1863 1063L1866 1073L1872 1082M1889 1058L1888 1073L1881 1086M1950 1051L1943 1059L1935 1067L1930 1077L1922 1084L1915 1092L1908 1100L1901 1108M1866 1164L1864 1158L1863 1151M1930 1149L1922 1141L1912 1136L1905 1128L1899 1118M1781 1182L1790 1176L1799 1171L1808 1165L1818 1161L1827 1155L1836 1150L1844 1142" fill="none" stroke="#4a5058" stroke-opacity="0.62" stroke-width="1.7" stroke-linejoin="round"/>
<path d="M1719 1251l-5 -6M1719 1251l2 7M1719 1251l7 8M1797 1326l-1 -6M1797 1326l1 -6M1797 1326l13 -2M1719 1251l-3 -11M1719 1251l4 -12M1719 1251l-1 -14M1910 1202l6 9M1910 1202l-11 -8M1910 1202l2 11M1910 1202l6 -8M1910 1202l-10 -10M1910 1202l-8 -5M1923 1252l5 -2M1923 1252l0 10M1923 1252l6 6M1900 1191l-9 1M1900 1191l-4 9M1900 1191l-3 8M1900 1191l-9 0M1900 1191l3 -6M1900 1191l9 8M1898 1246l-4 -13M1898 1246l11 4M1898 1246l-3 10M1728 1052l4 4M1728 1052l1 -13M1728 1052l3 -4M1645 1069l4 -9M1645 1069l-3 6M1645 1069l-3 -12M1830 1245l-6 -2M1830 1245l-10 -2M1830 1245l4 7M1830 1245l12 2M1830 1245l11 8M1830 1245l5 -6M1801 1314l-7 -1M1801 1314l-2 -11M1801 1314l-7 7M1827 1233l5 -3M1827 1233l-2 -6M1827 1233l-11 1M1791 1205l-3 11M1791 1205l6 11M1791 1205l-8 -2M1898 1246l-1 -6M1898 1246l-3 -7M1898 1246l3 -4M1866 1164l-8 -7M1866 1164l13 -3M1866 1164l1 7M1797 1326l-5 3M1797 1326l-6 1M1797 1326l-3 -10M1727 1257l-7 -2M1727 1257l5 -12M1727 1257l-8 3M1724 1200l5 -4M1724 1200l8 -8M1724 1200l4 5M1774 1156l-7 -3M1774 1156l-12 -6M1774 1156l8 6M1774 1156l1 -7M1774 1156l4 -8M1774 1156l-3 6M1696 1164l0 -11M1696 1164l-7 -1M1696 1164l-11 -7M1779 1189l-1 -8M1779 1189l-1 14M1779 1189l9 3M1719 1117l1 10M1719 1117l-2 -6M1719 1117l11 -4M1715 1245l-4 12M1715 1245l-5 6M1715 1245l5 8M1791 1205l-3 5M1791 1205l3 8M1791 1205l-9 10M1645 1069l-5 1M1645 1069l4 -6M1645 1069l4 7M1774 1093l11 -5M1774 1093l6 -6M1774 1093l-10 1M1833 981l-11 6M1833 981l-8 11M1833 981l10 -5M1833 986l7 12M1833 986l6 -4M1833 986l-4 -6M1798 1096l7 -10M1798 1096l-9 3M1798 1096l3 8M1774 1156l1 -6M1774 1156l-7 -4M1774 1156l9 -3M1833 981l6 4M1833 981l-5 3M1833 981l-4 4M1950 1051l0 11M1950 1051l3 -9M1950 1051l10 8M1853 1086l5 -1M1853 1086l7 -10M1853 1086l-4 12M1872 1082l-1 13M1872 1082l-5 5M1872 1082l-2 5M1881 1086l6 11M1881 1086l-10 -0M1881 1086l-5 12M1863 1151l6 -1M1863 1151l-7 5M1863 1151l-6 -11M1863 1151l14 -1M1863 1151l-1 -6M1863 1151l1 -6M1901 1108l2 8M1901 1108l-6 -1M1901 1108l7 6M1901 1115l5 5M1901 1115l-3 -10M1901 1115l11 5M1817 1066l5 -9M1817 1066l3 -10M1817 1066l0 11M1804 1108l-10 3M1804 1108l-2 5M1804 1108l6 -12M1833 986l3 -9M1833 986l10 -5M1833 986l-5 -12M1889 1058l10 -5M1889 1058l-2 -5M1889 1058l-3 8M1950 1051l10 -3M1950 1051l11 -6M1950 1051l9 3M1866 1164l-5 7M1866 1164l4 -7M1866 1164l1 12M1930 1149l-13 -3M1930 1149l13 -5M1930 1149l-6 5M1781 1182l-2 10M1781 1182l9 -5M1781 1182l2 -6" fill="none" stroke="#4a5058" stroke-opacity="0.37" stroke-width="1"/>
<path d="M1721 1257h0M1785 1310h0M1728 1255h0M1795 1325h0M1740 1264h0M1800 1319h0M1760 1288h0M1794 1322h0M1765 1295h0M1747 1278h0M1786 1309h0M1750 1273h0M1767 1295h0M1784 1311h0M1763 1297h0M1749 1269h0M1782 1307h0M1721 1249h0M1904 1213h0M1905 1233h0M1912 1226h0M1905 1215h0M1912 1202h0M1913 1207h0M1908 1214h0M1965 1190h0M1952 1186h0M1962 1183h0M1960 1196h0M1929 1195h0M1991 1189h0M1937 1198h0M1951 1185h0M1949 1187h0M1906 1207h0M1960 1184h0M1922 1198h0M1963 1194h0M1962 1184h0M1917 1256h0M1904 1250h0M1909 1250h0M1909 1175h0M1931 1150h0M1901 1187h0M1907 1177h0M1915 1166h0M1910 1188h0M1925 1146h0M1914 1176h0M1908 1197h0M1903 1185h0M1734 1080h0M1728 1088h0M1734 1056h0M1732 1098h0M1739 1095h0M1736 1096h0M1733 1060h0M1729 1063h0M1708 1052h0M1658 1064h0M1685 1070h0M1654 1061h0M1670 1063h0M1730 1058h0M1697 1057h0M1673 1063h0M1712 1054h0M1650 1068h0M1650 1068h0M1683 1057h0M1725 1048h0M1677 1061h0M1824 1235h0M1827 1262h0M1819 1283h0M1809 1290h0M1830 1253h0M1821 1264h0M1804 1299h0M1820 1259h0M1811 1281h0M1819 1261h0M1821 1267h0M1809 1282h0M1831 1255h0M1790 1280h0M1784 1280h0M1790 1301h0M1764 1238h0M1769 1230h0M1797 1316h0M1790 1302h0M1785 1262h0M1785 1274h0M1799 1292h0M1776 1264h0M1778 1253h0M1781 1263h0M1768 1246h0M1801 1208h0M1823 1232h0M1815 1221h0M1821 1227h0M1827 1234h0M1812 1220h0M1807 1221h0M1791 1204h0M1775 1224h0M1782 1212h0M1781 1220h0M1773 1229h0M1855 1244h0M1895 1239h0M1876 1242h0M1867 1247h0M1900 1245h0M1863 1244h0M1850 1249h0M1848 1249h0M1897 1249h0M1893 1238h0M1840 1249h0M1839 1214h0M1850 1197h0M1842 1203h0M1863 1166h0M1849 1190h0M1841 1225h0M1832 1221h0M1850 1193h0M1839 1216h0M1846 1208h0M1834 1212h0M1860 1172h0M1858 1176h0M1803 1316h0M1803 1317h0M1732 1255h0M1729 1261h0M1764 1236h0M1765 1233h0M1761 1230h0M1753 1246h0M1757 1240h0M1758 1241h0M1751 1194h0M1728 1195h0M1731 1194h0M1762 1192h0M1731 1199h0M1748 1193h0M1731 1200h0M1760 1193h0M1754 1196h0M1774 1163h0M1781 1178h0M1778 1168h0M1773 1167h0M1766 1147h0M1743 1130h0M1771 1149h0M1763 1146h0M1768 1146h0M1762 1145h0M1760 1147h0M1766 1144h0M1755 1144h0M1772 1157h0M1707 1144h0M1706 1134h0M1698 1158h0M1715 1126h0M1716 1128h0M1696 1161h0M1702 1152h0M1713 1128h0M1778 1188h0M1721 1211h0M1721 1221h0M1718 1242h0M1722 1224h0M1729 1199h0M1719 1223h0M1724 1201h0M1792 1197h0M1785 1191h0M1789 1197h0M1667 1086h0M1698 1102h0M1681 1093h0M1675 1089h0M1650 1072h0M1707 1116h0M1657 1075h0M1709 1112h0M1675 1077h0M1661 1076h0M1702 1111h0M1694 1099h0M1683 1094h0M1683 1095h0M1794 1098h0M1800 1089h0M1801 1091h0M1780 1096h0M1828 1033h0M1820 1040h0M1828 1009h0M1823 1065h0M1833 993h0M1820 1041h0M1812 1055h0M1819 1059h0M1825 997h0M1825 1018h0M1828 1006h0M1829 995h0M1833 991h0M1799 1097h0M1802 1088h0M1806 1073h0M1814 1068h0M1801 1090h0M1801 1123h0M1799 1119h0M1773 1147h0M1787 1129h0M1785 1131h0M1770 1146h0M1781 1144h0M1774 1144h0M1793 1125h0M1864 1003h0M1886 1047h0M1836 986h0M1885 1046h0M1839 996h0M1841 995h0M1883 1035h0M1872 1036h0M1868 1016h0M1875 1051h0M1836 986h0M1840 983h0M1868 1026h0M1834 982h0M1842 1004h0M1901 1055h0M1903 1055h0M1911 1054h0M1949 1049h0M1898 1054h0M1916 1049h0M1907 1059h0M1897 1059h0M1909 1056h0M1945 1051h0M1859 1084h0M1858 1084h0M1848 1082h0M1870 1077h0M1895 1100h0M1887 1090h0M1894 1106h0M1885 1094h0M1889 1127h0M1874 1146h0M1882 1139h0M1870 1147h0M1886 1126h0M1867 1150h0M1890 1124h0M1889 1128h0M1865 1159h0M1850 1140h0M1856 1156h0M1901 1111h0M1850 1079h0M1834 1077h0M1818 1070h0M1830 1074h0M1825 1071h0M1812 1062h0M1835 1131h0M1838 1131h0M1833 1127h0M1819 1129h0M1810 1109h0M1817 1122h0M1803 1113h0M1844 1024h0M1855 1027h0M1855 1042h0M1847 1025h0M1829 983h0M1867 1070h0M1855 1029h0M1861 1058h0M1865 1077h0M1858 1057h0M1872 1071h0M1854 1039h0M1860 1055h0M1850 1022h0M1854 1029h0M1871 1061h0M1836 995h0M1889 1058h0M1883 1058h0M1886 1072h0M1883 1081h0M1927 1077h0M1913 1090h0M1919 1092h0M1905 1112h0M1924 1088h0M1908 1096h0M1924 1080h0M1918 1082h0M1945 1053h0M1906 1102h0M1918 1090h0M1939 1061h0M1861 1165h0M1862 1162h0M1921 1145h0M1917 1136h0M1900 1123h0M1901 1121h0M1907 1127h0M1905 1118h0M1900 1121h0M1795 1168h0M1808 1168h0M1783 1177h0M1817 1162h0M1808 1165h0M1838 1148h0M1800 1173h0M1796 1173h0M1830 1149h0M1788 1184h0M1801 1170h0M1837 1144h0M1793 1220h0M1758 1098h0M1835 1099h0M1870 1262h0M1708 1073h0M1788 1087h0M1794 1269h0M1698 1037h0M1903 1151h0M1672 1188h0M1720 1137h0M1907 1121h0M1682 1067h0M1689 1272h0M1737 1271h0M1770 1269h0M1896 1208h0M1735 1214h0M1709 1134h0M1825 1195h0M1782 1088h0M1800 1152h0M1679 1044h0M1685 1244h0M1811 1143h0M1871 1130h0M1800 1198h0M1710 1029h0M1920 1097h0M1856 1231h0M1903 1097h0M1734 1080h0M1719 1134h0M1733 1063h0M1784 1161h0M1758 1070h0M1751 1217h0M1845 1238h0M1740 1100h0M1848 1087h0M1762 1182h0M1890 1031h0M1719 1175h0M1738 1247h0M1809 1199h0M1904 1050h0M1895 1087h0M1711 1183h0M1687 1230h0M1785 1062h0M1746 1174h0M1766 1199h0M1905 1050h0M1780 1148h0M1912 1029h0M1800 1059h0M1899 1165h0M1819 1090h0M1838 1232h0M1794 1246h0M1888 1121h0M1752 1086h0M1807 1051h0M1774 1142h0M1894 1063h0M1857 1270h0M1874 1225h0M1840 1195h0M1749 1162h0M1848 1259h0M1912 1106h0M1769 1249h0M1695 1250h0M1851 1069h0M1830 1076h0M1774 1058h0M1895 1261h0M1769 1235h0M1868 1187h0M1819 1257h0M1800 1130h0M1774 1211h0M1797 1143h0M1887 1062h0M1866 1204h0M1711 1154h0M1837 1252h0M1849 1268h0M1897 1101h0M1749 1030h0M1763 1062h0M1903 1110h0M1785 1232h0M1712 1269h0M1761 1078h0M1762 1244h0M1841 1211h0M1842 1137h0M1758 1200h0M1879 1070h0M1719 1035h0M1873 1174h0M1915 1124h0M1714 1185h0M1886 1041h0M1809 1147h0M1704 1126h0M1854 1102h0M1887 1102h0M1749 1262h0M1837 1056h0M1918 1169h0M1912 1040h0M1775 1204h0M1847 1175h0M1919 1271h0M1799 1205h0M1716 1049h0M1908 1212h0M1750 1117h0M1851 1270h0M1908 1056h0M1695 1171h0M1698 1065h0M1845 1077h0M1780 1082h0M1730 1252h0M1709 1160h0M1855 1157h0M1753 1201h0M1704 1088h0M1701 1152h0M1857 1199h0M1896 1057h0M1802 1053h0M1775 1071h0M1886 1268h0M1695 1054h0M1825 1140h0M1788 1135h0M1796 1148h0M1739 1056h0M1816 1140h0M1808 1152h0M1893 1260h0M1841 1189h0M1709 1171h0M1871 1267h0M1672 1203h0M1694 1096h0M1859 1230h0M1737 1085h0M1900 1153h0M1749 1266h0M1904 1093h0M1711 1073h0M1685 1200h0M1690 1103h0M1714 1159h0M1740 1177h0M1703 1038h0M1719 1127h0M1813 1095h0M1898 1089h0M1882 1254h0M1735 1033h0M1891 1134h0M1729 1140h0M1825 1126h0M1750 1253h0M1819 1066h0M1839 1168h0M1896 1078h0M1871 1066h0M1914 1241h0M1721 1099h0M1908 1045h0M1878 1035h0M1726 1090h0M1742 1250h0M1751 1119h0M1763 1239h0M1802 1067h0M1678 1228h0M1773 1098h0M1915 1175h0M1782 1140h0M1792 1092h0M1730 1119h0M1800 1274h0M1706 1248h0M1854 1211h0M1865 1209h0M1884 1093h0M1706 1101h0M1706 1259h0M1838 1107h0M1673 1213h0M1685 1077h0M1717 1265h0M1682 1236h0M1745 1093h0M1686 1173h0M1755 1245h0M1722 1201h0M1779 1059h0M1674 1159h0M1843 1163h0M1793 1071h0M1880 1113h0M1812 1087h0M1790 1055h0M1836 1210h0M1889 1237h0M1760 1154h0M1766 1091h0M1741 1201h0M1800 1187h0M1910 1040h0M1792 1215h0" stroke="#4f555c" stroke-opacity="0.62" stroke-width="2.2" stroke-linecap="round"/>
</g>
<rect x="1896" y="1266" width="21" height="3.4" fill="#000"/>
<text x="1657.0" y="1019.0" font-size="26.5">D3_iEC_simvastatin</text>
<rect x="222" y="1404" width="337" height="443" fill="#fdfdf9"/>
<path d="M298.3 1823.4L300.4 1823.4L302.6 1823.4L304.8 1823.4L307.0 1823.4L309.1 1823.4L311.3 1823.4L313.5 1823.4L315.6 1823.4L317.8 1823.4L320.0 1823.4L322.2 1823.4L324.3 1823.4L326.5 1823.4L328.7 1823.4L330.8 1823.4L333.0 1823.4L335.2 1823.4L337.4 1823.4L339.5 1823.4L341.7 1823.4L343.9 1823.4L346.0 1823.4L348.2 1823.4L350.4 1823.4L352.6 1823.4L354.7 1823.4L356.9 1823.4L359.1 1823.4L361.2 1823.4L363.4 1823.4L365.6 1823.4L371.3 1840.2L376.4 1823.4L378.6 1823.4L380.8 1823.4L383.0 1823.4L385.1 1823.4L387.3 1823.4L389.5 1823.4L391.6 1823.4L393.8 1823.4L396.0 1823.4L398.2 1823.4L400.3 1823.4L402.5 1823.4L404.7 1823.4L406.8 1823.4L409.0 1823.4L411.2 1823.4L413.4 1823.4L415.5 1823.4L417.7 1823.4L419.9 1823.4L422.1 1823.4L424.2 1823.4L426.4 1823.4L428.6 1823.4L430.7 1823.4L432.9 1823.4L435.1 1823.4L437.3 1823.4L439.4 1823.4L441.6 1823.4L443.8 1823.4L445.9 1823.4L448.1 1823.4L450.3 1823.4L452.5 1823.4L454.6 1823.4L456.8 1823.4L459.0 1823.4L461.1 1823.4L463.3 1823.4L465.5 1823.4L467.7 1823.4L469.8 1823.4L469.8 1827.4L467.7 1830.1L465.5 1831.8L463.3 1833.2L461.1 1834.4L459.0 1835.4L456.8 1836.4L454.6 1837.3L452.5 1838.1L450.3 1838.8L448.1 1839.5L445.9 1840.1L443.8 1840.7L441.6 1841.3L439.4 1841.9L437.3 1842.4L435.1 1842.8L432.9 1843.3L430.7 1843.7L428.6 1844.1L426.4 1844.5L424.2 1844.8L422.1 1845.1L419.9 1845.4L417.7 1845.7L415.5 1846.0L413.4 1846.2L411.2 1846.4L409.0 1846.6L406.8 1846.8L404.7 1847.0L402.5 1847.1L400.3 1847.3L398.2 1847.4L396.0 1847.5L393.8 1847.6L391.6 1847.6L389.5 1847.7L387.3 1847.7L385.1 1847.7L383.0 1847.7L380.8 1847.7L378.6 1847.7L376.4 1847.6L374.3 1847.6L372.1 1847.5L369.9 1847.4L367.8 1847.3L365.6 1847.1L363.4 1847.0L361.2 1846.8L359.1 1846.6L356.9 1846.4L354.7 1846.2L352.6 1846.0L350.4 1845.7L348.2 1845.4L346.0 1845.1L343.9 1844.8L341.7 1844.5L339.5 1844.1L337.4 1843.7L335.2 1843.3L333.0 1842.8L330.8 1842.4L328.7 1841.9L326.5 1841.3L324.3 1840.7L322.2 1840.1L320.0 1839.5L317.8 1838.8L315.6 1838.1L313.5 1837.3L311.3 1836.4L309.1 1835.4L307.0 1834.4L304.8 1833.2L302.6 1831.8L300.4 1830.1L298.3 1827.4Z" fill="#b3b0ab" stroke="#b3b0ab" stroke-width="2.5" stroke-linejoin="round"/>
<path d="M316.0 1837.2h0M316.2 1823.0h0M360.7 1845.4h0M343.3 1842.7h0M416.8 1843.6h0M394.2 1824.8h0M395.1 1847.8h0M402.1 1845.1h0M453.4 1837.4h0M343.6 1842.2h0M372.0 1846.1h0M329.7 1824.7h0M460.6 1824.2h0M420.6 1847.4h0M449.4 1839.6h0M351.1 1847.1h0M429.6 1845.8h0M403.4 1825.5h0M441.8 1843.0h0M450.7 1839.2h0M340.1 1821.7h0M355.4 1846.8h0M430.9 1845.5h0M367.2 1844.9h0M430.1 1842.5h0M420.8 1821.8h0M319.9 1825.0h0M433.3 1843.5h0M322.4 1825.0h0M337.5 1845.6h0M454.0 1824.9h0M384.8 1846.7h0M335.2 1844.9h0M395.4 1824.3h0M411.8 1847.9h0M350.7 1843.1h0M313.6 1836.5h0M442.1 1825.0h0M378.6 1845.6h0M425.8 1822.5h0M341.8 1824.6h0M317.7 1838.3h0M345.2 1823.1h0M336.7 1824.1h0M428.7 1842.0h0M369.3 1846.0h0M388.5 1844.7h0M309.9 1835.1h0M297.4 1827.6h0M459.8 1824.4h0M412.0 1844.5h0M363.6 1844.5h0M420.5 1823.3h0M437.7 1841.4h0M303.7 1830.4h0M423.3 1823.6h0M456.0 1834.2h0M361.1 1845.7h0M376.7 1845.3h0M317.7 1823.9h0M390.3 1849.2h0M387.3 1824.9h0M294.2 1834.0h0M330.6 1823.4h0M345.6 1842.6h0M434.6 1843.0h0M429.3 1825.3h0M321.7 1839.5h0M305.3 1834.6h0M297.5 1824.6h0M320.6 1841.4h0M415.5 1821.8h0M375.4 1845.0h0M454.0 1823.2h0M417.3 1847.0h0M346.3 1824.3h0M420.7 1845.1h0M466.5 1831.5h0M323.4 1840.6h0M315.7 1838.2h0M400.6 1844.6h0M461.7 1822.3h0M380.9 1847.8h0M366.4 1845.1h0M337.8 1843.5h0M425.6 1844.8h0M414.6 1848.2h0M402.3 1844.7h0M315.8 1838.5h0M396.9 1824.1h0M326.3 1843.5h0M363.7 1847.1h0M301.5 1829.9h0M431.5 1824.1h0M414.2 1847.2h0M457.5 1821.7h0M444.9 1825.1h0M373.6 1845.7h0M305.2 1825.4h0M338.3 1822.8h0M367.5 1845.0h0M343.2 1845.6h0M296.0 1832.2h0M349.0 1846.1h0M362.6 1847.1h0M342.5 1822.0h0M347.1 1843.6h0M439.4 1824.9h0M325.7 1822.7h0M458.8 1823.9h0M316.9 1822.7h0M399.3 1824.0h0M355.9 1846.0h0M424.0 1822.1h0M364.1 1844.3h0M376.0 1845.5h0M455.3 1835.9h0M409.1 1844.4h0M395.0 1824.8h0M389.7 1846.4h0M405.2 1847.4h0M385.8 1845.2h0M377.9 1848.5h0M339.3 1824.3h0M453.6 1834.6h0M322.6 1822.4h0M397.7 1822.6h0M296.0 1831.6h0M444.2 1821.9h0M359.3 1848.1h0M363.3 1848.7h0M345.2 1845.5h0M352.4 1846.4h0M352.9 1825.6h0M427.5 1824.7h0M463.2 1832.7h0M418.8 1824.6h0M380.8 1848.4h0M474.6 1824.8h0M353.8 1823.8h0M321.6 1839.0h0M421.0 1825.4h0M410.9 1822.9h0M458.7 1833.1h0M351.7 1822.1h0M424.4 1821.6h0M308.4 1834.4h0M469.7 1824.3h0M312.1 1836.4h0M455.8 1838.4h0M357.0 1824.9h0M343.7 1824.2h0M448.9 1836.7h0M336.2 1841.7h0M476.1 1823.8h0M394.9 1845.2h0M365.7 1846.7h0M298.6 1828.7h0M402.9 1821.7h0M444.3 1823.0h0M428.6 1845.9h0M303.6 1824.8h0M439.0 1844.1h0M396.5 1849.3h0M340.6 1844.6h0M423.6 1844.7h0M405.0 1825.1h0M306.8 1835.4h0M322.3 1841.3h0M333.6 1841.7h0M359.8 1848.4h0M341.0 1844.0h0M454.1 1824.8h0M298.7 1828.1h0M339.4 1823.3h0M388.2 1825.1h0M328.4 1841.0h0M474.4 1827.0h0M316.8 1824.3h0M358.8 1848.8h0M450.9 1822.5h0M345.6 1846.3h0M404.1 1822.4h0M465.8 1830.1h0M315.6 1839.7h0M392.6 1848.0h0M357.1 1823.6h0M367.9 1848.0h0M449.6 1824.1h0M454.1 1824.7h0M343.0 1824.3h0M469.8 1825.8h0M423.6 1842.4h0M353.2 1848.0h0M448.7 1837.0h0M357.3 1844.1h0M399.9 1824.0h0M442.4 1839.3h0M462.1 1823.8h0M341.1 1822.5h0M440.8 1841.4h0M456.4 1834.4h0M392.3 1847.8h0M306.2 1822.6h0M392.0 1823.3h0M314.8 1822.5h0M397.2 1846.5h0M364.9 1848.7h0M300.5 1831.1h0M410.2 1845.6h0M445.0 1840.5h0M306.8 1836.1h0M304.4 1833.1h0M434.0 1841.3h0M335.5 1843.0h0M306.0 1833.0h0M445.5 1838.2h0M398.0 1849.3h0M455.7 1836.1h0M392.3 1823.1h0M387.6 1823.3h0M354.7 1825.3h0M381.2 1848.8h0M397.7 1825.1h0M347.3 1844.3h0M307.3 1834.4h0M376.1 1844.8h0M334.9 1824.7h0M402.9 1847.6h0M380.3 1846.7h0M420.1 1847.1h0M339.2 1843.0h0M369.2 1849.0h0M403.1 1846.5h0M420.1 1824.9h0M358.3 1825.2h0M418.3 1844.5h0M365.3 1846.3h0M392.0 1844.6h0M300.2 1829.9h0M438.5 1823.9h0M409.5 1847.2h0M342.1 1845.4h0M339.2 1841.3h0M453.2 1821.9h0M432.8 1823.8h0M319.9 1823.0h0M468.1 1825.4h0M352.5 1821.6h0M416.8 1848.0h0M338.4 1822.3h0M347.9 1824.5h0M353.2 1847.4h0M394.5 1846.8h0M323.7 1825.1h0M330.6 1841.4h0M442.5 1822.6h0M418.9 1845.9h0M325.5 1823.9h0M413.0 1846.5h0M310.7 1834.4h0M355.5 1825.1h0M363.7 1846.5h0M334.6 1822.0h0M443.2 1840.5h0M356.1 1848.1h0M427.8 1841.4h0M295.6 1826.3h0M325.9 1839.4h0M370.1 1844.6h0M448.9 1838.5h0M464.9 1829.5h0M456.6 1822.8h0M419.5 1844.6h0M328.8 1840.5h0M441.5 1825.2h0M435.2 1844.6h0M314.6 1837.1h0M353.5 1844.2h0M420.4 1843.0h0M412.3 1825.2h0M431.8 1841.7h0M449.3 1841.3h0M433.1 1821.9h0M302.9 1831.4h0M445.5 1840.0h0M366.6 1846.9h0M399.0 1846.8h0M410.4 1823.3h0M300.5 1824.5h0M320.3 1840.0h0M358.0 1824.4h0M316.7 1835.6h0M371.8 1845.5h0M466.1 1829.2h0M341.3 1843.5h0M336.0 1844.6h0M340.9 1822.3h0M313.3 1835.5h0M452.0 1836.5h0M336.2 1822.2h0M367.8 1849.3h0M409.2 1825.6h0M388.8 1825.5h0M317.6 1838.6h0M329.4 1825.5h0M340.3 1846.4h0M345.5 1823.1h0M405.3 1823.1h0M298.5 1823.2h0M332.6 1843.7h0M453.5 1839.0h0M440.3 1822.1h0M418.1 1845.3h0M395.3 1844.7h0M341.4 1825.5h0M327.5 1824.6h0M387.1 1822.9h0M467.2 1832.0h0M345.6 1843.2h0M447.2 1841.6h0M352.3 1822.4h0M455.8 1835.2h0M436.5 1823.9h0M321.1 1840.1h0M418.6 1825.0h0M302.9 1829.7h0M412.7 1823.0h0M438.0 1822.7h0M452.4 1822.6h0M443.3 1842.9h0M463.8 1833.5h0M317.2 1825.5h0M440.7 1839.8h0M461.5 1823.9h0M408.3 1822.7h0M339.0 1841.5h0M408.0 1846.0h0M401.6 1844.6h0M336.7 1844.1h0M355.0 1822.9h0M314.7 1839.4h0M423.4 1825.2h0M385.1 1848.4h0M431.0 1824.5h0M393.0 1849.5h0M404.1 1845.5h0M431.1 1842.6h0M330.8 1824.4h0M420.3 1823.2h0M332.6 1824.1h0M435.4 1842.6h0M424.6 1842.9h0M467.9 1830.2h0M477.1 1831.8h0M442.6 1822.4h0M461.8 1832.3h0M453.2 1839.6h0M393.0 1849.6h0M466.2 1823.0h0M431.3 1823.7h0M314.6 1837.2h0M400.4 1848.8h0M355.8 1843.5h0M333.2 1842.2h0M339.0 1843.2h0M301.2 1823.4h0M319.2 1824.9h0M427.4 1845.1h0M362.7 1847.2h0M338.0 1843.7h0M420.0 1847.4h0M447.2 1838.6h0M394.2 1824.8h0M457.2 1837.5h0M413.7 1845.2h0M417.6 1843.7h0M306.7 1824.5h0M301.6 1830.3h0M436.2 1823.7h0M336.6 1844.6h0M329.3 1823.9h0M313.8 1823.7h0M447.0 1838.4h0M413.6 1823.8h0M319.3 1823.8h0M313.0 1837.8h0M375.1 1844.8h0M371.7 1844.8h0M440.1 1821.8h0M429.1 1841.0h0M380.4 1845.3h0M442.0 1824.6h0M373.9 1845.8h0M299.9 1831.0h0M450.6 1824.4h0M454.4 1835.8h0M338.7 1842.9h0M357.4 1845.5h0M439.8 1824.3h0M340.0 1845.3h0M412.3 1847.3h0M382.0 1847.5h0M313.9 1834.8h0M338.9 1824.3h0M463.4 1825.5h0M341.5 1843.7h0M461.0 1836.5h0M297.5 1826.1h0M466.8 1828.6h0M423.9 1843.5h0M345.9 1842.9h0M333.1 1840.5h0M378.2 1848.2h0M344.3 1823.7h0M463.2 1830.4h0M462.6 1831.6h0M345.5 1844.0h0M302.3 1830.5h0M434.9 1824.8h0M453.1 1836.7h0M293.6 1833.1h0M330.4 1822.5h0M415.1 1844.7h0M319.6 1839.8h0M429.0 1842.3h0M421.3 1822.1h0M301.7 1824.1h0M310.8 1833.9h0M440.2 1842.8h0M421.3 1825.3h0M308.6 1823.1h0M443.0 1840.5h0M441.1 1841.5h0M414.0 1822.0h0M355.8 1824.0h0M448.1 1822.9h0M445.3 1839.5h0M322.3 1824.4h0M396.6 1847.5h0M406.6 1823.3h0M338.9 1822.9h0M401.8 1848.6h0M395.6 1844.8h0M290.3 1836.4h0M299.0 1841.4h0M471.2 1830.0h0M478.1 1826.9h0M462.6 1839.5h0M450.5 1843.3h0M311.0 1837.6h0M485.0 1827.5h0M486.7 1830.7h0" stroke="#b3b0ab" stroke-width="3.4" stroke-linecap="round" fill="none"/>
<path d="M351.5 1798.6h0M232.7 1813.1h0M312.4 1743.2h0M344.4 1740.3h0M345.0 1764.5h0M313.6 1803.4h0M343.5 1775.2h0M325.0 1819.8h0M341.4 1808.0h0M324.3 1795.9h0M319.4 1814.2h0M297.1 1721.3h0M355.3 1822.9h0M328.6 1813.8h0M358.8 1821.1h0M346.9 1764.3h0M345.8 1783.6h0M325.5 1802.7h0M290.3 1817.0h0M304.8 1783.3h0M353.4 1808.5h0M361.1 1803.1h0M332.8 1777.0h0M327.0 1805.0h0M357.3 1822.9h0M320.7 1813.5h0M307.0 1821.2h0M330.9 1737.7h0M295.7 1759.6h0M345.2 1732.1h0M325.9 1713.7h0M337.5 1763.2h0M362.1 1812.3h0M349.7 1768.8h0M352.8 1821.7h0M345.3 1804.3h0M354.5 1804.0h0M304.6 1789.2h0M337.6 1803.9h0M309.8 1810.5h0M340.3 1785.4h0M291.0 1783.8h0M319.4 1818.3h0M348.3 1812.1h0M344.4 1819.7h0M301.7 1765.7h0M339.7 1747.7h0M353.1 1770.4h0M321.7 1810.5h0M355.5 1780.1h0M339.3 1814.4h0M339.9 1811.7h0M342.3 1777.1h0M351.1 1762.3h0M319.6 1788.1h0M318.9 1800.0h0M343.9 1782.8h0M298.3 1794.3h0M344.8 1801.0h0M348.9 1806.7h0M339.1 1801.6h0M339.0 1754.1h0M348.0 1767.2h0M321.0 1785.2h0M344.4 1808.1h0M324.2 1811.0h0M356.3 1792.2h0M292.6 1756.0h0M325.1 1820.2h0M359.4 1790.4h0M309.8 1585.2h0M337.3 1815.1h0M317.8 1807.1h0M361.8 1809.9h0M324.6 1775.8h0M325.5 1820.8h0M337.5 1818.4h0M341.2 1807.5h0M336.1 1784.1h0M342.4 1739.4h0M329.8 1819.5h0M325.9 1805.5h0M343.4 1689.8h0M337.0 1823.1h0M355.0 1796.5h0M332.5 1821.0h0M340.8 1821.9h0M349.7 1745.3h0M353.5 1771.4h0M322.5 1796.2h0M359.6 1794.1h0M346.1 1772.1h0M325.6 1788.1h0M338.3 1786.7h0M345.8 1782.1h0M331.7 1821.8h0M349.7 1780.2h0M318.7 1656.5h0M346.4 1785.7h0M330.9 1817.8h0M356.3 1780.2h0M342.4 1776.0h0M301.4 1803.1h0M354.6 1816.3h0M310.7 1659.7h0M352.1 1823.3h0M324.8 1735.2h0M341.1 1674.9h0M315.7 1694.4h0M327.8 1813.0h0M318.8 1810.2h0M360.0 1806.6h0M360.4 1808.7h0M333.4 1775.9h0M343.8 1781.0h0M339.3 1772.7h0M314.6 1766.9h0M326.8 1822.2h0M340.3 1815.2h0M327.0 1781.1h0M319.2 1814.1h0M337.1 1767.9h0M347.2 1764.5h0M328.4 1809.3h0M339.1 1804.6h0M359.2 1790.6h0M349.0 1810.3h0M333.2 1765.3h0M345.0 1820.0h0M339.9 1794.3h0M326.6 1809.3h0M352.3 1765.6h0M340.7 1771.0h0M356.2 1821.8h0M303.8 1788.9h0M300.1 1773.9h0M346.1 1803.1h0M339.1 1807.8h0M357.3 1807.3h0M350.7 1758.3h0M332.2 1804.5h0M359.6 1784.9h0M348.2 1802.2h0M343.9 1770.7h0M358.7 1795.6h0M354.1 1800.6h0M334.5 1770.1h0M358.1 1780.9h0M357.1 1771.3h0M348.0 1806.9h0M315.6 1772.2h0M321.8 1785.8h0M324.0 1821.7h0M342.0 1822.4h0M358.4 1787.9h0M329.9 1785.9h0M355.1 1803.5h0M356.9 1778.5h0M306.0 1717.8h0M329.3 1720.0h0M357.8 1809.8h0M282.2 1799.3h0M315.6 1796.3h0M350.3 1811.0h0M321.6 1804.9h0M326.3 1811.8h0M341.9 1757.7h0M338.6 1777.6h0M309.7 1745.1h0M344.9 1763.6h0M349.1 1800.7h0M302.4 1728.2h0M349.1 1786.2h0M350.9 1802.7h0M349.4 1776.5h0M344.1 1776.2h0M346.9 1657.3h0M325.6 1801.5h0M345.4 1764.3h0M338.2 1813.6h0M358.2 1782.6h0M336.3 1810.8h0M307.5 1752.8h0M309.6 1784.7h0M315.9 1763.2h0M338.5 1779.2h0M283.2 1767.9h0M345.3 1766.6h0M303.3 1757.5h0M335.1 1778.7h0M328.7 1744.6h0M285.0 1769.8h0M321.3 1771.4h0M343.8 1738.9h0M363.2 1821.6h0M321.1 1804.5h0M358.3 1801.6h0M314.1 1802.6h0M341.2 1818.7h0M313.2 1774.0h0M351.0 1758.9h0M343.5 1811.0h0M320.0 1803.5h0M344.1 1758.7h0M341.3 1821.5h0M359.9 1790.6h0M346.8 1814.8h0M343.0 1789.2h0M321.3 1802.8h0M341.1 1819.7h0M336.9 1819.9h0M354.7 1755.6h0M359.2 1797.8h0M317.9 1809.8h0M325.7 1817.3h0M342.5 1821.6h0M317.3 1821.2h0M329.2 1768.0h0M316.7 1801.8h0M358.1 1821.5h0M327.1 1804.2h0M312.0 1719.4h0M341.5 1801.9h0M327.8 1821.7h0M323.4 1799.3h0M334.6 1679.1h0M341.5 1791.7h0M350.9 1803.2h0M322.3 1799.4h0M319.9 1798.7h0M337.8 1747.4h0M341.2 1821.3h0M297.1 1720.0h0M323.2 1788.6h0M357.0 1797.3h0M315.7 1818.6h0M330.2 1822.1h0M326.2 1822.3h0M354.7 1822.4h0M310.8 1813.3h0M312.7 1721.9h0M283.2 1807.2h0M333.7 1784.6h0M354.2 1776.1h0M350.5 1733.9h0M345.1 1808.5h0M310.8 1730.6h0M324.0 1782.1h0M320.2 1814.6h0M334.1 1759.0h0M348.2 1778.1h0M345.5 1817.6h0M346.2 1785.2h0M344.0 1812.9h0M346.1 1775.1h0M344.0 1762.1h0M319.5 1807.6h0M325.9 1813.6h0M332.8 1760.5h0M315.5 1818.1h0M304.4 1809.3h0M331.6 1793.5h0M326.9 1823.2h0M326.6 1812.9h0M338.5 1820.2h0M301.8 1779.5h0M325.5 1814.6h0M335.6 1810.8h0M322.7 1798.7h0M352.1 1817.6h0M337.3 1802.6h0M330.7 1788.3h0M348.6 1791.1h0M331.9 1795.2h0M347.9 1723.9h0M346.8 1733.4h0M344.4 1804.2h0M353.0 1781.9h0M354.7 1765.2h0M325.2 1821.7h0M322.8 1799.8h0M345.2 1821.0h0M329.5 1805.0h0M333.6 1775.1h0M346.2 1786.1h0M355.1 1819.7h0M357.6 1788.0h0M326.5 1772.9h0M331.5 1741.1h0M346.8 1815.6h0M349.7 1781.7h0M326.7 1821.5h0M348.5 1769.2h0M323.0 1817.2h0M335.4 1814.3h0M307.6 1743.3h0M346.5 1815.7h0M326.8 1765.6h0M316.2 1811.7h0M340.4 1693.4h0M318.8 1805.3h0M348.9 1740.1h0M357.6 1803.2h0M297.2 1807.0h0M338.8 1757.0h0M354.9 1757.4h0M348.7 1788.3h0M361.8 1808.8h0M356.5 1811.9h0M259.7 1813.6h0M311.1 1822.4h0M344.0 1803.0h0M350.1 1755.4h0M336.8 1762.5h0M354.3 1735.7h0M352.9 1746.3h0M346.7 1691.9h0M343.6 1781.3h0M299.0 1791.4h0M324.2 1774.5h0M318.9 1805.3h0M341.8 1781.1h0M356.7 1815.3h0M331.8 1760.1h0M353.3 1801.6h0M321.0 1777.7h0M321.1 1820.7h0M325.6 1784.7h0M322.7 1799.1h0M271.1 1797.9h0M335.5 1823.7h0M352.3 1710.5h0M324.2 1788.4h0M360.0 1797.0h0M315.3 1797.5h0M323.0 1793.1h0M317.7 1724.6h0M347.0 1808.5h0M345.0 1796.3h0M352.7 1785.4h0M340.2 1814.3h0M332.2 1795.4h0M353.8 1806.2h0M336.0 1812.0h0M353.9 1821.9h0M341.6 1743.6h0M320.7 1821.1h0M361.5 1821.0h0M316.4 1800.5h0M330.7 1790.6h0M328.0 1798.4h0M360.3 1816.5h0M324.9 1627.5h0M342.2 1810.2h0M313.4 1823.3h0M356.6 1803.9h0M332.4 1777.6h0M316.3 1806.9h0M333.1 1761.2h0M272.6 1819.2h0M327.1 1816.8h0M339.4 1761.9h0M335.6 1736.2h0M336.5 1821.7h0M336.0 1784.6h0M306.2 1804.0h0M355.7 1755.6h0M334.8 1772.2h0M350.2 1812.8h0M349.7 1820.2h0M345.6 1811.1h0M328.3 1763.1h0M327.0 1790.3h0M277.5 1767.8h0M316.9 1792.6h0M335.3 1768.1h0M297.8 1812.4h0M331.4 1799.0h0M346.5 1795.9h0M327.4 1689.9h0M317.5 1806.0h0M345.6 1812.2h0M355.3 1794.0h0M337.1 1769.4h0M345.5 1795.7h0M357.3 1787.2h0M343.1 1632.8h0M353.8 1770.0h0M335.5 1643.8h0M320.3 1757.4h0M335.5 1770.0h0M347.2 1817.1h0M291.8 1800.1h0M335.8 1820.2h0M354.5 1792.4h0M334.1 1810.0h0M348.5 1774.0h0M346.0 1785.5h0M343.0 1708.3h0M346.8 1812.9h0M351.2 1802.8h0M347.0 1764.6h0M355.8 1816.5h0M330.9 1792.1h0M320.3 1815.1h0M332.5 1807.1h0M351.7 1748.7h0M316.7 1737.7h0M321.2 1810.3h0M348.5 1777.9h0M328.1 1787.6h0M347.4 1794.7h0M338.7 1791.7h0M326.2 1774.7h0M351.9 1802.8h0M320.0 1792.0h0M354.5 1766.5h0M336.5 1812.2h0M359.7 1819.7h0M324.9 1803.2h0M345.6 1810.3h0M334.4 1692.8h0M326.9 1778.0h0M322.7 1815.0h0M337.3 1813.5h0M341.3 1762.0h0M347.6 1781.6h0M346.5 1745.8h0M333.4 1822.9h0M352.2 1773.8h0M332.7 1794.7h0M352.4 1815.7h0M351.2 1795.6h0M358.8 1805.5h0M336.5 1813.4h0M354.3 1803.8h0M349.1 1776.6h0M330.0 1822.0h0M338.6 1784.8h0M330.5 1776.4h0M348.3 1800.5h0M358.8 1820.4h0M358.3 1797.6h0M344.9 1750.2h0M311.8 1738.8h0M341.2 1764.7h0M329.9 1772.6h0M350.2 1773.3h0M320.1 1823.4h0M311.6 1823.1h0M318.5 1819.3h0M360.5 1805.4h0M350.6 1816.8h0M345.9 1814.4h0M346.6 1809.0h0M319.4 1792.0h0M325.7 1805.2h0M358.1 1818.1h0M336.5 1780.4h0M301.5 1814.4h0M325.4 1754.8h0M348.2 1705.5h0M315.5 1823.2h0M360.1 1822.0h0M338.1 1805.3h0M323.7 1821.4h0M342.4 1786.0h0M318.8 1804.2h0M339.1 1761.2h0M362.6 1810.2h0M342.9 1791.9h0M293.2 1788.4h0M332.5 1801.0h0M350.3 1815.0h0M353.3 1793.8h0M327.3 1770.1h0M351.1 1774.3h0M321.2 1792.7h0M337.7 1735.4h0M348.9 1815.7h0M313.0 1732.1h0M333.1 1811.1h0M355.3 1755.9h0M331.2 1809.1h0M343.6 1778.7h0M349.9 1786.5h0M355.2 1798.3h0M268.5 1756.2h0M295.8 1787.1h0M344.5 1817.0h0M354.9 1784.8h0M344.6 1785.7h0M317.2 1815.9h0M348.4 1799.5h0M350.2 1760.0h0M332.2 1762.2h0M316.3 1823.2h0M345.9 1776.2h0M353.7 1777.2h0M357.0 1800.1h0M277.3 1823.7h0M334.8 1783.7h0M353.5 1738.7h0M317.7 1785.3h0M317.6 1818.0h0M350.9 1786.4h0M329.6 1812.8h0M331.7 1810.5h0M345.6 1744.3h0M343.2 1787.4h0M322.3 1745.7h0M355.5 1821.1h0M325.4 1811.7h0M314.8 1814.6h0M335.4 1806.0h0M326.1 1813.1h0M351.1 1775.8h0M338.2 1788.2h0M341.9 1777.8h0M326.7 1764.2h0M326.5 1787.0h0M350.5 1791.0h0M339.8 1766.4h0M350.8 1772.1h0M331.2 1779.1h0M328.1 1795.6h0M297.3 1794.2h0M341.5 1805.6h0M334.3 1784.8h0M328.0 1741.1h0M327.6 1800.7h0M335.0 1816.0h0M350.2 1794.0h0M299.6 1771.9h0M346.0 1750.8h0M324.4 1799.9h0M341.3 1769.7h0M355.8 1788.5h0M356.9 1804.4h0M358.6 1787.2h0M342.1 1811.3h0M349.3 1816.7h0M320.9 1745.2h0M329.0 1791.6h0M318.5 1821.8h0M334.8 1757.8h0M305.4 1693.9h0M346.2 1773.1h0M316.6 1812.9h0M352.0 1756.9h0M342.7 1762.4h0M332.9 1803.6h0M316.3 1728.5h0M333.1 1817.9h0M356.3 1791.0h0M267.3 1741.9h0M361.6 1821.2h0M357.4 1764.4h0M332.2 1791.1h0M348.3 1788.6h0M323.7 1818.9h0M338.9 1782.7h0M352.9 1807.5h0M329.0 1773.4h0M319.0 1782.5h0M319.6 1800.6h0M357.4 1776.6h0M333.3 1794.4h0M351.6 1756.6h0M354.9 1766.8h0M334.3 1770.8h0M347.0 1819.4h0M359.6 1818.8h0M318.6 1793.1h0M353.9 1765.7h0M351.4 1776.8h0M314.9 1818.8h0M318.3 1784.5h0M344.7 1712.6h0M357.8 1785.0h0M301.1 1789.9h0M308.1 1809.2h0M328.2 1767.6h0M360.1 1787.2h0M329.4 1810.5h0M331.6 1707.0h0M330.4 1813.0h0M326.6 1795.8h0M346.7 1760.5h0M314.1 1752.1h0M327.7 1802.7h0M340.1 1805.9h0M347.2 1804.8h0M335.4 1817.4h0M312.8 1699.4h0M350.4 1822.9h0M342.3 1776.2h0M360.5 1807.0h0M338.8 1817.8h0M347.3 1788.6h0M323.9 1779.3h0M327.4 1657.7h0M318.5 1820.9h0M319.5 1772.2h0M342.1 1820.1h0M334.6 1793.0h0M311.4 1809.2h0M331.8 1807.4h0M355.4 1784.1h0M336.1 1818.7h0M329.1 1785.4h0M336.9 1820.9h0M357.9 1819.7h0M334.2 1799.5h0M351.2 1823.4h0M343.6 1754.0h0M330.2 1779.8h0M352.4 1792.3h0M309.7 1717.0h0M343.8 1659.9h0M328.0 1790.9h0M346.4 1755.3h0M336.7 1767.5h0M356.0 1808.4h0M341.4 1725.4h0M326.9 1734.6h0M339.5 1791.2h0M348.5 1804.8h0M345.7 1742.5h0M310.1 1715.3h0M330.8 1760.1h0M347.7 1812.8h0M343.4 1753.7h0M339.6 1750.0h0M305.8 1820.0h0M338.0 1780.3h0M346.9 1779.4h0M356.2 1787.5h0M319.4 1812.4h0M339.6 1800.1h0M342.2 1817.6h0M307.9 1803.8h0M332.3 1785.9h0M316.4 1760.3h0M316.1 1790.8h0M349.7 1791.6h0M340.4 1817.9h0M349.2 1801.5h0M343.6 1751.9h0M329.3 1796.2h0M318.0 1806.4h0M342.5 1822.1h0M351.1 1810.0h0M347.7 1805.5h0M337.1 1795.5h0M330.3 1775.8h0M327.5 1808.0h0M316.2 1821.4h0M359.2 1804.4h0M318.4 1781.8h0M317.4 1815.7h0M354.5 1751.2h0M307.3 1810.1h0M319.9 1816.1h0M320.5 1791.1h0M329.5 1791.9h0M335.1 1800.2h0M307.9 1818.4h0M337.2 1745.7h0M324.3 1782.5h0M322.5 1814.8h0M340.3 1785.6h0M322.7 1819.2h0M329.2 1799.4h0M333.1 1777.4h0M328.7 1816.5h0M287.8 1783.9h0M332.9 1785.5h0M286.1 1806.9h0M318.2 1786.8h0M348.2 1810.3h0M339.9 1758.5h0M273.7 1784.2h0M321.3 1817.6h0M321.7 1809.9h0M316.8 1794.4h0M325.1 1823.6h0M347.5 1790.0h0M330.9 1780.5h0M345.7 1804.0h0M351.5 1822.6h0M337.4 1755.1h0M352.8 1820.8h0M303.7 1758.1h0M324.4 1712.9h0M332.9 1791.6h0M340.7 1788.0h0M335.5 1808.3h0M326.0 1821.3h0M334.6 1810.3h0M323.9 1684.8h0M331.1 1805.5h0M350.2 1796.7h0M303.3 1819.2h0M319.5 1800.1h0M346.9 1750.7h0M328.2 1809.7h0M319.2 1797.2h0M321.3 1823.5h0M330.0 1756.3h0M317.6 1795.6h0M351.8 1776.0h0M323.3 1747.1h0M349.4 1739.5h0M343.8 1728.2h0M330.1 1769.8h0M349.0 1819.4h0M324.2 1795.4h0M362.7 1813.2h0M320.8 1815.8h0M329.1 1803.5h0M354.7 1814.4h0M331.6 1823.1h0M349.5 1786.2h0M346.5 1765.0h0M353.3 1785.6h0M346.2 1788.6h0M343.9 1817.7h0M348.4 1684.3h0M321.0 1816.8h0M342.5 1814.0h0M324.1 1790.2h0M355.6 1822.0h0M350.9 1779.2h0M348.4 1795.3h0M337.2 1805.9h0M343.8 1741.4h0M294.8 1749.0h0M348.1 1821.8h0M321.5 1803.7h0M340.5 1823.7h0M304.6 1809.6h0M348.0 1817.9h0M334.0 1812.0h0M351.9 1791.7h0M329.8 1815.8h0M331.8 1747.9h0M319.6 1744.7h0M324.1 1793.8h0M340.2 1770.1h0M333.7 1784.5h0M324.9 1820.3h0M331.6 1772.3h0M337.5 1771.1h0M318.2 1802.1h0M343.5 1780.5h0M329.8 1807.8h0M346.1 1773.5h0M327.9 1821.7h0M326.7 1789.1h0M334.8 1808.5h0M327.7 1710.9h0M342.2 1803.9h0M340.0 1643.0h0M335.9 1567.6h0M338.7 1730.5h0M344.4 1796.3h0M337.6 1810.9h0M325.1 1737.9h0M312.8 1787.0h0M314.8 1817.2h0M340.1 1803.8h0M361.6 1801.6h0M337.3 1806.1h0M325.5 1821.0h0M345.8 1782.6h0M325.5 1774.6h0M331.9 1804.5h0M319.8 1782.5h0M325.7 1785.8h0M329.2 1790.9h0M329.5 1708.5h0M352.7 1807.6h0M309.8 1725.0h0M335.1 1811.9h0M333.9 1804.2h0M347.5 1821.0h0M324.7 1822.9h0M340.7 1822.0h0M327.6 1698.6h0M351.0 1789.6h0M332.4 1773.7h0M303.8 1708.5h0M305.7 1742.7h0M334.3 1806.3h0M338.9 1718.5h0M317.2 1791.9h0M298.4 1734.4h0M294.7 1716.8h0M320.4 1782.9h0M352.0 1768.2h0M338.9 1754.0h0M302.8 1646.8h0M275.0 1792.5h0M328.4 1813.4h0M350.3 1767.7h0M361.4 1804.4h0M316.9 1809.6h0M333.9 1820.7h0M255.5 1719.6h0M331.7 1811.5h0M327.7 1816.8h0M341.0 1820.7h0M342.5 1818.9h0M340.7 1747.9h0M315.3 1805.0h0M361.1 1820.8h0M339.2 1787.8h0M321.9 1790.2h0M334.9 1821.5h0M346.9 1798.7h0M338.6 1813.8h0M322.9 1817.5h0M333.0 1809.6h0M346.5 1780.0h0M347.6 1787.9h0M328.5 1778.4h0M343.4 1806.3h0M343.7 1771.2h0M333.7 1796.9h0M349.3 1813.5h0M346.9 1817.4h0M317.9 1789.6h0M316.7 1790.4h0M324.2 1806.8h0M224.8 1781.9h0M348.8 1743.0h0M302.5 1816.9h0M339.5 1746.8h0M343.8 1655.1h0M345.9 1818.0h0M350.4 1762.7h0M313.7 1806.6h0M334.9 1791.6h0M341.7 1762.1h0M331.1 1765.1h0M352.1 1789.3h0M351.4 1797.9h0M326.6 1796.1h0M316.1 1807.5h0M351.6 1702.6h0M362.1 1804.6h0M348.6 1688.6h0M336.9 1784.2h0M328.9 1776.2h0M311.8 1777.3h0M356.0 1819.9h0M341.5 1768.8h0M316.8 1818.3h0M319.7 1801.6h0M323.3 1811.4h0M319.0 1664.9h0M335.0 1797.7h0M358.6 1822.7h0M356.8 1799.8h0M359.8 1782.1h0M322.3 1820.6h0M323.8 1819.5h0M327.1 1817.2h0M327.5 1662.9h0M318.4 1765.4h0M318.3 1800.7h0M311.9 1751.8h0M354.0 1812.3h0M361.3 1800.9h0M248.8 1787.1h0M333.3 1749.4h0M299.8 1794.2h0M354.4 1804.4h0M316.3 1797.1h0M340.3 1782.3h0M338.8 1792.6h0M340.7 1777.1h0M348.8 1806.4h0M332.6 1776.8h0M345.5 1810.6h0M352.6 1807.6h0M328.7 1811.7h0M307.0 1805.0h0M341.0 1797.4h0M328.4 1806.4h0M354.3 1782.4h0M306.1 1747.5h0M355.5 1802.4h0M344.9 1821.8h0M335.0 1815.4h0M298.5 1787.6h0M316.9 1819.0h0M345.3 1822.4h0M324.0 1745.8h0M350.1 1738.1h0M350.6 1800.0h0M341.1 1797.6h0M346.2 1756.4h0M342.8 1810.9h0M345.6 1774.2h0M326.1 1779.9h0M358.7 1815.3h0M323.7 1725.2h0M346.8 1731.1h0M346.9 1813.1h0M351.5 1766.3h0M361.7 1807.8h0M336.6 1783.0h0M293.0 1822.1h0M342.0 1662.7h0M326.9 1745.3h0M355.3 1804.9h0M353.0 1822.5h0M307.0 1749.2h0M320.7 1775.8h0M346.8 1786.6h0M327.7 1810.8h0M315.9 1751.2h0M324.0 1783.7h0M304.6 1815.1h0M351.0 1783.5h0M343.0 1818.9h0M337.3 1720.2h0M332.9 1780.7h0M335.1 1786.9h0M298.6 1820.7h0M321.4 1756.9h0M350.4 1808.9h0M325.1 1799.8h0M342.6 1784.5h0M330.4 1815.4h0M347.4 1798.2h0M354.2 1787.6h0M322.1 1780.6h0M353.5 1780.7h0M346.4 1817.3h0M346.6 1810.8h0M344.2 1811.5h0M334.9 1820.8h0M324.2 1779.4h0M315.9 1812.9h0M343.5 1783.2h0M351.5 1810.3h0M329.1 1765.5h0M333.1 1821.9h0M337.8 1822.0h0M344.8 1802.7h0M333.8 1728.9h0M347.6 1736.3h0M329.5 1768.7h0M307.9 1807.4h0M337.8 1761.5h0M354.9 1817.5h0M330.6 1785.9h0M333.4 1822.6h0M342.8 1630.9h0M306.8 1782.2h0M346.4 1705.8h0M348.4 1786.7h0M352.0 1780.1h0M344.3 1778.5h0M318.6 1804.9h0M359.7 1782.9h0M324.7 1774.6h0M332.2 1760.1h0M320.8 1813.1h0M346.6 1780.7h0M300.6 1819.8h0M336.3 1741.3h0M341.9 1808.0h0M330.5 1804.9h0M328.2 1818.1h0M341.2 1753.3h0M318.7 1795.4h0M342.0 1705.0h0M323.5 1811.2h0M332.8 1791.0h0M318.2 1799.4h0M301.8 1800.3h0M321.4 1806.7h0M348.9 1774.1h0M315.9 1806.2h0M315.6 1799.0h0M322.0 1807.5h0M324.0 1787.2h0M355.2 1759.9h0M296.5 1772.9h0M361.7 1800.3h0M309.8 1810.1h0M354.8 1779.2h0M352.1 1779.8h0M357.7 1803.1h0M333.9 1748.8h0M320.8 1758.8h0M349.8 1805.6h0M324.5 1750.6h0M353.5 1802.9h0M338.4 1776.2h0M359.4 1787.3h0M348.8 1800.7h0M355.6 1809.0h0M357.0 1807.5h0M340.8 1798.7h0M337.8 1747.5h0M318.7 1793.7h0M321.8 1794.8h0M351.6 1739.7h0M334.6 1818.0h0M338.7 1817.7h0M315.5 1797.2h0M351.1 1799.3h0M332.4 1817.0h0M321.4 1790.2h0M359.4 1804.6h0M315.4 1810.1h0M347.3 1797.8h0M297.6 1723.4h0M343.9 1793.8h0M354.4 1765.3h0M353.7 1818.8h0M323.6 1797.6h0M301.7 1813.8h0M352.8 1727.8h0M339.4 1740.6h0M358.1 1805.4h0M353.9 1822.4h0M337.8 1753.0h0M338.8 1821.9h0M334.2 1763.7h0M322.4 1657.0h0M341.5 1788.6h0M315.9 1775.2h0M327.3 1785.0h0M344.5 1814.1h0M317.2 1816.2h0M335.2 1759.6h0M350.9 1819.9h0M336.6 1779.6h0M347.9 1811.3h0M339.3 1770.4h0M227.8 1790.6h0M350.1 1801.7h0M329.9 1819.3h0M337.6 1715.2h0M360.8 1818.5h0M319.2 1801.4h0M323.6 1707.7h0M333.9 1808.1h0M333.7 1819.1h0M323.3 1780.7h0M335.6 1805.6h0M302.2 1767.6h0M342.2 1822.7h0M340.9 1754.5h0M349.2 1759.3h0M340.7 1822.1h0M298.4 1804.0h0M344.6 1819.8h0M340.0 1740.4h0M289.0 1800.9h0M352.5 1756.6h0M303.3 1819.6h0M319.0 1784.4h0M342.1 1786.4h0M334.9 1815.8h0M301.6 1819.7h0M331.5 1724.7h0M328.0 1815.9h0M334.5 1762.2h0M340.5 1818.6h0M322.6 1791.0h0M344.7 1818.2h0M345.7 1774.4h0M348.6 1813.0h0M304.1 1775.3h0M329.9 1777.5h0M344.7 1766.4h0M350.0 1785.2h0M338.6 1799.7h0M346.3 1742.0h0M320.2 1809.6h0M336.0 1762.1h0M331.3 1789.3h0M295.0 1785.7h0M333.9 1777.1h0M341.4 1819.4h0M347.2 1814.1h0M342.8 1821.9h0M310.9 1810.1h0M348.8 1775.1h0M315.3 1633.1h0M322.3 1818.8h0M325.5 1818.0h0M332.3 1798.3h0M307.7 1717.8h0M361.4 1809.9h0M332.2 1818.4h0M338.7 1819.6h0M352.7 1754.6h0M322.8 1807.3h0M351.4 1804.5h0M322.3 1698.4h0M324.3 1793.3h0M332.1 1774.8h0M330.8 1822.6h0M320.8 1813.9h0M333.5 1801.4h0M334.3 1818.3h0M331.9 1812.4h0M358.7 1803.8h0M347.7 1720.5h0M354.7 1787.6h0M331.2 1816.4h0M354.3 1751.3h0M345.5 1817.8h0M353.9 1804.4h0M319.0 1823.6h0M322.9 1792.4h0M317.8 1790.9h0M346.0 1791.9h0M349.4 1812.4h0M317.1 1776.8h0M355.9 1820.0h0M287.9 1819.4h0M326.2 1793.8h0M286.4 1807.9h0M332.2 1713.1h0M352.2 1767.9h0M342.1 1740.0h0M324.0 1814.3h0M341.4 1752.9h0M333.9 1768.4h0M327.2 1764.3h0M307.0 1807.8h0M352.1 1776.8h0M320.4 1796.3h0M346.8 1822.0h0M295.9 1784.6h0M349.5 1765.7h0M328.7 1799.4h0M296.6 1657.7h0M315.0 1797.4h0M341.7 1785.3h0M362.3 1816.3h0M333.7 1799.4h0M357.4 1822.6h0M353.6 1777.2h0M321.9 1790.1h0M346.9 1781.4h0M350.5 1815.5h0M355.0 1796.6h0M361.0 1796.8h0M329.3 1601.2h0M316.3 1795.0h0M355.1 1793.6h0M328.1 1760.7h0M353.0 1791.3h0M352.2 1812.0h0M334.9 1791.4h0M343.4 1730.2h0M323.1 1815.6h0M326.7 1782.7h0M338.9 1789.0h0M353.1 1751.9h0M327.3 1801.3h0M335.9 1756.3h0M340.3 1759.1h0M285.6 1810.4h0M314.4 1810.2h0M317.5 1809.5h0M337.1 1765.2h0M311.8 1766.9h0M353.4 1721.8h0M319.8 1810.5h0M344.2 1666.8h0M362.0 1818.6h0M346.8 1782.2h0M338.7 1681.0h0M300.7 1780.3h0M321.9 1817.6h0M338.4 1771.0h0M332.9 1813.4h0M306.7 1761.5h0M350.8 1818.0h0M359.7 1787.3h0M345.2 1757.0h0M345.5 1779.1h0M348.7 1773.0h0M330.4 1682.8h0M342.7 1786.2h0M358.7 1796.7h0M331.3 1803.8h0M349.9 1813.2h0M339.0 1761.3h0M351.1 1807.5h0M295.4 1729.1h0M349.6 1789.4h0M342.4 1761.5h0M316.2 1805.7h0M348.7 1778.1h0M340.8 1799.2h0M326.4 1734.7h0M339.6 1759.0h0M350.4 1822.4h0M341.6 1798.9h0M294.6 1799.4h0M334.5 1765.1h0M326.5 1719.2h0M336.6 1773.3h0M338.3 1752.1h0M324.5 1787.5h0M307.9 1763.4h0M350.2 1800.8h0M338.2 1787.3h0M349.1 1772.2h0M342.0 1821.1h0M295.7 1821.5h0M324.4 1812.8h0M342.4 1757.8h0M353.2 1799.2h0M327.6 1745.8h0M337.0 1741.0h0M326.7 1817.1h0M350.7 1795.2h0M318.6 1820.5h0M355.4 1778.0h0M349.0 1817.2h0M338.7 1775.5h0M344.7 1793.5h0M326.3 1785.5h0M329.9 1796.0h0M348.4 1812.5h0M328.2 1818.7h0M300.5 1780.6h0M319.0 1800.0h0M349.3 1820.4h0M335.0 1814.1h0M349.3 1816.8h0M337.8 1816.2h0M323.0 1815.3h0M316.4 1817.8h0M332.4 1791.0h0M336.1 1755.7h0M363.0 1813.1h0M345.7 1821.3h0M348.3 1772.9h0M360.6 1793.2h0M315.6 1748.1h0M318.8 1749.1h0M329.0 1696.4h0M325.2 1796.2h0M314.8 1799.8h0M350.5 1802.9h0M323.0 1817.7h0M329.5 1787.0h0M323.0 1787.7h0M309.8 1776.6h0M342.8 1798.0h0M350.3 1820.3h0M304.5 1807.0h0M350.7 1752.4h0M311.8 1799.1h0M320.2 1815.6h0M349.6 1806.5h0M334.6 1786.7h0M353.0 1758.4h0M314.7 1764.2h0M338.2 1674.2h0M325.5 1822.8h0M341.2 1815.1h0M342.4 1795.7h0M283.3 1796.2h0M350.9 1721.0h0M336.4 1817.0h0M349.5 1764.5h0M316.0 1803.1h0M333.9 1820.3h0M319.3 1729.7h0M338.4 1789.9h0M313.3 1645.0h0M314.9 1813.1h0M350.1 1758.7h0M342.0 1802.8h0M354.1 1785.8h0M332.0 1797.2h0M337.0 1798.0h0M342.3 1808.3h0M326.6 1799.1h0M313.2 1731.4h0M318.1 1808.4h0M342.7 1792.7h0M346.9 1814.4h0M353.6 1812.4h0M332.1 1754.9h0M340.5 1811.3h0M349.8 1742.3h0M324.4 1783.7h0M335.4 1813.9h0M354.0 1783.5h0M350.9 1818.4h0M349.5 1743.3h0M351.3 1820.2h0M352.5 1749.2h0M352.1 1807.9h0M351.8 1810.7h0M296.4 1721.3h0M317.6 1823.0h0M318.1 1786.3h0M331.2 1802.0h0M319.3 1802.1h0M326.9 1818.7h0M351.5 1794.8h0M283.5 1737.9h0M351.1 1794.8h0M340.8 1813.2h0M343.9 1798.8h0M319.6 1816.8h0M351.6 1766.3h0M332.4 1771.9h0M337.2 1753.2h0M346.5 1818.1h0M339.1 1810.0h0M343.9 1789.9h0M331.7 1756.8h0M325.6 1753.0h0M354.2 1819.9h0M329.3 1742.8h0M352.7 1729.4h0M299.0 1712.6h0M330.7 1777.9h0M350.1 1747.2h0M335.4 1735.2h0M319.3 1812.4h0M353.7 1798.1h0M336.9 1818.6h0M336.1 1806.3h0M317.2 1795.3h0M324.2 1813.3h0M308.0 1769.5h0M315.5 1819.1h0M346.4 1817.7h0M307.4 1822.6h0M341.9 1820.0h0M330.0 1773.0h0M338.0 1756.8h0M341.4 1705.3h0M323.5 1802.9h0M332.9 1809.7h0M332.9 1801.1h0M355.7 1783.6h0M354.1 1756.2h0M347.7 1804.7h0M334.2 1802.0h0M347.4 1792.7h0M358.5 1809.3h0M317.4 1791.1h0M293.3 1818.1h0M317.2 1821.9h0M335.0 1776.3h0M346.7 1741.3h0M346.8 1801.4h0M349.1 1782.0h0M351.2 1767.0h0M334.8 1819.6h0M351.1 1799.4h0M330.8 1772.3h0M342.5 1800.3h0M334.4 1796.4h0M321.9 1783.9h0M263.5 1793.2h0M335.5 1777.3h0M352.2 1797.0h0M342.4 1803.4h0M345.1 1737.4h0M331.8 1809.7h0M326.2 1819.7h0M323.8 1793.0h0M324.5 1821.6h0M362.5 1820.9h0M349.8 1784.7h0M344.3 1823.0h0M350.7 1775.3h0M316.4 1634.2h0M319.8 1813.8h0M333.3 1799.0h0M319.1 1809.1h0M333.2 1730.5h0M352.7 1816.9h0M340.5 1800.5h0M342.3 1774.7h0M352.0 1804.2h0M317.0 1818.3h0M361.0 1810.1h0M337.7 1784.0h0M329.0 1788.9h0M344.7 1808.6h0M321.5 1802.9h0M329.2 1808.4h0M343.4 1769.9h0M317.8 1777.7h0M333.9 1819.3h0M340.3 1793.8h0M337.7 1666.9h0M295.5 1754.3h0M361.0 1794.1h0M325.5 1772.0h0M320.2 1802.9h0M353.1 1763.0h0M358.2 1780.3h0M323.9 1811.3h0M330.3 1807.8h0M350.2 1819.6h0M351.7 1773.1h0M338.1 1811.3h0M322.0 1711.8h0M330.6 1666.8h0M343.1 1787.6h0M352.8 1769.0h0M342.2 1752.0h0M326.6 1806.6h0M317.9 1791.7h0M341.8 1795.3h0M340.3 1803.4h0M331.3 1809.8h0M310.4 1770.3h0M342.4 1771.1h0M293.6 1732.4h0M355.5 1782.3h0M360.4 1809.6h0M330.3 1818.3h0M316.5 1782.3h0M325.0 1816.8h0M352.8 1776.4h0M326.8 1798.5h0M329.9 1795.4h0M342.4 1799.3h0M360.9 1820.7h0M357.8 1807.4h0M348.1 1787.9h0M334.1 1813.0h0M344.9 1801.1h0M322.2 1803.0h0M325.6 1812.8h0M340.6 1712.4h0M320.0 1773.0h0M329.8 1812.9h0M322.2 1794.9h0M312.1 1767.0h0M323.1 1783.9h0M353.5 1816.1h0M343.4 1784.8h0M356.1 1820.1h0M352.5 1819.1h0M341.9 1820.1h0M284.2 1815.2h0M337.3 1756.4h0M337.9 1810.9h0M339.0 1790.9h0M343.4 1805.3h0M358.8 1795.1h0M354.4 1808.3h0M347.9 1808.0h0M330.0 1761.4h0M334.7 1808.2h0M325.0 1808.5h0M325.2 1787.6h0M329.4 1818.2h0M331.8 1786.2h0M316.8 1778.8h0M326.9 1804.0h0M317.8 1811.6h0M331.8 1716.2h0M319.4 1811.7h0M328.1 1774.6h0M335.3 1822.2h0M343.4 1778.3h0M338.2 1764.9h0M341.4 1803.3h0M344.9 1715.9h0M333.5 1761.2h0M326.1 1792.8h0M353.8 1758.8h0M326.1 1818.2h0M346.7 1751.7h0M327.9 1733.9h0M343.2 1809.1h0M309.6 1650.7h0M353.3 1758.9h0M351.7 1821.8h0M319.4 1820.0h0M294.0 1806.1h0M332.1 1767.2h0M318.2 1797.8h0M344.1 1811.4h0M328.3 1809.1h0M326.2 1816.6h0M332.6 1757.8h0M352.2 1813.8h0M326.7 1822.4h0M355.9 1789.9h0M332.8 1787.4h0M352.4 1813.8h0M346.0 1823.1h0M313.2 1759.5h0M325.1 1777.8h0M351.0 1745.0h0M318.4 1810.0h0M354.6 1809.6h0M297.9 1821.7h0M332.1 1753.0h0M341.3 1811.8h0M317.4 1758.6h0M344.2 1740.0h0M342.6 1656.8h0M318.8 1805.3h0M348.6 1771.9h0M336.7 1821.0h0M349.3 1767.6h0M317.1 1821.6h0M324.9 1790.6h0M320.1 1685.5h0M345.8 1820.5h0M338.7 1808.7h0M343.8 1806.8h0M349.7 1793.9h0M315.2 1762.6h0M340.2 1815.3h0M332.6 1815.7h0M330.3 1815.2h0M338.1 1776.1h0M348.1 1746.8h0M328.7 1799.6h0M354.8 1784.8h0M353.9 1804.0h0M319.8 1791.6h0M343.5 1809.9h0M320.6 1666.8h0M338.1 1813.7h0M356.0 1791.0h0M326.5 1771.9h0M335.9 1736.1h0M348.3 1777.6h0M347.1 1764.0h0M340.2 1774.0h0M338.8 1784.4h0M337.3 1777.3h0M352.7 1822.1h0M337.3 1815.1h0M316.1 1806.9h0M338.6 1773.5h0M317.1 1808.3h0M357.4 1814.9h0M317.7 1749.7h0M346.2 1819.1h0M337.2 1808.9h0M351.0 1701.5h0M314.3 1779.1h0M355.4 1791.3h0M343.3 1788.2h0M315.6 1791.9h0M349.5 1810.6h0M319.2 1749.2h0M341.3 1788.3h0M352.9 1786.6h0M327.9 1813.4h0M355.9 1780.4h0M325.2 1765.6h0M309.9 1662.6h0M348.3 1752.0h0M338.3 1789.3h0M356.3 1812.2h0M334.5 1772.8h0M349.0 1762.5h0M323.1 1818.2h0M325.7 1800.0h0M300.2 1718.8h0M322.7 1724.2h0M347.1 1774.8h0M336.4 1801.8h0M304.9 1722.7h0M360.3 1793.3h0M342.5 1765.3h0M343.7 1657.2h0M351.9 1822.2h0M335.1 1759.9h0M314.0 1819.3h0M320.7 1820.3h0M328.7 1761.6h0M362.0 1805.9h0M334.6 1794.0h0M314.8 1801.9h0M325.0 1720.1h0M324.7 1795.0h0M361.5 1820.4h0M289.3 1422.1h0M257.6 1462.6h0M292.1 1504.9h0M267.9 1515.0h0M335.1 1529.0h0M317.9 1547.9h0M335.1 1549.8h0M271.4 1576.4h0M290.3 1575.8h0M326.5 1576.4h0M309.3 1585.9h0M342.0 1590.3h0M352.4 1603.0h0M297.2 1609.3h0M328.2 1614.4h0M257.6 1647.9h0M230.1 1733.3h0M255.9 1740.2h0M226.6 1753.5h0M218.0 1783.9h0M223.2 1800.3h0M255.9 1712.4h0M247.3 1734.5h0" stroke="#f08a84" stroke-width="3.4" stroke-linecap="round" fill="none"/>
<path d="M412.0 1785.6h0M417.4 1778.4h0M401.3 1741.7h0M414.7 1816.4h0M406.3 1809.7h0M416.2 1809.7h0M400.6 1781.3h0M386.6 1800.7h0M390.9 1821.6h0M413.9 1650.5h0M390.9 1809.2h0M378.9 1822.6h0M424.5 1806.4h0M395.4 1768.5h0M411.4 1769.2h0M415.0 1768.0h0M400.6 1779.7h0M384.2 1808.9h0M407.1 1745.7h0M429.1 1807.4h0M402.6 1739.7h0M449.2 1807.1h0M440.8 1799.3h0M490.0 1762.5h0M410.2 1721.5h0M385.0 1801.2h0M407.4 1803.2h0M396.8 1760.7h0M417.6 1819.3h0M415.8 1791.1h0M452.5 1786.8h0M423.2 1807.5h0M384.5 1811.7h0M402.7 1797.8h0M402.9 1815.3h0M413.7 1820.3h0M402.3 1786.6h0M453.7 1650.6h0M386.3 1792.0h0M416.9 1791.9h0M380.8 1799.2h0M394.9 1797.9h0M416.5 1703.2h0M388.8 1811.2h0M473.8 1822.4h0M390.4 1784.6h0M401.1 1644.5h0M403.4 1768.4h0M396.2 1755.2h0M457.6 1801.4h0M409.3 1753.2h0M385.4 1790.0h0M402.6 1815.1h0M387.4 1809.5h0M391.3 1796.8h0M396.2 1774.4h0M390.1 1784.8h0M420.2 1801.5h0M388.3 1759.0h0M381.5 1823.5h0M391.1 1731.8h0M415.5 1791.1h0M421.5 1786.4h0M419.9 1822.3h0M406.0 1743.3h0M408.4 1804.2h0M389.4 1750.9h0M410.5 1740.4h0M385.2 1814.2h0M402.6 1777.8h0M414.0 1790.7h0M407.0 1814.7h0M419.5 1791.2h0M414.9 1817.4h0M389.2 1757.0h0M443.6 1642.1h0M396.7 1760.0h0M389.2 1757.4h0M412.3 1747.4h0M407.6 1802.6h0M414.3 1821.1h0M394.8 1735.8h0M409.2 1722.8h0M484.3 1762.9h0M395.3 1726.1h0M397.4 1794.4h0M420.5 1804.8h0M387.8 1812.2h0M391.0 1752.3h0M409.6 1784.8h0M468.8 1779.9h0M401.1 1802.5h0M380.8 1819.4h0M412.4 1804.2h0M412.1 1806.7h0M440.3 1577.4h0M401.8 1732.2h0M389.2 1806.2h0M412.6 1807.2h0M425.8 1722.6h0M384.3 1795.5h0M405.6 1811.2h0M431.4 1782.3h0M391.1 1812.0h0M403.1 1808.7h0M417.4 1817.6h0M452.0 1817.7h0M384.8 1758.3h0M439.7 1812.5h0M381.0 1795.4h0M387.4 1787.6h0M421.1 1813.5h0M386.6 1776.7h0M405.3 1804.7h0M463.4 1808.1h0M386.1 1752.5h0M397.0 1801.8h0M398.8 1802.1h0M457.2 1779.7h0M469.5 1717.3h0M386.8 1725.3h0M403.7 1774.1h0M395.9 1758.8h0M409.0 1778.2h0M397.0 1813.7h0M392.9 1815.6h0M391.7 1785.7h0M404.0 1772.2h0M388.8 1820.3h0M398.9 1765.5h0M438.2 1787.3h0M397.8 1801.6h0M468.2 1803.6h0M394.9 1811.7h0M402.9 1701.4h0M391.1 1796.9h0M392.6 1757.1h0M450.2 1811.3h0M406.6 1755.5h0M402.6 1823.0h0M392.8 1781.9h0M424.4 1804.4h0M444.7 1797.6h0M411.7 1821.4h0M389.7 1795.1h0M399.1 1804.8h0M418.8 1780.4h0M396.8 1753.9h0M383.7 1821.5h0M390.8 1788.0h0M409.0 1793.3h0M422.5 1813.8h0M437.3 1801.9h0M391.6 1752.6h0M404.0 1714.3h0M440.9 1815.9h0M399.4 1764.7h0M421.0 1823.5h0M386.0 1751.8h0M388.7 1807.9h0M431.7 1796.6h0M411.9 1794.0h0M416.5 1779.6h0M390.9 1807.1h0M399.7 1806.9h0M391.9 1752.1h0M418.2 1796.6h0M419.3 1805.1h0M402.4 1803.8h0M431.1 1766.5h0M405.3 1762.9h0M411.1 1761.4h0M400.2 1812.9h0M383.1 1783.9h0M406.3 1801.5h0M423.8 1822.0h0M409.5 1814.2h0M394.2 1744.7h0M397.1 1786.4h0M401.4 1779.1h0M422.0 1821.7h0M405.5 1787.7h0M400.9 1763.1h0M390.7 1789.3h0M388.3 1776.3h0M497.0 1773.5h0M411.9 1797.6h0M383.0 1820.5h0M392.7 1752.7h0M395.3 1746.1h0M399.0 1785.5h0M399.7 1805.1h0M395.7 1773.6h0M419.5 1793.6h0M425.2 1777.3h0M415.6 1801.7h0M418.5 1790.5h0M423.2 1671.7h0M393.4 1809.1h0M393.5 1775.8h0M408.3 1752.4h0M397.0 1799.3h0M416.1 1796.6h0M407.3 1805.4h0M404.7 1785.9h0M382.0 1818.9h0M389.6 1773.2h0M418.4 1822.1h0M437.4 1798.3h0M393.8 1815.7h0M418.7 1811.7h0M409.8 1813.8h0M386.6 1777.2h0M399.1 1820.5h0M408.7 1757.1h0M392.2 1757.8h0M439.1 1776.4h0M391.0 1773.1h0M414.1 1815.3h0M442.8 1820.5h0M425.9 1812.0h0M389.0 1806.3h0M398.9 1808.1h0M419.3 1773.9h0M402.5 1768.6h0M394.6 1812.2h0M420.5 1821.6h0M388.3 1818.8h0M410.2 1769.5h0M414.6 1809.2h0M380.5 1820.5h0M425.7 1822.8h0M393.1 1800.9h0M412.1 1816.6h0M394.5 1806.3h0M417.6 1815.9h0M405.2 1817.1h0M409.0 1769.9h0M428.7 1738.0h0M396.9 1745.5h0M387.9 1748.2h0M409.4 1790.2h0M401.3 1776.8h0M405.1 1799.0h0M409.0 1714.1h0M391.5 1764.5h0M388.9 1799.7h0M427.9 1695.6h0M382.9 1773.1h0M390.7 1771.8h0M424.4 1630.7h0M434.9 1762.4h0M408.0 1784.2h0M391.3 1780.1h0M391.8 1818.9h0M391.0 1793.1h0M408.6 1782.2h0M401.1 1806.1h0M407.5 1801.3h0M391.7 1815.6h0M392.8 1817.6h0M416.4 1811.6h0M397.6 1779.5h0M411.4 1815.9h0M401.8 1762.2h0M395.2 1752.6h0M392.6 1811.1h0M407.1 1798.1h0M421.4 1812.9h0M456.3 1797.4h0M404.1 1779.7h0M393.3 1780.9h0M402.5 1743.7h0M396.4 1804.3h0M421.5 1794.4h0M440.2 1823.1h0M400.1 1731.5h0M389.2 1802.1h0M395.2 1791.3h0M383.8 1770.7h0M422.4 1795.6h0M405.7 1746.7h0M397.6 1795.7h0M515.3 1785.4h0M393.2 1799.9h0M411.8 1816.8h0M398.4 1772.4h0M398.3 1626.3h0M411.7 1808.9h0M415.3 1724.1h0M499.0 1819.1h0M405.3 1790.6h0M416.9 1807.0h0M397.3 1782.9h0M405.6 1812.2h0M385.2 1818.3h0M405.6 1769.0h0M426.1 1772.4h0M396.5 1809.9h0M401.2 1721.2h0M389.4 1770.9h0M415.7 1792.9h0M408.0 1772.9h0M395.6 1795.5h0M492.0 1819.6h0M389.7 1732.8h0M463.8 1810.4h0M404.2 1819.0h0M413.5 1822.1h0M406.3 1804.7h0M412.4 1801.9h0M457.9 1783.8h0M383.5 1814.1h0M437.1 1783.2h0M423.2 1815.1h0M414.3 1813.4h0M392.2 1808.4h0M444.0 1780.1h0M418.4 1818.8h0M419.3 1789.0h0M410.6 1770.4h0M414.2 1822.5h0M391.8 1811.4h0M390.2 1802.8h0M417.8 1813.8h0M415.3 1791.7h0M393.6 1757.8h0M428.6 1808.5h0M415.7 1802.4h0M418.2 1814.0h0M449.4 1759.7h0M429.6 1803.5h0M410.2 1779.4h0M392.4 1809.3h0M417.4 1820.6h0M400.9 1751.1h0M396.0 1814.5h0M392.0 1758.6h0M401.2 1800.1h0M386.6 1816.2h0M398.7 1716.0h0M408.5 1823.4h0M449.5 1763.4h0M388.7 1783.9h0M400.8 1776.1h0M390.0 1776.9h0M398.9 1796.3h0M414.6 1797.5h0M396.9 1806.9h0M382.7 1804.1h0M405.5 1801.0h0M414.6 1771.6h0M438.0 1751.5h0M400.1 1752.6h0M421.7 1805.0h0M421.7 1816.0h0M386.0 1778.1h0M435.6 1733.3h0M431.7 1821.2h0M399.9 1818.2h0M381.7 1817.7h0M399.2 1735.5h0M421.8 1785.5h0M422.8 1800.8h0M433.9 1690.7h0M434.2 1786.9h0M444.5 1779.5h0M399.1 1789.4h0M400.6 1791.9h0M395.5 1779.3h0M402.6 1793.0h0M380.8 1798.0h0M402.4 1733.5h0M394.6 1740.6h0M405.2 1812.8h0M389.1 1815.0h0M387.6 1804.3h0M387.8 1762.4h0M429.6 1790.4h0M395.3 1767.8h0M427.9 1723.8h0M389.9 1814.2h0M395.4 1816.7h0M449.5 1769.6h0M414.1 1813.4h0M418.7 1779.3h0M405.2 1818.4h0M387.3 1767.0h0M418.4 1809.3h0M382.8 1805.2h0M386.6 1804.0h0M421.5 1822.6h0M389.2 1766.4h0M407.2 1823.6h0M383.5 1817.6h0M392.1 1800.4h0M392.7 1777.9h0M443.0 1810.1h0M419.8 1743.1h0M408.6 1823.5h0M398.2 1722.4h0M385.2 1799.2h0M408.2 1809.6h0M394.8 1698.9h0M390.9 1758.7h0M408.8 1600.0h0M418.1 1797.1h0M390.5 1785.2h0M403.5 1815.2h0M396.1 1806.0h0M423.6 1779.1h0M451.1 1802.7h0M392.7 1736.1h0M392.6 1756.3h0M408.5 1804.3h0M386.3 1791.8h0M385.7 1803.9h0M384.3 1816.2h0M417.4 1783.1h0M407.4 1789.5h0M402.3 1732.4h0M409.1 1818.9h0M433.5 1813.7h0M397.2 1801.6h0M454.2 1811.8h0M394.2 1739.8h0M405.7 1746.1h0M423.3 1809.7h0M382.8 1778.6h0M402.6 1800.7h0M481.4 1790.6h0M412.8 1823.5h0M405.6 1715.1h0M397.1 1800.2h0M438.1 1757.6h0M410.3 1808.8h0M419.5 1801.2h0M414.2 1819.2h0M395.5 1750.7h0M407.4 1785.6h0M410.4 1761.8h0M420.2 1796.8h0M410.8 1787.9h0M418.7 1792.3h0M404.6 1738.6h0M423.6 1725.5h0M408.4 1800.0h0M395.4 1765.3h0M428.4 1792.9h0M400.4 1772.8h0M393.4 1766.8h0M385.6 1763.0h0M390.7 1802.0h0M391.1 1783.9h0M388.6 1774.5h0M398.1 1747.3h0M415.6 1818.7h0M411.5 1820.0h0M407.5 1779.6h0M399.2 1822.5h0M386.0 1801.2h0M401.7 1808.4h0M414.6 1820.0h0M403.7 1811.9h0M393.8 1792.9h0M416.9 1821.7h0M425.8 1784.0h0M426.1 1799.2h0M487.8 1801.4h0M467.8 1789.7h0M418.3 1801.5h0M409.4 1753.1h0M411.7 1758.0h0M422.8 1791.7h0M385.4 1742.5h0M394.9 1745.4h0M396.4 1794.5h0M411.1 1762.7h0M409.9 1812.9h0M406.0 1819.1h0M381.7 1816.2h0M397.8 1821.9h0M408.7 1762.6h0M437.9 1806.2h0M459.9 1784.0h0M401.8 1758.7h0M528.9 1817.1h0M420.9 1820.9h0M413.3 1812.0h0M415.2 1791.9h0M392.0 1810.4h0M409.5 1805.0h0M436.1 1792.6h0M396.8 1810.8h0M387.2 1812.5h0M380.8 1812.3h0M387.1 1760.8h0M385.8 1793.4h0M381.2 1805.2h0M411.0 1785.4h0M431.2 1794.8h0M426.3 1815.6h0M413.5 1782.5h0M385.9 1789.0h0M386.9 1788.7h0M399.9 1822.6h0M421.3 1792.0h0M412.3 1763.1h0M393.9 1815.7h0M385.9 1822.8h0M457.8 1817.6h0M412.9 1762.4h0M399.0 1797.8h0M389.7 1812.6h0M399.1 1791.7h0M410.6 1809.6h0M385.3 1805.3h0M393.5 1745.4h0M388.0 1813.1h0M410.5 1799.2h0M414.7 1810.6h0M418.1 1814.2h0M407.4 1812.2h0M402.5 1785.9h0M410.4 1821.5h0M387.2 1766.8h0M400.4 1728.5h0M403.5 1752.6h0M396.3 1773.9h0M453.9 1809.9h0M386.5 1813.8h0M461.2 1798.2h0M402.9 1777.0h0M387.3 1803.8h0M433.6 1817.4h0M387.9 1790.0h0M407.6 1786.4h0M406.2 1709.5h0M397.9 1801.7h0M438.9 1802.5h0M385.8 1772.6h0M384.1 1808.0h0M414.1 1787.3h0M391.7 1821.3h0M398.7 1805.4h0M410.7 1818.4h0M404.6 1814.7h0M438.5 1800.8h0M406.0 1720.6h0M397.3 1635.6h0M407.2 1769.7h0M440.3 1687.4h0M401.0 1779.4h0M398.9 1786.7h0M407.7 1753.1h0M404.2 1750.0h0M436.8 1804.1h0M407.6 1823.6h0M389.0 1802.9h0M383.9 1789.0h0M404.5 1815.7h0M387.5 1802.6h0M398.6 1774.3h0M460.6 1794.3h0M398.6 1823.1h0M422.1 1808.1h0M451.7 1770.6h0M382.9 1815.3h0M420.6 1769.6h0M397.6 1763.4h0M383.9 1801.1h0M387.5 1814.3h0M399.1 1751.3h0M422.8 1790.6h0M398.5 1768.9h0M391.0 1782.0h0M400.5 1714.5h0M385.6 1772.8h0M427.9 1772.9h0M435.0 1796.7h0M390.0 1818.2h0M420.2 1780.8h0M434.0 1810.3h0M391.8 1811.6h0M393.7 1780.3h0M414.2 1806.8h0M419.6 1809.5h0M426.8 1812.7h0M418.5 1777.6h0M443.5 1755.4h0M405.8 1816.4h0M417.0 1760.3h0M498.6 1815.7h0M397.9 1806.4h0M450.3 1722.1h0M421.1 1810.0h0M511.1 1821.6h0M397.5 1814.8h0M409.5 1800.2h0M413.9 1809.4h0M416.4 1796.1h0M402.7 1808.1h0M385.5 1792.4h0M401.8 1787.0h0M399.3 1798.0h0M388.2 1736.7h0M422.3 1783.7h0M388.9 1779.3h0M386.3 1791.2h0M395.9 1743.6h0M447.9 1814.9h0M417.7 1764.5h0M394.9 1782.1h0M425.7 1808.6h0M417.1 1822.1h0M409.6 1788.1h0M425.8 1797.3h0M393.8 1786.0h0M397.0 1680.0h0M410.0 1816.5h0M404.0 1815.2h0M415.2 1810.7h0M407.7 1804.6h0M394.5 1795.3h0M406.3 1787.7h0M392.1 1725.1h0M382.2 1790.7h0M387.1 1737.7h0M394.9 1788.8h0M388.7 1764.9h0M408.7 1808.4h0M419.2 1798.6h0M398.7 1774.2h0M384.2 1770.5h0M421.6 1779.8h0M411.8 1804.0h0M410.1 1724.8h0M417.8 1815.6h0M391.4 1702.8h0M413.4 1812.3h0M417.4 1788.2h0M443.8 1779.1h0M388.9 1776.9h0M388.4 1811.2h0M432.8 1782.9h0M402.7 1797.5h0M422.6 1803.6h0M482.1 1818.9h0M417.9 1816.6h0M408.0 1807.1h0M404.3 1749.9h0M414.8 1821.3h0M385.6 1819.5h0M408.0 1786.1h0M441.0 1808.6h0M446.9 1750.9h0M426.8 1704.8h0M385.1 1803.0h0M392.3 1818.9h0M399.5 1731.5h0M420.6 1783.6h0M384.1 1815.4h0M425.0 1814.0h0M418.2 1811.6h0M416.5 1806.2h0M413.8 1770.8h0M396.7 1817.3h0M431.4 1717.2h0M394.6 1774.7h0M411.5 1778.4h0M394.7 1801.5h0M420.5 1795.8h0M422.7 1807.4h0M396.3 1756.0h0M397.8 1765.3h0M415.6 1816.3h0M382.4 1820.3h0M419.2 1804.8h0M404.0 1813.5h0M388.5 1766.1h0M474.3 1775.3h0M420.4 1811.3h0M414.4 1755.1h0M416.6 1782.2h0M407.1 1789.1h0M396.6 1740.8h0M386.4 1802.6h0M397.4 1815.3h0M410.9 1792.5h0M389.8 1815.9h0M413.2 1803.6h0M425.8 1732.6h0M397.1 1730.2h0M396.7 1755.6h0M411.4 1740.6h0M386.0 1792.6h0M410.3 1769.2h0M396.4 1779.2h0M394.8 1813.3h0M403.5 1794.4h0M398.5 1820.8h0M388.0 1796.2h0M430.6 1792.7h0M392.7 1703.7h0M418.2 1815.3h0M413.6 1779.3h0M407.9 1607.9h0M414.6 1822.6h0M401.8 1773.2h0M456.9 1819.3h0M408.3 1796.3h0M394.5 1796.7h0M423.1 1817.2h0M396.1 1766.1h0M438.9 1775.0h0M383.0 1818.1h0M422.1 1810.8h0M400.0 1798.1h0M402.0 1747.8h0M402.7 1761.5h0M388.1 1814.5h0M437.7 1762.8h0M396.5 1726.7h0M402.3 1817.2h0M414.5 1822.4h0M469.3 1802.3h0M394.1 1768.7h0M413.6 1796.2h0M385.3 1770.9h0M396.4 1806.8h0M426.4 1800.5h0M408.9 1810.5h0M409.5 1820.2h0M425.3 1812.7h0M396.3 1713.1h0M392.7 1765.7h0M393.5 1735.4h0M465.0 1800.6h0M385.4 1784.4h0M498.3 1770.2h0M384.3 1784.1h0M395.8 1802.4h0M401.9 1790.1h0M385.4 1815.6h0M391.9 1784.0h0M454.1 1791.3h0M448.7 1805.3h0M411.7 1712.8h0M443.6 1790.4h0M394.0 1782.7h0M393.4 1741.5h0M415.7 1781.7h0M416.8 1816.2h0M435.1 1812.4h0M410.6 1810.8h0M402.5 1781.6h0M554.8 1811.6h0M401.3 1758.2h0M403.7 1816.9h0M409.4 1785.3h0M395.8 1801.2h0M425.8 1682.3h0M417.0 1807.1h0M435.1 1798.4h0M389.1 1775.9h0M399.2 1774.5h0M396.8 1788.0h0M419.7 1820.5h0M381.6 1811.5h0M419.4 1794.7h0M401.8 1764.6h0M458.6 1604.3h0M388.5 1774.1h0M474.2 1812.0h0M418.3 1811.8h0M403.6 1818.5h0M404.0 1790.6h0M411.8 1780.8h0M429.7 1739.2h0M389.7 1778.3h0M404.7 1712.8h0M432.8 1810.6h0M420.7 1786.0h0M389.3 1812.2h0M403.3 1790.7h0M400.2 1800.9h0M397.8 1741.5h0M427.6 1807.9h0M416.6 1771.4h0M386.7 1807.9h0M409.4 1748.9h0M481.2 1813.2h0M430.1 1796.7h0M414.8 1764.6h0M396.6 1754.7h0M403.6 1747.1h0M385.3 1754.8h0M404.7 1773.6h0M408.4 1818.6h0M396.8 1759.6h0M399.6 1752.6h0M391.3 1745.2h0M419.1 1798.5h0M416.7 1816.1h0M447.7 1776.2h0M416.2 1792.6h0M388.1 1734.4h0M416.7 1814.2h0M388.6 1801.6h0M388.7 1798.4h0M394.8 1762.0h0M419.7 1807.4h0M410.9 1801.7h0M422.4 1814.3h0M471.6 1744.0h0M388.7 1784.9h0M388.5 1778.3h0M419.8 1815.8h0M391.9 1740.3h0M410.2 1810.6h0M382.1 1797.3h0M382.7 1811.6h0M400.7 1752.2h0M413.4 1794.8h0M390.7 1806.9h0M453.6 1704.0h0M386.5 1801.0h0M399.9 1797.1h0M400.1 1791.4h0M410.3 1815.3h0M397.9 1768.0h0M412.2 1823.6h0M406.0 1810.0h0M382.9 1814.4h0M403.1 1760.9h0M392.2 1748.3h0M384.5 1764.7h0M455.2 1823.0h0M385.8 1767.5h0M418.9 1748.0h0M396.0 1727.8h0M464.2 1800.9h0M394.8 1753.2h0M390.9 1794.5h0M410.1 1758.2h0M400.7 1821.5h0M444.0 1717.8h0M401.2 1805.6h0M412.6 1810.6h0M403.4 1812.1h0M410.7 1813.4h0M415.0 1790.1h0M467.7 1801.5h0M416.1 1818.3h0M410.7 1798.6h0M414.1 1821.2h0M413.8 1787.4h0M416.8 1783.4h0M422.3 1812.4h0M408.5 1821.3h0M416.0 1781.0h0M417.0 1809.2h0M385.3 1789.8h0M394.0 1794.7h0M427.7 1778.6h0M407.8 1800.4h0M380.7 1821.0h0M389.1 1821.8h0M398.4 1808.2h0M386.5 1794.2h0M388.9 1803.8h0M401.4 1723.5h0M411.1 1771.8h0M404.9 1783.5h0M402.6 1810.3h0M416.2 1803.7h0M422.3 1791.9h0M416.7 1760.9h0M414.0 1806.2h0M409.6 1756.5h0M416.0 1784.3h0M412.1 1760.9h0M385.4 1807.9h0M446.2 1811.6h0M429.7 1785.7h0M457.7 1709.9h0M418.1 1795.1h0M429.3 1804.8h0M412.7 1665.7h0M408.0 1753.1h0M423.7 1816.2h0M391.9 1747.6h0M415.7 1799.9h0M391.6 1742.6h0M381.1 1811.1h0M394.8 1823.3h0M398.3 1741.6h0M393.9 1734.4h0M429.6 1808.5h0M440.7 1808.0h0M392.1 1779.5h0M400.8 1820.4h0M420.9 1811.0h0M420.5 1783.1h0M400.1 1771.7h0M406.0 1768.0h0M450.5 1784.1h0M403.6 1749.3h0M393.3 1820.8h0M447.1 1812.1h0M428.3 1791.2h0M399.2 1794.2h0M412.9 1801.6h0M386.0 1817.6h0M415.3 1794.8h0M395.1 1697.0h0M407.0 1738.9h0M466.7 1777.9h0M383.9 1779.8h0M400.1 1697.1h0M403.7 1749.5h0M380.6 1812.1h0M391.6 1793.8h0M408.9 1809.5h0M392.3 1740.7h0M424.1 1792.8h0M396.2 1823.5h0M398.2 1816.3h0M388.0 1750.3h0M412.0 1810.8h0M392.6 1808.3h0M399.7 1676.4h0M394.3 1735.9h0M411.6 1770.4h0M396.4 1661.3h0M447.8 1769.9h0M382.4 1801.8h0M390.5 1823.7h0M410.8 1799.8h0M434.7 1811.3h0M413.8 1782.8h0M424.5 1798.1h0M386.3 1813.3h0M386.8 1800.3h0M417.8 1773.8h0M414.5 1782.5h0M387.6 1805.4h0M396.4 1799.4h0M400.4 1780.5h0M390.9 1781.9h0M401.0 1811.1h0M393.2 1804.5h0M383.0 1775.2h0M393.8 1817.3h0M392.0 1798.4h0M393.5 1790.3h0M391.9 1822.6h0M419.5 1742.9h0M446.2 1784.4h0M386.6 1774.3h0M416.6 1799.0h0M397.4 1762.2h0M402.1 1800.9h0M408.9 1811.9h0M414.4 1798.0h0M404.1 1770.0h0M395.6 1799.5h0M504.2 1784.3h0M396.1 1813.3h0M423.6 1820.8h0M400.3 1746.7h0M401.9 1803.6h0M398.6 1796.5h0M388.1 1765.4h0M443.0 1679.6h0M431.2 1804.0h0M401.0 1757.7h0M408.4 1796.4h0M408.9 1815.9h0M439.4 1821.3h0M385.7 1819.0h0M402.9 1807.3h0M392.2 1696.5h0M406.0 1802.8h0M393.7 1803.4h0M383.5 1772.7h0M407.7 1628.0h0M391.5 1810.9h0M398.0 1815.9h0M488.7 1787.4h0M410.2 1764.1h0M419.2 1795.5h0M382.3 1820.6h0M442.7 1812.5h0M385.7 1782.4h0M391.2 1766.9h0M402.8 1785.3h0M391.9 1738.6h0M389.3 1791.4h0M402.0 1794.4h0M408.0 1797.4h0M386.4 1808.7h0M429.0 1801.3h0M431.0 1814.6h0M402.4 1813.7h0M397.5 1748.1h0M422.2 1807.6h0M393.0 1803.1h0M405.7 1782.6h0M396.1 1807.5h0M416.5 1784.1h0M456.3 1812.9h0M383.1 1771.9h0M430.9 1782.6h0M460.6 1806.0h0M394.0 1806.9h0M402.1 1810.9h0M423.3 1787.5h0M407.4 1769.7h0M412.6 1440.4h0M441.9 1444.8h0M433.3 1495.4h0M526.3 1495.4h0M466.0 1556.2h0M560.8 1558.7h0M405.8 1584.0h0M431.6 1594.1h0M426.4 1597.9h0M397.1 1608.0h0M429.9 1614.4h0M502.2 1602.3h0M521.2 1610.6h0M440.2 1636.5h0M479.8 1636.5h0M424.7 1642.2h0M448.8 1646.0h0M426.4 1661.8h0M519.4 1654.2h0M503.9 1661.2h0M474.7 1685.2h0M495.3 1690.2h0M490.2 1715.6h0M521.2 1744.0h0M495.3 1743.4h0M491.9 1758.6h0M521.2 1773.7h0M493.6 1783.2h0M495.3 1783.9h0M485.0 1800.9h0" stroke="#2d62a0" stroke-width="3.4" stroke-linecap="round" fill="none"/>
<line x1="191.0" y1="1361.5" x2="191.0" y2="1852.5" stroke="#000" stroke-width="2.4"/>
<line x1="189.8" y1="1851.3" x2="557.0" y2="1851.3" stroke="#000" stroke-width="2.4"/>
<line x1="187.5" y1="1829.4" x2="191.0" y2="1829.4" stroke="#000" stroke-width="1.4"/>
<text x="184.5" y="1833.9" font-size="12.5" text-anchor="end" fill="#4d4d4d" style="stroke:#4d4d4d">0</text>
<line x1="187.5" y1="1702.9" x2="191.0" y2="1702.9" stroke="#000" stroke-width="1.4"/>
<text x="184.5" y="1707.4" font-size="12.5" text-anchor="end" fill="#4d4d4d" style="stroke:#4d4d4d">20</text>
<line x1="187.5" y1="1576.4" x2="191.0" y2="1576.4" stroke="#000" stroke-width="1.4"/>
<text x="184.5" y="1580.9" font-size="12.5" text-anchor="end" fill="#4d4d4d" style="stroke:#4d4d4d">40</text>
<line x1="187.5" y1="1449.9" x2="191.0" y2="1449.9" stroke="#000" stroke-width="1.4"/>
<text x="184.5" y="1454.4" font-size="12.5" text-anchor="end" fill="#4d4d4d" style="stroke:#4d4d4d">60</text>
<line x1="199.1" y1="1851.3" x2="199.1" y2="1855.3" stroke="#000" stroke-width="1.4"/>
<text x="199.1" y="1869.5" font-size="12.5" text-anchor="middle" fill="#4d4d4d" style="stroke:#4d4d4d">−5.0</text>
<line x1="285.2" y1="1851.3" x2="285.2" y2="1855.3" stroke="#000" stroke-width="1.4"/>
<text x="285.2" y="1869.5" font-size="12.5" text-anchor="middle" fill="#4d4d4d" style="stroke:#4d4d4d">−2.5</text>
<line x1="371.3" y1="1851.3" x2="371.3" y2="1855.3" stroke="#000" stroke-width="1.4"/>
<text x="371.3" y="1869.5" font-size="12.5" text-anchor="middle" fill="#4d4d4d" style="stroke:#4d4d4d">0.0</text>
<line x1="457.4" y1="1851.3" x2="457.4" y2="1855.3" stroke="#000" stroke-width="1.4"/>
<text x="457.4" y="1869.5" font-size="12.5" text-anchor="middle" fill="#4d4d4d" style="stroke:#4d4d4d">2.5</text>
<line x1="543.5" y1="1851.3" x2="543.5" y2="1855.3" stroke="#000" stroke-width="1.4"/>
<text x="543.5" y="1869.5" font-size="12.5" text-anchor="middle" fill="#4d4d4d" style="stroke:#4d4d4d">5.0</text>
<text x="251.5" y="1897" font-size="29.3">log<tspan font-size="19.5" dy="8">2</tspan><tspan dy="-8">(fold-change)</tspan></text>
<text font-size="30" transform="translate(148 1551) rotate(-90)" text-anchor="middle">-log<tspan font-size="20" dy="8">10</tspan><tspan dy="-8">(P value)</tspan></text>
<text x="590.0" y="1448.3" font-size="29">FDR &lt; 0.05</text>
<rect x="590" y="1500" width="44" height="44" fill="#f2f2f2"/>
<rect x="592" y="1560" width="45" height="45" fill="#f2f2f2"/>
<circle cx="612.0" cy="1521.4" r="5.6" fill="#3f7fb3"/>
<circle cx="613.6" cy="1582.3" r="5.6" fill="#f4b6b0"/>
<text x="645.5" y="1527.7" font-size="24">upregulated (1019)</text>
<text x="643.5" y="1588.7" font-size="24">downregulated (1600)</text>
<line x1="1281.0" y1="1386.3" x2="1281.0" y2="1743.7" stroke="#000" stroke-width="2.4"/>
<line x1="1279.8" y1="1742.5" x2="1812.5" y2="1742.5" stroke="#000" stroke-width="2.4"/>
<line x1="1266.0" y1="1742.5" x2="1281.0" y2="1742.5" stroke="#000" stroke-width="2.2"/>
<text x="1261.5" y="1752.0" font-size="27" text-anchor="end">1600</text>
<line x1="1266.0" y1="1671.5" x2="1281.0" y2="1671.5" stroke="#000" stroke-width="2.2"/>
<text x="1261.5" y="1681.0" font-size="27" text-anchor="end">1800</text>
<line x1="1266.0" y1="1600.5" x2="1281.0" y2="1600.5" stroke="#000" stroke-width="2.2"/>
<text x="1261.5" y="1610.0" font-size="27" text-anchor="end">2000</text>
<line x1="1266.0" y1="1529.5" x2="1281.0" y2="1529.5" stroke="#000" stroke-width="2.2"/>
<text x="1261.5" y="1539.0" font-size="27" text-anchor="end">2200</text>
<line x1="1266.0" y1="1458.5" x2="1281.0" y2="1458.5" stroke="#000" stroke-width="2.2"/>
<text x="1261.5" y="1468.0" font-size="27" text-anchor="end">2400</text>
<line x1="1266.0" y1="1387.5" x2="1281.0" y2="1387.5" stroke="#000" stroke-width="2.2"/>
<text x="1261.5" y="1397.0" font-size="27" text-anchor="end">2600</text>
<line x1="1281.0" y1="1742.5" x2="1281.0" y2="1750.5" stroke="#000" stroke-width="2.2"/>
<text x="1281.0" y="1787.5" font-size="27" text-anchor="middle">0</text>
<line x1="1432.8" y1="1742.5" x2="1432.8" y2="1750.5" stroke="#000" stroke-width="2.2"/>
<text x="1432.8" y="1787.5" font-size="27" text-anchor="middle">1</text>
<line x1="1584.7" y1="1742.5" x2="1584.7" y2="1750.5" stroke="#000" stroke-width="2.2"/>
<text x="1584.7" y="1787.5" font-size="27" text-anchor="middle">2</text>
<line x1="1736.5" y1="1742.5" x2="1736.5" y2="1750.5" stroke="#000" stroke-width="2.2"/>
<text x="1736.5" y="1787.5" font-size="27" text-anchor="middle">3</text>
<text x="1544.0" y="1827.5" font-size="26" text-anchor="middle">Days</text>
<text font-size="32" text-anchor="middle" transform="translate(1186 1557.5) rotate(-90)">Cell number</text>
<line x1="1281.0" y1="1600.0" x2="1281.0" y2="1663.5" stroke="#1a1a2a" stroke-width="2.4"/>
<line x1="1273.5" y1="1600.0" x2="1288.5" y2="1600.0" stroke="#1a1a2a" stroke-width="2.4"/>
<line x1="1273.5" y1="1663.5" x2="1288.5" y2="1663.5" stroke="#1a1a2a" stroke-width="2.4"/>
<line x1="1281.0" y1="1600.0" x2="1281.0" y2="1629.0" stroke="#1a1a2a" stroke-width="2.4"/>
<line x1="1273.5" y1="1600.0" x2="1288.5" y2="1600.0" stroke="#1a1a2a" stroke-width="2.4"/>
<line x1="1273.5" y1="1629.0" x2="1288.5" y2="1629.0" stroke="#1a1a2a" stroke-width="2.4"/>
<line x1="1432.8" y1="1573.5" x2="1432.8" y2="1615.0" stroke="#1a1a2a" stroke-width="2.4"/>
<line x1="1425.3" y1="1573.5" x2="1440.3" y2="1573.5" stroke="#1a1a2a" stroke-width="2.4"/>
<line x1="1425.3" y1="1615.0" x2="1440.3" y2="1615.0" stroke="#1a1a2a" stroke-width="2.4"/>
<line x1="1432.8" y1="1573.5" x2="1432.8" y2="1592.5" stroke="#1a1a2a" stroke-width="2.4"/>
<line x1="1425.3" y1="1573.5" x2="1440.3" y2="1573.5" stroke="#1a1a2a" stroke-width="2.4"/>
<line x1="1425.3" y1="1592.5" x2="1440.3" y2="1592.5" stroke="#1a1a2a" stroke-width="2.4"/>
<line x1="1584.7" y1="1525.0" x2="1584.7" y2="1572.5" stroke="#1a1a2a" stroke-width="2.4"/>
<line x1="1577.2" y1="1525.0" x2="1592.2" y2="1525.0" stroke="#1a1a2a" stroke-width="2.4"/>
<line x1="1577.2" y1="1572.5" x2="1592.2" y2="1572.5" stroke="#1a1a2a" stroke-width="2.4"/>
<line x1="1584.7" y1="1485.0" x2="1584.7" y2="1525.0" stroke="#1a1a2a" stroke-width="2.4"/>
<line x1="1577.2" y1="1485.0" x2="1592.2" y2="1485.0" stroke="#1a1a2a" stroke-width="2.4"/>
<line x1="1577.2" y1="1525.0" x2="1592.2" y2="1525.0" stroke="#1a1a2a" stroke-width="2.4"/>
<line x1="1736.5" y1="1462.5" x2="1736.5" y2="1524.0" stroke="#1a1a2a" stroke-width="2.4"/>
<line x1="1729.0" y1="1462.5" x2="1744.0" y2="1462.5" stroke="#1a1a2a" stroke-width="2.4"/>
<line x1="1729.0" y1="1524.0" x2="1744.0" y2="1524.0" stroke="#1a1a2a" stroke-width="2.4"/>
<line x1="1736.5" y1="1472.5" x2="1736.5" y2="1524.0" stroke="#1a1a2a" stroke-width="2.4"/>
<line x1="1729.0" y1="1472.5" x2="1744.0" y2="1472.5" stroke="#1a1a2a" stroke-width="2.4"/>
<line x1="1729.0" y1="1524.0" x2="1744.0" y2="1524.0" stroke="#1a1a2a" stroke-width="2.4"/>
<path d="M1281.0 1640.3 L1432.8 1595.2 L1584.7 1541.2 L1736.5 1485.1" fill="none" stroke="#2e2456" stroke-width="2.4"/>
<path d="M1281.0 1614.0 L1432.8 1583.5 L1584.7 1504.7 L1736.5 1494.0" fill="none" stroke="#4262a8" stroke-width="2.4"/>
<circle cx="1281.0" cy="1640.3" r="6.6" fill="#2e2456" stroke="#17122b" stroke-width="1.2"/>
<circle cx="1432.8" cy="1595.2" r="6.6" fill="#2e2456" stroke="#17122b" stroke-width="1.2"/>
<circle cx="1584.7" cy="1541.2" r="6.6" fill="#2e2456" stroke="#17122b" stroke-width="1.2"/>
<circle cx="1736.5" cy="1485.1" r="6.6" fill="#2e2456" stroke="#17122b" stroke-width="1.2"/>
<rect x="1274.5" y="1607.5" width="13" height="13" fill="#4262a8" stroke="#2d4272" stroke-width="1"/>
<rect x="1426.3" y="1577.0" width="13" height="13" fill="#4262a8" stroke="#2d4272" stroke-width="1"/>
<rect x="1578.2" y="1498.2" width="13" height="13" fill="#4262a8" stroke="#2d4272" stroke-width="1"/>
<rect x="1730.0" y="1487.5" width="13" height="13" fill="#4262a8" stroke="#2d4272" stroke-width="1"/>
<line x1="1302.0" y1="1407.9" x2="1342.0" y2="1407.9" stroke="#1d1a30" stroke-width="2.2"/>
<circle cx="1321.6" cy="1407.9" r="6.6" fill="#2e2456" stroke="#17122b" stroke-width="1.2"/>
<line x1="1302.0" y1="1457.0" x2="1342.0" y2="1457.0" stroke="#2f4477" stroke-width="2.2"/>
<rect x="1315.4" y="1450.5" width="13" height="13" fill="#4262a8" stroke="#2d4272" stroke-width="1"/>
<text x="1362.0" y="1419.0" font-size="25.5">vehicle (DMSO)</text>
<text x="1362.0" y="1467.5" font-size="25.5">simvastatin</text>
<line x1="413.5" y1="1959.0" x2="413.5" y2="2667.0" stroke="#8a8a8a" stroke-width="2.0"/>
<line x1="412.5" y1="2666.0" x2="644.0" y2="2666.0" stroke="#4d4d4d" stroke-width="2.0"/>
<line x1="529.0" y1="2666.0" x2="529.0" y2="2670.0" stroke="#7a7a7a" stroke-width="1.4"/>
<line x1="409.0" y1="1998.5" x2="413.5" y2="1998.5" stroke="#5a5a5a" stroke-width="1.6"/>
<text x="396.5" y="2007.6" font-size="26" text-anchor="end" fill="#1a1a1a" style="stroke:#1a1a1a">plasma membrane</text>
<circle cx="529.0" cy="1998.5" r="9.5" fill="#3d6c93"/>
<line x1="409.0" y1="2068.5" x2="413.5" y2="2068.5" stroke="#5a5a5a" stroke-width="1.6"/>
<text x="396.5" y="2077.6" font-size="26" text-anchor="end" fill="#1a1a1a" style="stroke:#1a1a1a">peroxisome</text>
<circle cx="529.0" cy="2068.5" r="5" fill="#0d0d0d"/>
<line x1="409.0" y1="2138.5" x2="413.5" y2="2138.5" stroke="#5a5a5a" stroke-width="1.6"/>
<text x="396.5" y="2147.6" font-size="26" text-anchor="end" fill="#1a1a1a" style="stroke:#1a1a1a">lysosome</text>
<circle cx="529.0" cy="2138.5" r="11.4" fill="#0d0d0d"/>
<line x1="409.0" y1="2208.0" x2="413.5" y2="2208.0" stroke="#5a5a5a" stroke-width="1.6"/>
<text x="396.5" y="2217.1" font-size="26" text-anchor="end" fill="#1a1a1a" style="stroke:#1a1a1a">integral component of membrane</text>
<circle cx="529.0" cy="2208.0" r="11" fill="#4b8ec6"/>
<line x1="409.0" y1="2277.5" x2="413.5" y2="2277.5" stroke="#5a5a5a" stroke-width="1.6"/>
<text x="396.5" y="2286.6" font-size="26" text-anchor="end" fill="#1a1a1a" style="stroke:#1a1a1a">Golgi membrane</text>
<circle cx="529.0" cy="2277.5" r="11.5" fill="#111416"/>
<line x1="409.0" y1="2346.5" x2="413.5" y2="2346.5" stroke="#5a5a5a" stroke-width="1.6"/>
<text x="396.5" y="2355.6" font-size="26" text-anchor="end" fill="#1a1a1a" style="stroke:#1a1a1a">Golgi apparatus</text>
<circle cx="529.0" cy="2346.5" r="11.5" fill="#1a1f26"/>
<line x1="409.0" y1="2416.0" x2="413.5" y2="2416.0" stroke="#5a5a5a" stroke-width="1.6"/>
<text x="396.5" y="2425.1" font-size="26" text-anchor="end" fill="#1a1a1a" style="stroke:#1a1a1a">endoplasmic reticulum membrane</text>
<circle cx="529.0" cy="2416.0" r="6" fill="#0d0d0d"/>
<line x1="409.0" y1="2485.5" x2="413.5" y2="2485.5" stroke="#5a5a5a" stroke-width="1.6"/>
<text x="396.5" y="2494.6" font-size="26" text-anchor="end" fill="#1a1a1a" style="stroke:#1a1a1a">endoplasmic reticulum</text>
<circle cx="529.0" cy="2485.5" r="3.2" fill="#0d0d0d"/>
<line x1="409.0" y1="2555.5" x2="413.5" y2="2555.5" stroke="#5a5a5a" stroke-width="1.6"/>
<text x="396.5" y="2564.6" font-size="26" text-anchor="end" fill="#1a1a1a" style="stroke:#1a1a1a">endomembrane system</text>
<circle cx="529.0" cy="2555.5" r="5" fill="#0d0d0d"/>
<line x1="409.0" y1="2625.0" x2="413.5" y2="2625.0" stroke="#5a5a5a" stroke-width="1.6"/>
<text x="396.5" y="2634.1" font-size="26" text-anchor="end" fill="#1a1a1a" style="stroke:#1a1a1a">cytoplasmic vesicle</text>
<circle cx="529.0" cy="2625.0" r="8.5" fill="#0d0d0d"/>
<text x="430.0" y="1942.5" font-size="39" fill="#2f6aa8" style="stroke:#2f6aa8">upregulated</text>
<line x1="1122.5" y1="1957.5" x2="1122.5" y2="2666.0" stroke="#8a8a8a" stroke-width="2.0"/>
<line x1="1121.5" y1="2665.0" x2="1314.0" y2="2665.0" stroke="#4d4d4d" stroke-width="2.0"/>
<line x1="1218.5" y1="2665.0" x2="1218.5" y2="2669.0" stroke="#7a7a7a" stroke-width="1.4"/>
<line x1="1118.0" y1="1998.5" x2="1122.5" y2="1998.5" stroke="#5a5a5a" stroke-width="1.6"/>
<text x="1105.0" y="2006.5" font-size="23" text-anchor="end" fill="#1a1a1a" style="stroke:#1a1a1a">spindle pole</text>
<circle cx="1218.5" cy="1998.5" r="3.5" fill="#0d0d0d"/>
<line x1="1118.0" y1="2067.5" x2="1122.5" y2="2067.5" stroke="#5a5a5a" stroke-width="1.6"/>
<text x="1105.0" y="2075.6" font-size="23" text-anchor="end" fill="#d42a31" style="stroke:#d42a31">nucleus</text>
<circle cx="1218.5" cy="2067.5" r="8" fill="#4a8ec6"/>
<line x1="1118.0" y1="2137.0" x2="1122.5" y2="2137.0" stroke="#5a5a5a" stroke-width="1.6"/>
<text x="1105.0" y="2145.1" font-size="23" text-anchor="end" fill="#d42a31" style="stroke:#d42a31">nucleosome</text>
<circle cx="1218.5" cy="2137.0" r="7.5" fill="#0d0d0d"/>
<line x1="1118.0" y1="2206.5" x2="1122.5" y2="2206.5" stroke="#5a5a5a" stroke-width="1.6"/>
<text x="1105.0" y="2214.6" font-size="23" text-anchor="end" fill="#d42a31" style="stroke:#d42a31">nucleoplasm</text>
<circle cx="1218.5" cy="2206.5" r="11.5" fill="#3d6c93"/>
<line x1="1118.0" y1="2276.0" x2="1122.5" y2="2276.0" stroke="#5a5a5a" stroke-width="1.6"/>
<text x="1105.0" y="2284.1" font-size="23" text-anchor="end" fill="#d42a31" style="stroke:#d42a31">nucleolus</text>
<circle cx="1218.5" cy="2276.0" r="9" fill="#1e2a36"/>
<line x1="1118.0" y1="2346.0" x2="1122.5" y2="2346.0" stroke="#5a5a5a" stroke-width="1.6"/>
<text x="1105.0" y="2354.1" font-size="23" text-anchor="end" fill="#d42a31" style="stroke:#d42a31">nuclear nucleosome</text>
<circle cx="1218.5" cy="2346.0" r="5" fill="#0d0d0d"/>
<line x1="1118.0" y1="2415.0" x2="1122.5" y2="2415.0" stroke="#5a5a5a" stroke-width="1.6"/>
<text x="1105.0" y="2423.1" font-size="23" text-anchor="end" fill="#d42a31" style="stroke:#d42a31">nuclear chromosome telomeric region</text>
<circle cx="1218.5" cy="2415.0" r="5" fill="#0d0d0d"/>
<line x1="1118.0" y1="2484.5" x2="1122.5" y2="2484.5" stroke="#5a5a5a" stroke-width="1.6"/>
<text x="1105.0" y="2492.6" font-size="23" text-anchor="end" fill="#d42a31" style="stroke:#d42a31">nuclear chromosome</text>
<circle cx="1218.5" cy="2484.5" r="5" fill="#0d0d0d"/>
<line x1="1118.0" y1="2554.5" x2="1122.5" y2="2554.5" stroke="#5a5a5a" stroke-width="1.6"/>
<text x="1105.0" y="2562.6" font-size="23" text-anchor="end" fill="#1a1a1a" style="stroke:#1a1a1a">cytoplasm</text>
<circle cx="1218.5" cy="2554.5" r="6" fill="#3f80b8"/>
<line x1="1118.0" y1="2624.0" x2="1122.5" y2="2624.0" stroke="#5a5a5a" stroke-width="1.6"/>
<text x="1105.0" y="2632.1" font-size="23" text-anchor="end" fill="#1a1a1a" style="stroke:#1a1a1a">centrosome</text>
<circle cx="1218.5" cy="2624.0" r="5" fill="#0d0d0d"/>
<text x="1112.0" y="1932.5" font-size="39" fill="#d42a31" style="stroke:#d42a31">downregulated</text>
<text x="621.5" y="2002.5" font-size="22" fill="#1a1a1a">−log<tspan font-size="14" dy="5">10</tspan><tspan dy="-5">(P Value)</tspan></text>
<rect x="621" y="2017" width="25" height="78" fill="#f8f8f5"/>
<circle cx="634.0" cy="2028.5" r="4.6" fill="#000"/>
<text x="656.5" y="2036.5" font-size="22" fill="#1a1a1a" style="stroke:#1a1a1a">3</text>
<circle cx="634.0" cy="2053.7" r="8.2" fill="#000"/>
<text x="656.5" y="2061.7" font-size="22" fill="#1a1a1a" style="stroke:#1a1a1a">4</text>
<circle cx="634.0" cy="2079.6" r="10.1" fill="#000"/>
<text x="656.5" y="2087.6" font-size="22" fill="#1a1a1a" style="stroke:#1a1a1a">5</text>
<text x="1304" y="2000" font-size="22" fill="#1a1a1a">−log<tspan font-size="14" dy="5">10</tspan><tspan dy="-5">(P Value)</tspan></text>
<rect x="1304" y="2013" width="25" height="102" fill="#f8f8f5"/>
<circle cx="1316.5" cy="2025.0" r="6.5" fill="#000"/>
<text x="1339.5" y="2032.5" font-size="21.5" fill="#1a1a1a" style="stroke:#1a1a1a">20</text>
<circle cx="1316.5" cy="2050.2" r="8.3" fill="#000"/>
<text x="1339.5" y="2057.7" font-size="21.5" fill="#1a1a1a" style="stroke:#1a1a1a">40</text>
<circle cx="1316.5" cy="2075.8" r="9.6" fill="#000"/>
<text x="1339.5" y="2083.3" font-size="21.5" fill="#1a1a1a" style="stroke:#1a1a1a">60</text>
<circle cx="1316.5" cy="2101.3" r="10.9" fill="#000"/>
<text x="1339.5" y="2108.8" font-size="21.5" fill="#1a1a1a" style="stroke:#1a1a1a">80</text>
<defs><linearGradient id="cb" x1="0" y1="0" x2="0" y2="1"><stop offset="0" stop-color="#5a9fd6"/><stop offset="0.3" stop-color="#3f7299"/><stop offset="0.6" stop-color="#223a50"/><stop offset="0.85" stop-color="#0f1419"/><stop offset="1" stop-color="#000"/></linearGradient><linearGradient id="cb2" x1="0" y1="0" x2="0" y2="1"><stop offset="0" stop-color="#3f88bc"/><stop offset="0.3" stop-color="#30648a"/><stop offset="0.55" stop-color="#213a4f"/><stop offset="0.82" stop-color="#131619"/><stop offset="1" stop-color="#000"/></linearGradient></defs>
<text x="628.5" y="2509.0" font-size="22" fill="#1a1a1a" style="stroke:#1a1a1a">Count</text>
<rect x="627.5" y="2522.5" width="28.5" height="128.5" fill="url(#cb2)"/>
<line x1="627.5" y1="2557.5" x2="632.0" y2="2557.5" stroke="#fff" stroke-width="1.2"/>
<line x1="651.5" y1="2557.5" x2="656.0" y2="2557.5" stroke="#fff" stroke-width="1.2"/>
<text x="665.5" y="2565.5" font-size="22" fill="#1a1a1a" style="stroke:#1a1a1a">300</text>
<line x1="627.5" y1="2591.0" x2="632.0" y2="2591.0" stroke="#fff" stroke-width="1.2"/>
<line x1="651.5" y1="2591.0" x2="656.0" y2="2591.0" stroke="#fff" stroke-width="1.2"/>
<text x="665.5" y="2599.0" font-size="22" fill="#1a1a1a" style="stroke:#1a1a1a">200</text>
<line x1="627.5" y1="2622.5" x2="632.0" y2="2622.5" stroke="#fff" stroke-width="1.2"/>
<line x1="651.5" y1="2622.5" x2="656.0" y2="2622.5" stroke="#fff" stroke-width="1.2"/>
<text x="665.5" y="2630.5" font-size="22" fill="#1a1a1a" style="stroke:#1a1a1a">100</text>
<text x="1301.0" y="2500.0" font-size="22" fill="#1a1a1a" style="stroke:#1a1a1a">Count</text>
<rect x="1301" y="2513" width="25" height="127.5" fill="url(#cb2)"/>
<line x1="1301.0" y1="2526.3" x2="1305.0" y2="2526.3" stroke="#fff" stroke-width="1.2"/>
<line x1="1322.0" y1="2526.3" x2="1326.0" y2="2526.3" stroke="#fff" stroke-width="1.2"/>
<text x="1337.0" y="2534.3" font-size="22" fill="#1a1a1a" style="stroke:#1a1a1a">500</text>
<line x1="1301.0" y1="2549.6" x2="1305.0" y2="2549.6" stroke="#fff" stroke-width="1.2"/>
<line x1="1322.0" y1="2549.6" x2="1326.0" y2="2549.6" stroke="#fff" stroke-width="1.2"/>
<text x="1337.0" y="2557.6" font-size="22" fill="#1a1a1a" style="stroke:#1a1a1a">400</text>
<line x1="1301.0" y1="2573.4" x2="1305.0" y2="2573.4" stroke="#fff" stroke-width="1.2"/>
<line x1="1322.0" y1="2573.4" x2="1326.0" y2="2573.4" stroke="#fff" stroke-width="1.2"/>
<text x="1337.0" y="2581.4" font-size="22" fill="#1a1a1a" style="stroke:#1a1a1a">300</text>
<line x1="1301.0" y1="2596.7" x2="1305.0" y2="2596.7" stroke="#fff" stroke-width="1.2"/>
<line x1="1322.0" y1="2596.7" x2="1326.0" y2="2596.7" stroke="#fff" stroke-width="1.2"/>
<text x="1337.0" y="2604.7" font-size="22" fill="#1a1a1a" style="stroke:#1a1a1a">200</text>
<line x1="1301.0" y1="2620.0" x2="1305.0" y2="2620.0" stroke="#fff" stroke-width="1.2"/>
<line x1="1322.0" y1="2620.0" x2="1326.0" y2="2620.0" stroke="#fff" stroke-width="1.2"/>
<text x="1337.0" y="2628.0" font-size="22" fill="#1a1a1a" style="stroke:#1a1a1a">100</text>
<text x="393.0" y="2707.5" font-size="31.5" fill="#1a1a1a" style="stroke:#1a1a1a">cellular components</text>
<text x="1086.0" y="2705.0" font-size="31.5" fill="#1a1a1a" style="stroke:#1a1a1a">cellular components</text>
</svg></body></html>
